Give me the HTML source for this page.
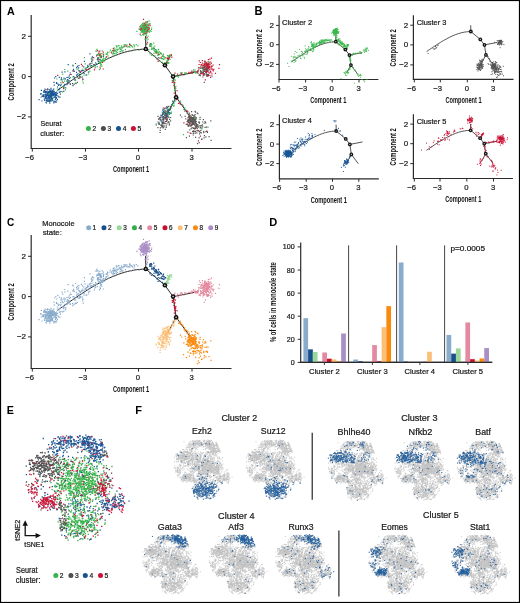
<!DOCTYPE html>
<html><head><meta charset="utf-8"><title>Figure</title>
<style>html,body{margin:0;padding:0;background:#fff;} svg{display:block;will-change:transform;}</style>
</head><body>
<svg width="520" height="603" viewBox="0 0 520 603" font-family='"Liberation Sans", sans-serif'>
<rect x="0" y="0" width="520" height="603" fill="#fff"/>
<line x1="31.20" y1="15.00" x2="31.20" y2="148.50" stroke="#2b2b2b" stroke-width="1.2"/>
<line x1="30.60" y1="148.50" x2="231.50" y2="148.50" stroke="#2b2b2b" stroke-width="1.2"/>
<line x1="28.00" y1="36.30" x2="31.20" y2="36.30" stroke="#2b2b2b" stroke-width="1.0"/>
<text x="21.58" y="38.80" font-size="7.96" fill="#1a1a1a" stroke="#1a1a1a" stroke-width="0.22">2</text>
<line x1="28.00" y1="76.60" x2="31.20" y2="76.60" stroke="#2b2b2b" stroke-width="1.0"/>
<text x="21.48" y="79.10" font-size="7.96" fill="#1a1a1a" stroke="#1a1a1a" stroke-width="0.22">0</text>
<line x1="28.00" y1="116.90" x2="31.20" y2="116.90" stroke="#2b2b2b" stroke-width="1.0"/>
<text x="16.93" y="119.40" font-size="7.96" fill="#1a1a1a" stroke="#1a1a1a" stroke-width="0.22">−2</text>
<line x1="32.30" y1="148.50" x2="32.30" y2="151.60" stroke="#2b2b2b" stroke-width="1.0"/>
<text x="25.16" y="160.00" font-size="7.67" fill="#1a1a1a" stroke="#1a1a1a" stroke-width="0.22">−6</text>
<line x1="85.50" y1="148.50" x2="85.50" y2="151.60" stroke="#2b2b2b" stroke-width="1.0"/>
<text x="78.41" y="160.00" font-size="7.67" fill="#1a1a1a" stroke="#1a1a1a" stroke-width="0.22">−3</text>
<line x1="138.50" y1="148.50" x2="138.50" y2="151.60" stroke="#2b2b2b" stroke-width="1.0"/>
<text x="135.86" y="160.00" font-size="7.67" fill="#1a1a1a" stroke="#1a1a1a" stroke-width="0.22">0</text>
<line x1="192.00" y1="148.50" x2="192.00" y2="151.60" stroke="#2b2b2b" stroke-width="1.0"/>
<text x="189.39" y="160.00" font-size="7.67" fill="#1a1a1a" stroke="#1a1a1a" stroke-width="0.22">3</text>
<text x="112.92" y="172.40" font-size="9.25" fill="#111" font-weight="bold" textLength="36.19" lengthAdjust="spacingAndGlyphs">Component 1</text>
<text x="0" y="0" font-size="9.61" fill="#111" font-weight="bold" textLength="37.17" lengthAdjust="spacingAndGlyphs" transform="translate(13.85 100.48) rotate(-90)">Component 2</text>
<text x="6.88" y="14.80" font-size="11.42" fill="#000" font-weight="bold" textLength="7.76" lengthAdjust="spacingAndGlyphs">A</text>
<path d="M57.50 90.29 L60.54 88.14 L63.59 85.99 L66.63 83.86 L69.68 81.74 L72.72 79.64 L75.77 77.57 L78.81 75.54 L81.86 73.54 L84.90 71.58 L87.95 69.67 L90.99 67.81 L94.04 66.01 L97.08 64.27 L100.13 62.61 L103.17 61.01 L106.22 59.49 L109.26 58.06 L112.31 56.71 L115.35 55.46 L118.40 54.30 L121.44 53.25 L124.49 52.31 L127.53 51.48 L130.58 50.77 L133.62 50.19 L136.67 49.73 L139.71 49.41 L142.76 49.23 L145.80 49.19" fill="none" stroke="#2a2a2a" stroke-width="1.0"/>
<path d="M145.80 49.00 L145.60 36.00" fill="none" stroke="#2a2a2a" stroke-width="1.0"/>
<path d="M145.80 49.00 L164.90 65.30 L173.10 76.60 L176.10 97.20" fill="none" stroke="#2a2a2a" stroke-width="1.0"/>
<path d="M173.10 76.60 L198.50 71.60" fill="none" stroke="#2a2a2a" stroke-width="1.0"/>
<path d="M176.10 97.20 L167.80 113.00" fill="none" stroke="#2a2a2a" stroke-width="1.0"/>
<path d="M176.10 97.20 L190.00 116.50" fill="none" stroke="#2a2a2a" stroke-width="1.0"/>
<path d="M129.7 45.2h1.2M185.5 73.3h1.2M79.9 72.0h1.2M96.0 55.8h1.2M203.7 64.2h1.2M208.2 67.6h1.2M146.9 29.5h1.2M99.4 51.0h1.2M167.9 110.1h1.2M203.7 63.8h1.2M191.7 73.1h1.2M205.6 62.4h1.2M202.7 71.6h1.2M166.5 58.1h1.2M176.1 99.7h1.2M212.5 65.2h1.2M191.5 118.7h1.2M176.9 74.2h1.2M144.4 27.3h1.2M146.6 28.1h1.2M139.3 29.4h1.2M163.3 117.7h1.2M99.5 67.2h1.2M206.9 74.7h1.2M173.7 93.2h1.2M205.0 65.9h1.2M206.1 71.9h1.2M208.0 68.6h1.2M145.6 28.8h1.2M102.7 52.2h1.2M139.3 26.8h1.2M93.8 69.8h1.2M143.7 25.8h1.2M173.4 85.7h1.2M148.4 24.1h1.2M212.7 70.9h1.2M208.7 73.2h1.2M85.5 69.0h1.2M57.1 75.4h1.2M199.7 62.5h1.2M207.7 76.0h1.2M206.2 65.0h1.2M207.7 64.9h1.2M194.0 71.8h1.2M145.2 26.8h1.2M197.0 71.7h1.2M209.3 59.1h1.2M205.5 64.4h1.2M97.5 58.8h1.2M211.4 73.8h1.2M143.9 30.0h1.2M202.4 72.4h1.2M177.9 103.4h1.2M189.6 133.2h1.2M165.1 112.9h1.2M157.5 61.3h1.2M88.4 68.9h1.2M160.8 53.7h1.2M202.9 65.5h1.2M124.4 45.8h1.2M206.1 63.5h1.2M142.8 26.5h1.2M206.0 64.0h1.2M204.2 64.8h1.2M201.8 63.0h1.2M209.4 75.5h1.2M143.3 24.9h1.2M167.2 62.6h1.2M148.4 24.7h1.2M113.5 50.3h1.2M148.3 31.6h1.2M205.1 66.4h1.2M190.7 121.4h1.2M206.8 65.0h1.2M143.3 23.2h1.2M189.7 122.1h1.2M102.7 69.0h1.2M158.7 119.0h1.2M210.6 68.9h1.2M163.8 112.3h1.2M205.5 72.4h1.2M139.9 26.3h1.2M62.5 82.7h1.2M167.6 57.1h1.2M199.9 73.3h1.2M167.2 62.0h1.2M142.2 25.7h1.2M169.0 57.4h1.2M205.9 67.2h1.2M191.1 71.1h1.2M209.4 67.6h1.2M206.2 75.7h1.2M207.9 75.2h1.2" stroke="#cc1538" stroke-width="1.24"/>
<path d="M192.3 118.0h1.2M77.3 69.2h1.2M153.6 56.1h1.2M146.3 27.3h1.2M98.2 53.9h1.2M142.4 31.7h1.2M93.6 64.9h1.2M145.9 28.6h1.2M196.9 70.9h1.2M69.8 77.7h1.2M185.4 73.0h1.2M99.3 56.9h1.2M156.8 58.4h1.2M145.7 35.5h1.2M145.0 27.0h1.2M181.3 73.2h1.2M121.3 46.8h1.2M148.4 27.0h1.2M194.5 122.2h1.2M62.1 74.2h1.2M140.6 28.5h1.2M182.9 134.6h1.2M74.7 83.1h1.2M145.4 27.2h1.2M158.9 54.6h1.2M146.3 30.3h1.2M149.4 52.7h1.2M103.6 61.2h1.2M130.8 45.7h1.2M194.8 73.0h1.2M145.6 34.3h1.2M161.4 56.7h1.2M169.2 56.4h1.2M133.6 48.0h1.2M96.3 51.1h1.2M188.2 115.2h1.2M99.3 54.3h1.2M166.8 60.0h1.2M189.7 115.5h1.2M171.8 104.1h1.2M197.8 127.2h1.2M140.1 25.9h1.2M108.0 58.2h1.2M99.8 68.6h1.2M158.6 51.6h1.2M151.2 55.3h1.2M145.8 29.4h1.2M150.9 29.4h1.2M121.7 51.0h1.2M148.2 27.0h1.2M155.7 125.2h1.2M68.6 80.9h1.2M115.0 50.6h1.2M194.9 71.9h1.2M168.3 57.4h1.2M207.1 63.6h1.2M148.5 30.1h1.2M101.0 56.3h1.2M145.6 31.7h1.2M115.4 49.2h1.2M159.6 53.1h1.2M174.5 90.5h1.2M144.8 30.9h1.2M143.3 34.9h1.2M60.2 82.7h1.2M135.7 44.6h1.2M89.3 71.2h1.2M145.3 26.9h1.2M163.1 59.3h1.2M180.1 73.9h1.2M101.3 53.6h1.2M86.2 74.8h1.2M138.5 50.2h1.2M172.2 81.0h1.2M88.1 74.0h1.2M153.2 49.9h1.2M168.3 63.1h1.2M76.0 69.0h1.2M119.5 49.1h1.2M150.5 31.4h1.2M151.3 47.1h1.2M106.9 54.1h1.2M87.1 67.0h1.2M154.8 51.5h1.2M146.0 26.0h1.2M168.3 56.0h1.2M101.9 60.0h1.2M145.6 35.9h1.2M72.2 65.1h1.2M146.3 21.8h1.2M149.6 23.8h1.2M146.0 30.3h1.2M101.4 61.4h1.2M100.2 65.3h1.2M144.6 31.7h1.2M99.5 56.3h1.2M194.4 70.1h1.2M58.7 88.4h1.2M160.5 53.3h1.2M144.6 28.3h1.2M146.4 32.8h1.2M141.1 31.5h1.2M138.3 29.0h1.2M138.9 29.0h1.2M62.7 87.5h1.2M207.1 64.6h1.2M156.5 51.8h1.2M145.4 22.1h1.2M185.6 73.1h1.2M140.8 29.9h1.2M122.4 50.9h1.2M167.1 118.2h1.2M147.9 27.7h1.2M144.6 27.0h1.2M148.8 32.2h1.2M95.3 51.2h1.2M110.9 51.9h1.2M174.1 87.7h1.2M66.5 81.5h1.2M82.7 83.1h1.2M107.4 55.9h1.2M142.8 26.7h1.2M100.5 57.4h1.2M145.4 31.1h1.2M164.6 118.0h1.2M153.4 53.4h1.2M167.5 62.7h1.2M193.9 72.5h1.2M119.7 51.4h1.2M113.9 53.6h1.2M170.9 112.1h1.2M157.6 50.0h1.2M194.2 118.6h1.2M147.8 28.1h1.2M207.4 127.1h1.2M127.7 46.7h1.2M161.7 112.4h1.2M207.5 61.5h1.2M97.2 57.5h1.2M121.1 50.5h1.2M143.4 31.5h1.2M115.2 50.9h1.2M174.1 86.0h1.2M78.6 70.8h1.2M145.1 32.0h1.2M184.5 73.2h1.2M79.0 78.0h1.2M164.3 58.7h1.2M150.3 46.4h1.2M121.4 51.1h1.2M83.4 75.1h1.2M155.9 51.2h1.2M144.9 29.3h1.2M60.2 80.0h1.2M103.0 54.1h1.2M126.6 47.0h1.2M173.3 105.9h1.2M113.1 52.1h1.2M126.6 45.0h1.2M163.3 56.8h1.2M155.4 52.4h1.2M159.7 61.3h1.2M120.0 49.3h1.2M174.6 87.4h1.2M192.4 118.9h1.2M144.9 25.8h1.2M175.1 88.5h1.2M143.5 25.0h1.2M89.8 63.3h1.2M137.3 45.9h1.2" stroke="#3db84e" stroke-width="1.24"/>
<path d="M204.5 127.4h1.2M187.2 120.3h1.2M168.1 113.5h1.2M189.6 119.2h1.2M161.1 122.0h1.2M209.3 69.9h1.2M165.2 123.6h1.2M164.3 115.9h1.2M190.5 116.2h1.2M199.0 132.0h1.2M189.2 123.0h1.2M204.5 121.6h1.2M190.7 125.6h1.2M203.8 71.4h1.2M193.3 120.2h1.2M183.6 109.6h1.2M205.1 122.9h1.2M196.3 125.4h1.2M159.8 127.8h1.2M192.7 135.0h1.2M199.2 125.9h1.2M188.2 121.5h1.2M194.6 123.9h1.2M192.1 119.1h1.2M192.8 128.3h1.2M206.1 68.5h1.2M189.2 129.9h1.2M200.9 72.8h1.2M198.5 137.8h1.2M192.8 122.7h1.2M194.9 131.4h1.2M176.1 75.7h1.2M202.0 122.0h1.2M187.3 132.1h1.2M189.6 119.4h1.2M200.5 73.3h1.2M164.1 115.5h1.2M188.5 125.9h1.2M75.3 83.4h1.2M189.7 120.6h1.2M194.4 114.7h1.2M186.7 113.6h1.2M190.3 119.2h1.2M193.1 133.0h1.2M197.9 130.6h1.2M187.8 122.2h1.2M187.5 117.5h1.2M165.3 118.3h1.2M206.0 73.8h1.2M167.6 116.0h1.2M191.1 122.9h1.2M199.9 73.2h1.2M192.5 71.4h1.2M196.7 128.6h1.2M193.2 123.9h1.2M206.0 69.4h1.2M168.3 117.3h1.2M206.2 74.6h1.2M205.5 72.1h1.2M170.1 117.5h1.2M166.1 117.4h1.2M162.2 119.4h1.2M203.7 73.7h1.2M211.4 76.1h1.2M164.9 118.1h1.2M179.8 115.2h1.2M158.5 124.3h1.2M195.6 123.4h1.2M166.2 120.1h1.2M168.0 122.1h1.2M160.5 115.1h1.2M165.7 125.9h1.2M203.8 135.7h1.2M188.6 113.0h1.2M206.8 69.7h1.2M194.2 123.0h1.2M192.9 130.9h1.2M191.1 124.7h1.2M203.4 67.1h1.2M202.5 74.9h1.2M192.5 131.7h1.2M205.2 72.5h1.2M163.3 126.9h1.2M199.1 74.8h1.2M202.8 119.7h1.2M193.6 131.3h1.2M185.9 137.7h1.2M165.0 113.4h1.2M188.7 116.2h1.2M194.8 119.4h1.2M204.3 69.5h1.2M206.2 69.5h1.2M179.7 101.0h1.2M163.4 123.3h1.2M195.7 117.9h1.2M160.4 125.1h1.2M203.9 67.4h1.2M197.9 67.9h1.2M165.0 111.2h1.2M204.4 71.2h1.2M161.9 123.2h1.2M190.4 119.2h1.2M204.9 68.0h1.2M192.0 121.5h1.2M191.5 127.7h1.2M161.6 125.4h1.2M199.9 127.5h1.2M206.5 76.4h1.2M193.5 119.0h1.2M158.8 118.0h1.2M201.8 124.8h1.2M198.8 123.1h1.2M201.4 68.4h1.2M201.8 67.5h1.2M194.4 120.3h1.2M162.1 119.5h1.2M194.7 133.2h1.2M204.0 75.0h1.2M196.9 143.7h1.2M195.0 119.7h1.2M199.6 68.4h1.2M188.8 120.0h1.2M162.7 118.3h1.2M203.7 82.4h1.2" stroke="#555555" stroke-width="1.24"/>
<path d="M45.7 96.7h1.2M52.6 92.7h1.2M153.8 48.7h1.2M52.7 95.7h1.2M87.0 65.9h1.2M51.8 91.2h1.2M51.9 100.0h1.2M60.5 84.4h1.2M83.5 73.4h1.2M55.0 92.5h1.2M51.4 94.6h1.2M48.5 92.0h1.2M50.9 94.8h1.2M97.8 57.8h1.2M72.9 69.3h1.2M162.9 111.7h1.2M46.0 94.9h1.2M55.9 83.5h1.2M51.9 93.7h1.2M170.1 113.5h1.2M166.6 114.0h1.2M166.7 109.8h1.2M96.9 59.3h1.2M165.7 115.9h1.2M42.1 96.4h1.2M48.1 91.5h1.2M78.4 65.5h1.2M45.1 95.9h1.2M49.6 90.1h1.2M162.8 111.5h1.2M49.1 95.0h1.2M172.0 101.1h1.2M75.0 80.0h1.2M43.7 90.7h1.2M66.9 83.2h1.2M66.3 77.5h1.2M50.5 99.0h1.2M41.3 101.0h1.2M78.0 67.8h1.2M45.4 100.0h1.2M55.4 102.3h1.2M47.5 97.8h1.2M44.3 89.0h1.2M44.9 97.2h1.2M47.8 92.7h1.2M64.5 87.6h1.2M50.0 100.6h1.2M67.5 80.0h1.2M48.3 95.0h1.2M50.4 96.1h1.2M69.6 84.2h1.2M67.4 82.3h1.2M164.6 117.8h1.2M174.1 100.7h1.2M44.7 94.3h1.2M51.5 99.4h1.2M45.7 92.5h1.2M49.0 95.7h1.2M58.5 84.6h1.2M48.1 101.2h1.2M162.8 109.9h1.2M75.9 72.3h1.2M49.3 97.1h1.2M165.7 112.7h1.2M89.4 53.9h1.2M56.1 92.1h1.2M48.8 97.9h1.2M95.9 64.4h1.2M79.0 76.1h1.2M50.4 94.2h1.2M53.7 96.2h1.2M49.6 96.5h1.2M142.6 27.8h1.2M97.4 60.9h1.2M121.4 47.8h1.2M40.1 94.2h1.2M77.0 66.3h1.2M166.1 117.0h1.2M51.6 93.1h1.2M58.7 92.1h1.2M59.3 97.2h1.2M48.6 100.6h1.2M49.6 91.9h1.2M50.8 90.0h1.2M51.8 98.7h1.2M72.5 65.9h1.2M82.3 79.4h1.2M50.4 94.6h1.2M64.3 71.8h1.2M41.6 95.0h1.2M53.8 94.5h1.2M142.5 30.1h1.2M46.1 98.8h1.2M48.7 91.9h1.2M53.0 94.6h1.2M50.0 96.0h1.2M44.4 91.2h1.2M51.7 100.7h1.2M47.3 99.9h1.2M46.7 94.6h1.2M140.6 28.1h1.2M49.4 94.3h1.2M74.9 63.5h1.2M61.4 80.0h1.2M57.0 93.5h1.2M53.1 89.2h1.2M52.4 92.2h1.2M45.8 103.0h1.2M87.6 66.6h1.2M54.5 96.1h1.2M161.4 115.4h1.2M56.1 100.8h1.2M166.1 113.4h1.2M69.6 74.5h1.2M54.0 78.0h1.2M50.6 99.7h1.2M47.5 96.9h1.2M56.6 93.7h1.2M44.8 92.6h1.2M169.3 112.7h1.2M59.0 88.7h1.2M168.3 113.2h1.2M49.2 91.9h1.2M54.8 99.5h1.2M54.9 95.7h1.2M166.6 112.9h1.2M164.5 114.2h1.2M55.6 98.3h1.2M63.2 91.4h1.2M55.7 95.3h1.2M53.0 93.7h1.2M53.6 85.2h1.2M46.1 100.7h1.2M164.8 115.0h1.2M49.5 91.5h1.2" stroke="#1a5796" stroke-width="1.24"/>
<path d="M143.3 31.0h1.2M141.1 29.2h1.2M167.0 63.7h1.2M61.9 86.5h1.2M146.3 27.6h1.2M168.7 108.4h1.2M169.0 55.4h1.2M132.0 46.8h1.2M144.5 27.2h1.2M96.8 58.8h1.2M170.4 55.0h1.2M146.1 44.0h1.2M116.2 47.2h1.2M168.8 113.6h1.2M145.5 31.2h1.2M204.1 69.2h1.2M90.7 59.2h1.2M173.0 77.9h1.2M121.0 49.0h1.2M196.6 72.6h1.2M169.0 56.4h1.2M100.1 59.8h1.2M116.6 50.2h1.2M147.3 28.5h1.2M76.9 77.7h1.2M144.7 25.8h1.2M157.7 53.8h1.2M155.1 49.7h1.2M166.3 62.1h1.2M75.6 83.6h1.2M148.2 49.7h1.2M100.7 64.4h1.2M144.8 28.9h1.2M145.0 28.9h1.2M116.7 49.4h1.2M101.6 50.9h1.2M144.2 28.8h1.2M119.4 52.0h1.2M112.4 53.3h1.2M141.3 25.2h1.2M163.6 56.8h1.2M200.3 66.0h1.2M193.0 69.8h1.2M98.9 69.7h1.2M147.6 27.8h1.2M147.3 26.4h1.2M142.8 34.9h1.2M144.9 29.6h1.2M144.7 26.8h1.2M174.0 83.3h1.2M165.3 63.2h1.2M122.5 47.5h1.2M180.2 72.9h1.2M82.3 69.0h1.2M118.7 48.1h1.2M150.6 45.2h1.2M167.3 112.0h1.2M189.8 72.4h1.2M145.0 30.5h1.2M189.0 117.8h1.2M159.3 58.5h1.2M114.1 50.1h1.2M107.1 52.3h1.2M160.6 54.0h1.2M166.4 112.6h1.2M68.8 82.6h1.2M168.7 109.6h1.2M141.8 23.9h1.2M130.7 50.8h1.2M148.6 20.9h1.2M206.9 69.5h1.2M96.7 66.7h1.2M146.5 41.0h1.2M131.3 46.2h1.2M145.1 27.8h1.2M91.5 60.4h1.2M145.7 30.4h1.2M173.1 81.2h1.2M145.9 33.5h1.2M142.5 26.8h1.2M174.1 97.8h1.2M146.6 49.4h1.2M155.6 50.7h1.2M151.1 28.0h1.2M105.7 54.2h1.2M95.0 62.7h1.2M142.2 27.8h1.2M201.4 128.9h1.2M115.4 53.0h1.2M136.3 31.4h1.2M174.2 89.2h1.2M174.3 101.2h1.2M98.2 62.1h1.2M155.7 52.2h1.2M145.9 28.4h1.2M99.8 59.3h1.2M124.2 46.3h1.2M155.8 50.6h1.2M145.7 44.3h1.2M159.7 52.6h1.2M180.1 104.3h1.2M72.3 76.9h1.2M143.9 31.7h1.2M77.6 73.6h1.2M125.2 44.6h1.2M118.2 45.8h1.2M119.2 47.9h1.2M141.9 31.9h1.2M112.3 54.8h1.2M144.5 27.3h1.2M194.5 116.3h1.2M116.4 46.2h1.2M162.7 113.4h1.2M142.7 29.7h1.2M149.5 53.8h1.2M169.4 59.4h1.2M162.8 59.4h1.2M115.6 53.8h1.2M210.4 66.9h1.2M67.2 71.1h1.2M98.6 54.4h1.2M142.0 30.9h1.2M102.7 58.3h1.2M143.0 28.6h1.2M169.4 56.6h1.2M144.8 33.6h1.2M129.1 43.8h1.2M113.3 50.7h1.2M145.6 38.7h1.2M115.7 51.7h1.2M99.2 62.1h1.2M102.5 59.7h1.2M117.5 49.4h1.2M144.0 23.8h1.2M57.1 90.5h1.2M203.2 66.3h1.2M102.8 61.0h1.2M162.0 58.7h1.2M91.4 65.6h1.2M112.6 48.5h1.2M171.6 80.4h1.2M140.8 29.7h1.2M105.5 56.9h1.2M100.5 57.6h1.2M172.7 76.9h1.2M100.3 56.4h1.2M120.9 45.8h1.2M167.7 60.2h1.2M109.8 50.2h1.2M175.3 75.9h1.2M164.3 62.7h1.2M205.0 64.6h1.2M141.5 30.6h1.2M166.6 63.5h1.2M155.5 49.9h1.2M146.5 31.3h1.2M164.9 57.5h1.2M142.3 23.3h1.2M148.9 23.8h1.2M147.5 39.4h1.2M146.3 23.5h1.2M166.4 61.2h1.2M143.6 28.2h1.2M62.0 91.8h1.2M143.3 27.7h1.2M100.2 56.4h1.2M101.7 61.3h1.2M56.2 79.0h1.2M98.2 58.9h1.2M157.2 55.4h1.2M111.8 51.0h1.2M144.8 24.7h1.2M123.5 44.7h1.2M164.9 111.2h1.2M156.5 51.9h1.2M169.3 56.8h1.2M156.7 52.9h1.2M205.2 66.1h1.2M164.0 65.4h1.2M143.5 26.0h1.2M165.5 63.0h1.2M147.1 31.3h1.2M100.5 60.9h1.2M161.7 62.4h1.2M206.3 67.9h1.2" stroke="#3db84e" stroke-width="1.24"/>
<path d="M149.7 43.7h1.2M52.1 92.6h1.2M42.2 96.4h1.2M54.2 92.8h1.2M44.4 95.0h1.2M49.8 91.8h1.2M91.1 61.4h1.2M56.8 99.3h1.2M163.1 113.3h1.2M55.0 96.8h1.2M47.6 94.6h1.2M79.9 72.4h1.2M81.9 77.0h1.2M50.0 92.2h1.2M169.6 109.7h1.2M50.9 94.7h1.2M43.5 91.2h1.2M52.9 94.6h1.2M90.7 65.7h1.2M50.1 95.9h1.2M83.2 66.8h1.2M73.1 70.8h1.2M168.3 110.1h1.2M49.2 103.1h1.2M50.1 98.0h1.2M48.9 98.7h1.2M48.9 91.8h1.2M64.3 84.4h1.2M51.8 99.1h1.2M50.3 97.5h1.2M55.7 97.4h1.2M60.9 79.3h1.2M57.2 95.8h1.2M43.0 92.2h1.2M52.4 90.1h1.2M46.4 101.2h1.2M83.8 61.3h1.2M51.9 91.4h1.2M166.2 106.9h1.2M155.6 124.0h1.2M47.9 97.9h1.2M91.8 56.8h1.2M53.6 97.5h1.2M166.7 114.9h1.2M47.1 88.8h1.2M76.2 75.4h1.2M44.5 92.4h1.2M50.6 92.6h1.2M86.7 67.5h1.2M63.0 88.7h1.2M73.1 76.5h1.2M50.9 98.5h1.2M46.4 91.7h1.2M171.3 104.6h1.2M51.4 92.3h1.2M46.3 92.8h1.2M50.5 97.0h1.2M68.1 80.8h1.2M49.5 95.9h1.2M50.1 94.2h1.2M151.2 49.0h1.2M53.8 101.9h1.2M96.6 54.6h1.2M162.0 114.6h1.2M172.4 103.4h1.2M81.9 70.6h1.2M44.0 100.3h1.2M50.8 98.0h1.2M60.4 91.4h1.2M58.1 96.9h1.2M49.7 94.8h1.2M144.7 28.4h1.2M47.8 96.0h1.2M48.8 92.4h1.2M91.3 58.1h1.2M66.4 84.7h1.2M44.4 96.6h1.2M66.9 79.6h1.2M87.8 72.1h1.2M78.8 74.3h1.2M89.3 64.8h1.2M46.4 92.9h1.2M60.0 85.7h1.2M60.8 77.9h1.2M46.9 95.3h1.2M166.3 116.0h1.2M45.4 89.7h1.2M158.2 57.7h1.2M67.6 64.7h1.2M159.6 121.0h1.2M49.4 100.0h1.2M48.6 89.7h1.2M167.6 111.6h1.2M49.4 95.0h1.2M61.5 72.1h1.2M50.4 88.4h1.2M40.7 97.0h1.2M54.4 94.1h1.2M163.7 114.6h1.2M58.7 77.4h1.2M52.0 94.3h1.2M63.4 78.2h1.2M50.3 93.4h1.2M78.4 70.6h1.2M51.0 98.1h1.2M56.9 87.0h1.2M55.3 94.2h1.2M45.8 95.9h1.2M53.4 82.4h1.2M53.2 102.9h1.2M63.3 86.2h1.2M49.8 94.1h1.2M47.8 96.0h1.2M56.0 82.5h1.2M45.0 91.5h1.2M51.6 95.7h1.2M161.3 120.4h1.2" stroke="#1a5796" stroke-width="1.24"/>
<path d="M197.5 70.8h1.2M207.3 64.5h1.2M206.8 65.4h1.2M203.3 74.2h1.2M203.8 61.2h1.2M143.3 33.8h1.2M86.5 69.5h1.2M168.1 59.3h1.2M143.6 29.1h1.2M141.4 29.2h1.2M93.1 57.7h1.2M196.5 72.2h1.2M193.5 121.6h1.2M99.0 55.0h1.2M208.2 72.2h1.2M188.1 122.1h1.2M207.9 67.5h1.2M190.9 72.5h1.2M102.0 62.5h1.2M147.0 21.9h1.2M206.1 64.7h1.2M204.3 61.0h1.2M208.4 62.1h1.2M171.7 82.4h1.2M201.8 60.7h1.2M98.2 53.2h1.2M172.8 78.0h1.2M82.1 79.0h1.2M208.0 63.8h1.2M206.8 71.4h1.2M192.0 123.6h1.2M210.6 63.4h1.2M205.1 68.9h1.2M149.4 46.0h1.2M186.6 124.4h1.2M100.0 54.1h1.2M210.0 77.3h1.2M211.4 68.8h1.2M164.4 108.2h1.2M164.5 116.0h1.2M164.9 121.6h1.2M206.1 64.0h1.2M99.3 55.0h1.2M170.5 106.5h1.2M204.2 69.3h1.2M204.8 62.1h1.2M99.6 55.1h1.2M207.5 65.7h1.2M156.4 58.8h1.2M168.8 57.9h1.2M183.3 75.0h1.2M179.3 103.3h1.2M142.3 27.7h1.2M209.4 64.6h1.2M67.7 83.1h1.2M163.8 64.8h1.2M110.9 52.8h1.2M172.0 77.6h1.2M199.8 136.1h1.2M80.6 71.2h1.2M63.0 88.2h1.2M144.0 27.4h1.2M218.3 68.3h1.2M144.1 25.0h1.2M179.6 103.9h1.2M147.5 25.4h1.2M100.7 57.2h1.2M200.5 65.0h1.2M89.3 63.9h1.2M207.8 66.9h1.2M149.5 25.7h1.2M165.0 116.0h1.2M176.4 90.6h1.2M208.9 64.2h1.2M181.3 73.0h1.2M189.3 124.2h1.2M206.6 65.5h1.2M172.4 75.7h1.2M201.4 73.5h1.2M208.8 66.3h1.2M145.4 25.1h1.2M79.2 71.9h1.2M172.4 80.8h1.2M211.0 66.8h1.2M85.1 69.2h1.2M167.9 58.3h1.2M144.6 33.1h1.2M207.9 67.1h1.2M140.7 28.2h1.2M202.4 64.1h1.2M93.2 64.5h1.2M208.8 66.7h1.2M143.7 29.8h1.2M164.7 108.2h1.2M46.9 89.8h1.2M203.7 66.5h1.2M200.2 67.1h1.2M201.9 65.8h1.2M98.9 54.8h1.2M202.8 73.2h1.2M200.2 73.8h1.2" stroke="#cc1538" stroke-width="1.24"/>
<path d="M200.1 125.9h1.2M163.0 119.9h1.2M185.2 118.8h1.2M164.0 108.9h1.2M174.8 91.1h1.2M160.8 125.4h1.2M201.0 139.3h1.2M191.4 120.7h1.2M196.4 130.6h1.2M157.9 119.1h1.2M198.9 122.1h1.2M164.5 115.1h1.2M194.5 111.4h1.2M194.7 126.8h1.2M194.8 122.3h1.2M203.5 137.8h1.2M190.6 128.7h1.2M189.1 118.2h1.2M162.2 123.7h1.2M192.7 124.1h1.2M196.2 132.8h1.2M191.3 120.9h1.2M201.4 139.2h1.2M78.1 78.3h1.2M168.7 123.8h1.2M202.4 70.1h1.2M206.5 67.1h1.2M205.3 136.9h1.2M195.6 121.6h1.2M182.0 105.0h1.2M194.2 128.4h1.2M189.1 118.7h1.2M189.6 123.6h1.2M192.9 122.6h1.2M205.2 71.5h1.2M188.6 123.9h1.2M187.8 120.5h1.2M185.7 124.3h1.2M162.7 127.4h1.2M192.6 133.5h1.2M190.1 121.1h1.2M167.1 110.4h1.2M192.4 121.0h1.2M202.6 69.5h1.2M189.8 119.9h1.2M196.6 124.7h1.2M159.4 118.0h1.2M195.0 137.3h1.2M188.1 116.3h1.2M194.2 117.1h1.2M206.2 131.3h1.2M190.1 126.1h1.2M166.8 119.9h1.2M197.5 130.8h1.2M197.4 126.8h1.2M189.0 120.1h1.2M200.3 130.4h1.2M169.8 108.8h1.2M200.1 71.7h1.2M191.7 118.2h1.2M202.7 72.7h1.2M192.1 119.2h1.2M76.8 82.3h1.2M169.6 106.3h1.2M191.7 122.9h1.2M198.6 142.7h1.2M165.7 116.7h1.2M188.8 136.2h1.2M162.4 128.0h1.2M157.4 122.0h1.2M205.4 70.9h1.2M167.8 109.5h1.2M69.9 84.2h1.2M159.6 130.4h1.2M160.6 125.1h1.2M199.5 117.4h1.2M193.9 120.0h1.2M168.8 124.8h1.2M184.3 111.2h1.2M170.0 120.9h1.2M200.0 70.7h1.2M177.3 98.6h1.2M163.4 125.7h1.2M187.5 125.8h1.2M201.1 125.7h1.2M193.5 115.6h1.2M199.0 133.8h1.2M162.8 116.6h1.2M198.0 122.2h1.2M206.9 75.3h1.2M191.5 124.6h1.2M166.1 116.4h1.2M202.3 77.0h1.2M204.9 68.7h1.2M167.0 113.9h1.2M208.5 136.7h1.2M163.1 121.9h1.2M196.4 126.8h1.2M206.4 69.2h1.2M201.0 71.9h1.2M165.9 121.5h1.2M202.2 72.5h1.2M195.2 118.2h1.2M163.3 122.5h1.2M188.1 117.3h1.2M207.7 70.8h1.2M192.9 128.1h1.2M184.6 116.4h1.2M181.1 117.0h1.2M162.6 108.2h1.2M192.1 115.3h1.2M206.5 70.3h1.2M157.3 127.6h1.2M166.6 113.7h1.2M199.6 127.8h1.2M163.2 120.1h1.2M203.3 67.8h1.2M167.3 111.0h1.2" stroke="#555555" stroke-width="1.24"/>
<path d="M166.8 58.5h1.2M97.0 50.5h1.2M197.8 140.9h1.2M168.9 55.6h1.2M146.3 44.0h1.2M210.2 72.6h1.2M206.9 66.5h1.2M143.7 26.8h1.2M180.8 74.4h1.2M113.4 51.2h1.2M148.2 29.0h1.2M146.5 37.7h1.2M200.8 64.7h1.2M187.2 111.5h1.2M162.4 56.0h1.2M94.5 68.0h1.2M189.0 116.9h1.2M129.0 44.7h1.2M70.6 74.5h1.2M208.0 63.7h1.2M206.0 65.7h1.2M183.3 122.9h1.2M218.9 64.6h1.2M174.2 82.6h1.2M166.2 62.3h1.2M203.1 67.8h1.2M208.1 66.1h1.2M208.6 69.3h1.2M79.3 77.7h1.2M143.7 33.0h1.2M142.9 19.3h1.2M202.8 75.1h1.2M204.1 66.2h1.2M188.9 119.2h1.2M191.2 125.2h1.2M206.8 66.9h1.2M173.9 87.9h1.2M194.0 129.0h1.2M147.1 27.3h1.2M207.8 59.6h1.2M204.8 66.7h1.2M148.2 29.5h1.2M158.0 54.3h1.2M98.6 59.6h1.2M175.3 95.2h1.2M166.4 118.7h1.2M146.9 42.5h1.2M189.0 114.1h1.2M195.4 126.1h1.2M203.4 65.5h1.2M199.2 131.3h1.2M165.7 62.5h1.2M205.9 64.9h1.2M197.4 73.2h1.2M203.7 71.2h1.2M98.7 55.5h1.2M204.8 79.8h1.2M206.6 63.1h1.2M166.8 112.3h1.2M205.3 63.6h1.2M195.2 128.0h1.2M155.5 53.1h1.2M140.3 29.4h1.2M72.2 70.8h1.2M204.1 64.4h1.2M167.6 58.8h1.2M190.3 133.3h1.2M160.5 57.7h1.2M202.3 67.3h1.2M198.4 67.5h1.2M210.1 62.2h1.2M170.6 55.5h1.2M146.1 32.1h1.2M144.3 23.4h1.2M147.0 30.4h1.2M210.9 58.1h1.2M80.8 64.4h1.2M206.0 71.9h1.2M102.9 54.9h1.2M211.4 66.3h1.2M188.3 72.4h1.2M212.1 69.9h1.2M198.5 64.5h1.2M171.2 57.1h1.2M148.9 28.1h1.2M206.3 131.4h1.2M113.1 48.7h1.2M205.3 68.7h1.2M167.4 59.2h1.2M201.0 65.0h1.2M174.4 73.2h1.2M205.6 72.4h1.2M206.5 68.1h1.2M210.6 66.2h1.2M205.8 70.4h1.2M106.0 56.9h1.2M186.3 110.6h1.2M213.2 69.3h1.2M210.0 71.3h1.2M100.2 55.6h1.2M145.3 27.3h1.2M204.3 64.2h1.2M125.9 46.2h1.2M190.2 72.8h1.2M98.5 51.7h1.2M92.2 59.9h1.2M175.1 95.5h1.2M214.9 73.3h1.2M112.3 50.4h1.2M170.9 54.8h1.2M206.4 65.5h1.2M139.6 34.1h1.2M81.8 65.8h1.2M198.7 60.9h1.2M198.2 69.8h1.2" stroke="#cc1538" stroke-width="1.24"/>
<path d="M68.7 75.9h1.2M162.0 110.0h1.2M51.0 98.6h1.2M163.7 114.4h1.2M55.2 76.6h1.2M50.2 95.7h1.2M50.9 93.7h1.2M81.3 70.4h1.2M55.3 95.0h1.2M76.6 74.4h1.2M57.9 85.3h1.2M162.4 116.5h1.2M160.2 119.8h1.2M47.3 98.0h1.2M51.0 98.5h1.2M49.5 99.3h1.2M48.5 91.8h1.2M55.7 94.0h1.2M53.3 91.2h1.2M163.6 112.4h1.2M47.7 97.0h1.2M38.5 99.6h1.2M47.1 93.4h1.2M54.7 101.4h1.2M165.1 114.1h1.2M68.9 78.4h1.2M159.5 132.5h1.2M64.8 78.8h1.2M67.5 77.4h1.2M46.3 92.0h1.2M43.3 94.5h1.2M40.4 93.5h1.2M51.2 91.7h1.2M42.8 96.7h1.2M45.7 96.1h1.2M46.9 93.7h1.2M49.7 96.5h1.2M59.5 92.1h1.2M52.5 97.8h1.2M45.8 97.9h1.2M50.6 101.0h1.2M73.7 71.3h1.2M76.1 67.4h1.2M43.2 95.7h1.2M53.1 95.5h1.2M95.5 63.9h1.2M83.2 70.6h1.2M166.5 107.3h1.2M44.8 97.3h1.2M102.8 56.7h1.2M159.7 117.3h1.2M48.9 101.7h1.2M73.8 77.9h1.2M47.6 100.1h1.2M55.7 95.5h1.2M49.5 92.1h1.2M162.4 113.4h1.2M97.1 59.2h1.2M49.6 95.5h1.2M58.3 89.6h1.2M53.2 101.1h1.2M168.2 112.6h1.2M51.1 96.1h1.2M45.4 102.4h1.2M49.5 90.9h1.2M91.3 63.1h1.2M55.0 98.1h1.2M48.1 95.7h1.2M43.8 99.2h1.2M42.9 95.8h1.2M168.5 114.5h1.2M47.1 101.4h1.2M44.7 98.3h1.2M72.0 83.6h1.2M57.2 83.9h1.2M167.1 116.5h1.2M55.7 97.6h1.2M167.7 112.5h1.2M47.3 98.7h1.2M51.5 95.2h1.2M48.5 95.9h1.2M44.5 92.2h1.2M53.3 93.5h1.2M46.5 93.0h1.2M51.5 98.7h1.2M53.1 91.7h1.2M40.8 90.4h1.2M167.6 110.3h1.2M51.6 92.8h1.2M66.4 80.8h1.2M53.0 94.2h1.2M98.2 61.3h1.2M47.9 96.5h1.2M55.8 94.6h1.2M163.3 123.7h1.2M93.6 65.0h1.2M50.7 96.5h1.2M85.5 75.1h1.2M69.7 73.0h1.2M53.2 95.0h1.2M49.3 101.2h1.2M53.8 91.8h1.2M45.8 95.1h1.2M50.3 91.1h1.2M167.1 107.6h1.2M47.7 93.1h1.2M49.1 93.1h1.2M50.4 97.3h1.2M50.9 97.8h1.2M169.0 110.1h1.2M54.6 93.8h1.2" stroke="#1a5796" stroke-width="1.24"/>
<path d="M154.1 50.9h1.2M157.5 55.0h1.2M154.2 46.0h1.2M123.1 46.3h1.2M104.9 58.2h1.2M170.5 113.6h1.2M104.3 58.9h1.2M48.8 93.6h1.2M203.1 131.4h1.2M79.7 76.4h1.2M64.8 89.6h1.2M169.3 55.2h1.2M107.2 52.3h1.2M168.0 56.8h1.2M143.7 32.8h1.2M171.0 107.8h1.2M63.4 79.4h1.2M149.8 44.8h1.2M97.1 55.3h1.2M143.5 24.6h1.2M146.0 28.9h1.2M101.2 66.2h1.2M142.2 31.9h1.2M144.5 39.3h1.2M154.1 51.6h1.2M94.9 67.0h1.2M166.9 55.6h1.2M142.0 34.3h1.2M149.7 30.5h1.2M149.2 44.6h1.2M155.0 49.6h1.2M85.1 68.1h1.2M115.6 45.8h1.2M195.7 72.9h1.2M142.8 31.3h1.2M208.4 62.7h1.2M171.7 105.2h1.2M202.6 70.9h1.2M173.4 75.3h1.2M147.6 31.4h1.2M145.0 22.2h1.2M153.1 48.4h1.2M142.8 30.6h1.2M118.1 45.5h1.2M142.2 29.9h1.2M87.4 65.2h1.2M146.1 25.6h1.2M166.0 61.4h1.2M143.6 28.0h1.2M143.2 27.5h1.2M64.0 81.2h1.2M99.9 62.8h1.2M166.1 63.4h1.2M195.8 118.8h1.2M146.8 24.8h1.2M162.1 56.1h1.2M161.0 58.7h1.2M185.3 73.5h1.2M167.4 63.0h1.2M146.1 24.7h1.2M80.7 73.8h1.2M97.3 54.3h1.2M112.7 53.4h1.2M145.5 29.5h1.2M113.5 47.8h1.2M144.7 28.2h1.2M93.4 65.8h1.2M141.5 27.6h1.2M150.5 43.5h1.2M154.4 56.0h1.2M146.7 29.2h1.2M139.9 30.6h1.2M204.0 62.4h1.2M106.4 53.8h1.2M144.7 31.0h1.2M167.5 113.3h1.2M167.3 109.9h1.2M141.1 24.9h1.2M143.3 27.3h1.2M84.6 63.8h1.2M143.7 31.5h1.2M140.7 27.5h1.2M64.1 69.5h1.2M123.8 46.7h1.2M153.1 43.2h1.2M167.3 60.2h1.2M166.1 112.4h1.2M151.1 48.9h1.2M133.3 44.9h1.2M147.0 28.1h1.2M88.4 72.0h1.2M151.2 44.7h1.2M142.9 28.8h1.2M61.8 81.7h1.2M174.8 80.1h1.2M175.3 86.7h1.2M82.0 81.0h1.2M177.9 77.2h1.2M148.9 46.1h1.2M65.3 87.9h1.2M86.1 67.7h1.2M177.1 76.5h1.2M168.5 56.1h1.2M153.4 47.9h1.2M100.0 63.9h1.2M184.2 107.8h1.2M174.7 90.3h1.2M96.3 49.3h1.2M145.2 49.8h1.2M140.6 32.5h1.2M185.3 109.8h1.2M142.3 28.2h1.2M100.9 61.1h1.2M173.1 105.8h1.2M184.0 73.0h1.2M147.1 24.9h1.2M124.8 49.6h1.2M149.7 30.6h1.2M173.5 79.3h1.2M158.0 49.4h1.2M141.5 26.2h1.2M100.2 60.3h1.2M173.8 74.3h1.2M73.9 79.9h1.2M145.0 26.3h1.2M144.3 31.2h1.2M153.1 47.4h1.2M203.2 66.7h1.2M162.5 54.8h1.2M152.3 48.8h1.2M98.5 54.5h1.2M141.2 31.4h1.2M84.2 69.0h1.2M113.6 50.4h1.2M190.4 120.2h1.2M143.6 28.5h1.2M139.8 30.7h1.2M140.4 35.6h1.2M105.7 53.9h1.2M146.7 29.1h1.2M116.9 52.5h1.2M157.6 52.7h1.2M168.6 55.6h1.2M51.4 99.9h1.2M145.6 22.5h1.2M129.2 47.1h1.2M134.0 46.2h1.2M180.0 102.3h1.2M83.8 57.6h1.2M201.2 68.2h1.2M109.2 52.0h1.2M89.4 67.0h1.2M173.4 103.9h1.2M102.2 60.7h1.2M164.3 114.7h1.2M150.8 43.9h1.2M178.7 74.9h1.2M147.5 36.2h1.2M162.9 54.2h1.2M128.4 46.6h1.2M102.9 55.6h1.2M144.1 26.7h1.2M56.7 89.0h1.2M140.1 26.4h1.2M142.5 32.4h1.2M142.2 31.1h1.2M99.1 63.3h1.2M119.6 47.8h1.2M99.7 55.1h1.2M90.2 66.6h1.2M173.8 101.9h1.2" stroke="#3db84e" stroke-width="1.24"/>
<path d="M195.8 124.5h1.2M80.4 77.1h1.2M203.7 70.0h1.2M192.7 118.9h1.2M202.1 126.8h1.2M188.7 122.4h1.2M192.7 124.1h1.2M166.2 114.6h1.2M191.2 121.7h1.2M191.2 120.3h1.2M190.7 118.2h1.2M206.9 132.3h1.2M190.3 119.5h1.2M162.4 113.6h1.2M161.6 117.1h1.2M163.1 119.4h1.2M196.6 113.0h1.2M161.3 125.1h1.2M164.8 119.0h1.2M166.4 111.3h1.2M186.7 124.1h1.2M163.9 117.5h1.2M193.0 117.1h1.2M199.7 75.7h1.2M189.7 125.3h1.2M202.9 68.2h1.2M191.5 114.5h1.2M203.0 131.8h1.2M72.3 85.7h1.2M203.2 132.6h1.2M193.3 117.1h1.2M191.8 122.1h1.2M191.9 123.1h1.2M161.4 117.7h1.2M162.9 118.7h1.2M210.2 120.8h1.2M157.9 123.2h1.2M194.1 125.1h1.2M59.8 94.2h1.2M190.7 117.1h1.2M191.0 111.7h1.2M158.8 124.1h1.2M194.9 112.1h1.2M190.0 118.4h1.2M161.6 121.8h1.2M168.4 122.2h1.2M191.1 121.2h1.2M187.5 119.0h1.2M192.8 121.2h1.2M167.7 106.3h1.2M192.7 123.2h1.2M165.8 115.2h1.2M192.3 121.5h1.2M165.4 117.2h1.2M161.0 126.8h1.2M164.1 110.8h1.2M206.2 68.8h1.2M195.5 126.2h1.2M195.1 121.2h1.2M195.6 127.3h1.2M166.5 124.0h1.2M187.9 126.1h1.2M204.4 74.2h1.2M157.4 116.4h1.2M195.6 125.5h1.2M193.9 120.1h1.2M192.1 131.4h1.2M200.9 128.0h1.2M167.3 122.1h1.2M160.4 116.0h1.2M195.6 125.7h1.2M191.6 118.7h1.2M165.8 119.6h1.2M189.5 120.3h1.2M192.2 119.6h1.2M194.9 128.7h1.2M194.8 121.3h1.2M164.7 129.3h1.2M186.5 121.5h1.2M163.4 117.6h1.2M197.0 126.1h1.2M189.7 120.8h1.2M74.5 80.0h1.2M158.5 122.8h1.2M200.2 132.5h1.2M187.8 125.0h1.2M193.6 124.0h1.2M169.0 119.4h1.2M73.5 84.4h1.2M199.4 119.3h1.2M191.9 118.0h1.2M203.4 70.2h1.2M207.1 68.5h1.2M162.1 122.2h1.2M205.9 127.2h1.2M187.7 120.3h1.2M191.6 117.5h1.2M205.4 131.6h1.2M207.9 74.7h1.2M190.3 117.5h1.2M161.6 123.4h1.2M197.5 125.0h1.2M193.1 121.5h1.2M188.0 119.5h1.2M166.2 108.4h1.2M203.6 123.2h1.2M202.0 68.1h1.2M193.2 117.6h1.2M189.9 117.7h1.2M210.5 140.3h1.2M162.6 123.5h1.2M200.7 132.9h1.2M162.6 123.1h1.2M165.6 127.3h1.2M161.9 126.7h1.2M159.5 119.0h1.2M189.8 118.5h1.2M187.1 121.8h1.2M159.8 119.5h1.2M182.7 106.0h1.2M197.2 113.6h1.2M190.6 121.4h1.2M165.8 121.4h1.2M198.5 75.2h1.2" stroke="#555555" stroke-width="1.24"/>
<circle cx="145.80" cy="49.00" r="2.3" fill="#111"/><circle cx="145.80" cy="49.00" r="0.8" fill="#ddd"/>
<circle cx="164.90" cy="65.30" r="2.3" fill="#111"/><circle cx="164.90" cy="65.30" r="0.8" fill="#ddd"/>
<circle cx="173.10" cy="76.60" r="2.3" fill="#111"/><circle cx="173.10" cy="76.60" r="0.8" fill="#ddd"/>
<circle cx="176.10" cy="97.20" r="2.3" fill="#111"/><circle cx="176.10" cy="97.20" r="0.8" fill="#ddd"/>
<text x="40.53" y="126.40" font-size="7.96" fill="#1a1a1a" stroke="#1a1a1a" stroke-width="0.22" textLength="20.98" lengthAdjust="spacingAndGlyphs">Seurat</text>
<text x="40.23" y="135.60" font-size="8.07" fill="#1a1a1a" stroke="#1a1a1a" stroke-width="0.22" textLength="24.20" lengthAdjust="spacingAndGlyphs">cluster:</text>
<circle cx="88.45" cy="128.6" r="2.5" fill="#36b34a"/>
<text x="92.42" y="130.90" font-size="6.52" fill="#1a1a1a" stroke="#1a1a1a" stroke-width="0.22">2</text>
<circle cx="103.4" cy="128.6" r="2.5" fill="#4d4d4d"/>
<text x="107.46" y="130.90" font-size="6.52" fill="#1a1a1a" stroke="#1a1a1a" stroke-width="0.22">3</text>
<circle cx="118.5" cy="128.6" r="2.5" fill="#16508f"/>
<text x="122.65" y="130.90" font-size="6.62" fill="#1a1a1a" stroke="#1a1a1a" stroke-width="0.22">4</text>
<circle cx="133.4" cy="128.6" r="2.5" fill="#cc0f35"/>
<text x="137.44" y="130.90" font-size="6.62" fill="#1a1a1a" stroke="#1a1a1a" stroke-width="0.22">5</text>
<line x1="31.20" y1="235.00" x2="31.20" y2="368.50" stroke="#2b2b2b" stroke-width="1.2"/>
<line x1="30.60" y1="368.50" x2="231.50" y2="368.50" stroke="#2b2b2b" stroke-width="1.2"/>
<line x1="28.00" y1="256.30" x2="31.20" y2="256.30" stroke="#2b2b2b" stroke-width="1.0"/>
<text x="21.58" y="258.80" font-size="7.96" fill="#1a1a1a" stroke="#1a1a1a" stroke-width="0.22">2</text>
<line x1="28.00" y1="296.60" x2="31.20" y2="296.60" stroke="#2b2b2b" stroke-width="1.0"/>
<text x="21.48" y="299.10" font-size="7.96" fill="#1a1a1a" stroke="#1a1a1a" stroke-width="0.22">0</text>
<line x1="28.00" y1="336.90" x2="31.20" y2="336.90" stroke="#2b2b2b" stroke-width="1.0"/>
<text x="16.93" y="339.40" font-size="7.96" fill="#1a1a1a" stroke="#1a1a1a" stroke-width="0.22">−2</text>
<line x1="32.30" y1="368.50" x2="32.30" y2="371.60" stroke="#2b2b2b" stroke-width="1.0"/>
<text x="25.16" y="380.00" font-size="7.67" fill="#1a1a1a" stroke="#1a1a1a" stroke-width="0.22">−6</text>
<line x1="85.50" y1="368.50" x2="85.50" y2="371.60" stroke="#2b2b2b" stroke-width="1.0"/>
<text x="78.41" y="380.00" font-size="7.67" fill="#1a1a1a" stroke="#1a1a1a" stroke-width="0.22">−3</text>
<line x1="138.50" y1="368.50" x2="138.50" y2="371.60" stroke="#2b2b2b" stroke-width="1.0"/>
<text x="135.86" y="380.00" font-size="7.67" fill="#1a1a1a" stroke="#1a1a1a" stroke-width="0.22">0</text>
<line x1="192.00" y1="368.50" x2="192.00" y2="371.60" stroke="#2b2b2b" stroke-width="1.0"/>
<text x="189.39" y="380.00" font-size="7.67" fill="#1a1a1a" stroke="#1a1a1a" stroke-width="0.22">3</text>
<text x="112.92" y="392.40" font-size="9.25" fill="#111" font-weight="bold" textLength="36.19" lengthAdjust="spacingAndGlyphs">Component 1</text>
<text x="0" y="0" font-size="9.61" fill="#111" font-weight="bold" textLength="37.17" lengthAdjust="spacingAndGlyphs" transform="translate(13.85 320.48) rotate(-90)">Component 2</text>
<text x="6.95" y="225.60" font-size="11.40" fill="#000" font-weight="bold" textLength="7.28" lengthAdjust="spacingAndGlyphs">C</text>
<path d="M57.50 310.29 L60.54 308.14 L63.59 305.99 L66.63 303.86 L69.68 301.74 L72.72 299.64 L75.77 297.57 L78.81 295.54 L81.86 293.54 L84.90 291.58 L87.95 289.67 L90.99 287.81 L94.04 286.01 L97.08 284.27 L100.13 282.61 L103.17 281.01 L106.22 279.49 L109.26 278.06 L112.31 276.71 L115.35 275.46 L118.40 274.30 L121.44 273.25 L124.49 272.31 L127.53 271.48 L130.58 270.77 L133.62 270.19 L136.67 269.73 L139.71 269.41 L142.76 269.23 L145.80 269.19" fill="none" stroke="#2a2a2a" stroke-width="1.0"/>
<path d="M145.80 269.00 L145.60 256.00" fill="none" stroke="#2a2a2a" stroke-width="1.0"/>
<path d="M145.80 269.00 L164.90 285.30 L173.10 296.60 L176.10 317.20" fill="none" stroke="#2a2a2a" stroke-width="1.0"/>
<path d="M173.10 296.60 L198.50 291.60" fill="none" stroke="#2a2a2a" stroke-width="1.0"/>
<path d="M176.10 317.20 L167.80 333.00" fill="none" stroke="#2a2a2a" stroke-width="1.0"/>
<path d="M176.10 317.20 L190.00 336.50" fill="none" stroke="#2a2a2a" stroke-width="1.0"/>
<path d="M129.7 265.2h1.2M79.9 292.0h1.2M96.0 275.8h1.2M77.3 289.2h1.2M45.7 316.7h1.2M52.6 312.7h1.2M98.2 273.9h1.2M52.7 315.7h1.2M93.6 284.9h1.2M87.0 285.9h1.2M51.8 311.2h1.2M51.9 320.0h1.2M60.5 304.4h1.2M69.8 297.7h1.2M83.5 293.4h1.2M99.3 276.9h1.2M99.4 271.0h1.2M55.0 312.5h1.2M51.4 314.6h1.2M48.5 312.0h1.2M50.9 314.8h1.2M97.8 277.8h1.2M72.9 289.3h1.2M46.0 314.9h1.2M121.3 266.8h1.2M55.9 303.5h1.2M62.1 294.2h1.2M51.9 313.7h1.2M74.7 303.1h1.2M103.6 281.2h1.2M130.8 265.7h1.2M96.9 279.3h1.2M133.6 268.0h1.2M96.3 271.1h1.2M42.1 316.4h1.2M48.1 311.5h1.2M99.3 274.3h1.2M78.4 285.5h1.2M45.1 315.9h1.2M49.6 310.1h1.2M49.1 315.0h1.2M99.5 287.2h1.2M108.0 278.2h1.2M75.0 300.0h1.2M43.7 310.7h1.2M66.9 303.2h1.2M66.3 297.5h1.2M50.5 319.0h1.2M99.8 288.6h1.2M41.3 321.0h1.2M78.0 287.8h1.2M45.4 320.0h1.2M75.3 303.4h1.2M121.7 271.0h1.2M55.4 322.3h1.2M47.5 317.8h1.2M44.3 309.0h1.2M68.6 300.9h1.2M115.0 270.6h1.2M101.0 276.3h1.2M115.4 269.2h1.2M44.9 317.2h1.2M47.8 312.7h1.2M64.5 307.6h1.2M50.0 320.6h1.2M67.5 300.0h1.2M60.2 302.7h1.2M135.7 264.6h1.2M48.3 315.0h1.2M89.3 291.2h1.2M102.7 272.2h1.2M93.8 289.8h1.2M50.4 316.1h1.2M69.6 304.2h1.2M67.4 302.3h1.2M101.3 273.6h1.2M85.5 289.0h1.2M86.2 294.8h1.2M138.5 270.2h1.2M57.1 295.4h1.2M88.1 294.0h1.2M44.7 314.3h1.2M76.0 289.0h1.2M51.5 319.4h1.2M119.5 269.1h1.2M106.9 274.1h1.2M87.1 287.0h1.2M45.7 312.5h1.2M49.0 315.7h1.2M101.9 280.0h1.2M58.5 304.6h1.2M72.2 285.1h1.2M48.1 321.2h1.2M75.9 292.3h1.2M49.3 317.1h1.2M89.4 273.9h1.2M56.1 312.1h1.2M101.4 281.4h1.2M100.2 285.3h1.2M99.5 276.3h1.2M58.7 308.4h1.2M97.5 278.8h1.2M48.8 317.9h1.2M95.9 284.4h1.2M79.0 296.1h1.2M50.4 314.2h1.2M53.7 316.2h1.2M62.7 307.5h1.2M49.6 316.5h1.2M97.4 280.9h1.2M122.4 270.9h1.2M121.4 267.8h1.2M40.1 314.2h1.2M77.0 286.3h1.2M51.6 313.1h1.2M58.7 312.1h1.2M59.3 317.2h1.2M48.6 320.6h1.2M49.6 311.9h1.2M95.3 271.2h1.2M50.8 310.0h1.2M110.9 271.9h1.2M66.5 301.5h1.2M51.8 318.7h1.2M72.5 285.9h1.2M82.7 303.1h1.2M88.4 288.9h1.2M82.3 299.4h1.2M107.4 275.9h1.2M100.5 277.4h1.2M50.4 314.6h1.2M124.4 265.8h1.2M64.3 291.8h1.2M41.6 315.0h1.2M53.8 314.5h1.2M46.1 318.8h1.2M48.7 311.9h1.2M119.7 271.4h1.2M113.9 273.6h1.2M53.0 314.6h1.2M50.0 316.0h1.2M44.4 311.2h1.2M51.7 320.7h1.2M127.7 266.7h1.2M47.3 319.9h1.2M46.7 314.6h1.2M49.4 314.3h1.2M97.2 277.5h1.2M74.9 283.5h1.2M121.1 270.5h1.2M113.5 270.3h1.2M61.4 300.0h1.2M115.2 270.9h1.2M57.0 313.5h1.2M78.6 290.8h1.2M53.1 309.2h1.2M52.4 312.2h1.2M45.8 323.0h1.2M87.6 286.6h1.2M54.5 316.1h1.2M56.1 320.8h1.2M69.6 294.5h1.2M54.0 298.0h1.2M50.6 319.7h1.2M47.5 316.9h1.2M102.7 289.0h1.2M79.0 298.0h1.2M56.6 313.7h1.2M44.8 312.6h1.2M121.4 271.1h1.2M83.4 295.1h1.2M59.0 308.7h1.2M49.2 311.9h1.2M54.8 319.5h1.2M60.2 300.0h1.2M54.9 315.7h1.2M103.0 274.1h1.2M126.6 267.0h1.2M62.5 302.7h1.2M55.6 318.3h1.2M113.1 272.1h1.2M126.6 265.0h1.2M63.2 311.4h1.2M55.7 315.3h1.2M120.0 269.3h1.2M53.0 313.7h1.2M53.6 305.2h1.2M46.1 320.7h1.2M49.5 311.5h1.2M89.8 283.3h1.2M137.3 265.9h1.2" stroke="#8aaccc" stroke-width="1.24"/>
<path d="M185.5 293.3h1.2M203.7 284.2h1.2M208.2 287.6h1.2M196.9 290.9h1.2M185.4 293.0h1.2M209.3 289.9h1.2M203.7 283.8h1.2M191.7 293.1h1.2M181.3 293.2h1.2M205.6 282.4h1.2M202.7 291.6h1.2M203.8 291.4h1.2M212.5 285.2h1.2M176.9 294.2h1.2M194.8 293.0h1.2M206.1 288.5h1.2M200.9 292.8h1.2M176.1 295.7h1.2M206.9 294.7h1.2M200.5 293.3h1.2M205.0 285.9h1.2M194.9 291.9h1.2M206.1 291.9h1.2M207.1 283.6h1.2M208.0 288.6h1.2M206.0 293.8h1.2M212.7 290.9h1.2M208.7 293.2h1.2M180.1 293.9h1.2M199.9 293.2h1.2M192.5 291.4h1.2M199.7 282.5h1.2M207.7 296.0h1.2M206.0 289.4h1.2M206.2 294.6h1.2M205.5 292.1h1.2M206.2 285.0h1.2M207.7 284.9h1.2M203.7 293.7h1.2M211.4 296.1h1.2M194.0 291.8h1.2M197.0 291.7h1.2M206.8 289.7h1.2M194.4 290.1h1.2M209.3 279.1h1.2M205.5 284.4h1.2M203.4 287.1h1.2M202.5 294.9h1.2M211.4 293.8h1.2M207.1 284.6h1.2M205.2 292.5h1.2M185.6 293.1h1.2M202.4 292.4h1.2M199.1 294.8h1.2M202.9 285.5h1.2M206.1 283.5h1.2M204.3 289.5h1.2M206.2 289.5h1.2M206.0 284.0h1.2M204.2 284.8h1.2M201.8 283.0h1.2M209.4 295.5h1.2M193.9 292.5h1.2M203.9 287.4h1.2M197.9 287.9h1.2M204.4 291.2h1.2M204.9 288.0h1.2M207.5 281.5h1.2M205.1 286.4h1.2M206.8 285.0h1.2M206.5 296.4h1.2M201.4 288.4h1.2M201.8 287.5h1.2M184.5 293.2h1.2M210.6 288.9h1.2M205.5 292.4h1.2M199.9 293.3h1.2M204.0 295.0h1.2M199.6 288.4h1.2M205.9 287.2h1.2M191.1 291.1h1.2M209.4 287.6h1.2M203.7 302.4h1.2M206.2 295.7h1.2M207.9 295.2h1.2" stroke="#e48aa0" stroke-width="1.24"/>
<path d="M192.3 338.0h1.2M204.5 347.4h1.2M187.2 340.3h1.2M189.6 339.2h1.2M190.5 336.2h1.2M199.0 352.0h1.2M189.2 343.0h1.2M194.5 342.2h1.2M182.9 354.6h1.2M204.5 341.6h1.2M190.7 345.6h1.2M193.3 340.2h1.2M183.6 329.6h1.2M205.1 342.9h1.2M191.5 338.7h1.2M196.3 345.4h1.2M192.7 355.0h1.2M199.2 345.9h1.2M188.2 341.5h1.2M188.2 335.2h1.2M194.6 343.9h1.2M192.1 339.1h1.2M192.8 348.3h1.2M189.2 349.9h1.2M198.5 357.8h1.2M192.8 342.7h1.2M189.7 335.5h1.2M194.9 351.4h1.2M202.0 342.0h1.2M197.8 347.2h1.2M187.3 352.1h1.2M189.6 339.4h1.2M188.5 345.9h1.2M189.7 340.6h1.2M194.4 334.7h1.2M186.7 333.6h1.2M190.3 339.2h1.2M193.1 353.0h1.2M197.9 350.6h1.2M187.8 342.2h1.2M187.5 337.5h1.2M191.1 342.9h1.2M196.7 348.6h1.2M193.2 343.9h1.2M179.8 335.2h1.2M195.6 343.4h1.2M203.8 355.7h1.2M188.6 333.0h1.2M194.2 343.0h1.2M192.9 350.9h1.2M191.1 344.7h1.2M192.5 351.7h1.2M177.9 323.4h1.2M202.8 339.7h1.2M193.6 351.3h1.2M189.6 353.2h1.2M185.9 357.7h1.2M188.7 336.2h1.2M194.8 339.4h1.2M179.7 321.0h1.2M195.7 337.9h1.2M194.2 338.6h1.2M207.4 347.1h1.2M190.4 339.2h1.2M192.0 341.5h1.2M191.5 347.7h1.2M199.9 347.5h1.2M190.7 341.4h1.2M193.5 339.0h1.2M201.8 344.8h1.2M198.8 343.1h1.2M189.7 342.1h1.2M194.4 340.3h1.2M194.7 353.2h1.2M196.9 363.7h1.2M195.0 339.7h1.2M188.8 340.0h1.2M192.4 338.9h1.2" stroke="#f98a0e" stroke-width="1.24"/>
<path d="M153.6 276.1h1.2M153.8 268.7h1.2M156.8 278.4h1.2M158.9 274.6h1.2M149.4 272.7h1.2M161.4 276.7h1.2M158.6 271.6h1.2M151.2 275.3h1.2M159.6 273.1h1.2M163.1 279.3h1.2M153.2 269.9h1.2M151.3 267.1h1.2M154.8 271.5h1.2M160.5 273.3h1.2M156.5 271.8h1.2M157.5 281.3h1.2M160.8 273.7h1.2M153.4 273.4h1.2M157.6 270.0h1.2M164.3 278.7h1.2M150.3 266.4h1.2M155.9 271.2h1.2M163.3 276.8h1.2M155.4 272.4h1.2M159.7 281.3h1.2" stroke="#1b4f8a" stroke-width="1.24"/>
<path d="M168.1 333.5h1.2M161.1 342.0h1.2M165.2 343.6h1.2M167.9 330.1h1.2M164.3 335.9h1.2M162.9 331.7h1.2M176.1 319.7h1.2M170.1 333.5h1.2M166.6 334.0h1.2M166.7 329.8h1.2M159.8 347.8h1.2M165.7 335.9h1.2M162.8 331.5h1.2M171.8 324.1h1.2M163.3 337.7h1.2M172.0 321.1h1.2M164.1 335.5h1.2M155.7 345.2h1.2M165.3 338.3h1.2M167.6 336.0h1.2M164.6 337.8h1.2M174.1 320.7h1.2M168.3 337.3h1.2M170.1 337.5h1.2M166.1 337.4h1.2M162.2 339.4h1.2M164.9 338.1h1.2M158.5 344.3h1.2M166.2 340.1h1.2M168.0 342.1h1.2M160.5 335.1h1.2M162.8 329.9h1.2M165.7 345.9h1.2M165.7 332.7h1.2M163.3 346.9h1.2M167.1 338.2h1.2M166.1 337.0h1.2M165.1 332.9h1.2M165.0 333.4h1.2M164.6 338.0h1.2M163.4 343.3h1.2M160.4 345.1h1.2M165.0 331.2h1.2M170.9 332.1h1.2M161.9 343.2h1.2M161.6 345.4h1.2M161.7 332.4h1.2M158.8 338.0h1.2M161.4 335.4h1.2M166.1 333.4h1.2M158.7 339.0h1.2M163.8 332.3h1.2M162.1 339.5h1.2M169.3 332.7h1.2M168.3 333.2h1.2M166.6 332.9h1.2M164.5 334.2h1.2M173.3 325.9h1.2M164.8 335.0h1.2M162.7 338.3h1.2" stroke="#fbbf77" stroke-width="1.24"/>
<path d="M146.3 247.3h1.2M142.4 251.7h1.2M146.9 249.5h1.2M145.9 248.6h1.2M145.7 255.5h1.2M145.0 247.0h1.2M148.4 247.0h1.2M140.6 248.5h1.2M145.4 247.2h1.2M146.3 250.3h1.2M145.6 254.3h1.2M144.4 247.3h1.2M146.6 248.1h1.2M139.3 249.4h1.2M140.1 245.9h1.2M145.8 249.4h1.2M150.9 249.4h1.2M148.2 247.0h1.2M148.5 250.1h1.2M145.6 251.7h1.2M144.8 250.9h1.2M143.3 254.9h1.2M145.6 248.8h1.2M139.3 246.8h1.2M145.3 246.9h1.2M143.7 245.8h1.2M148.4 244.1h1.2M150.5 251.4h1.2M145.2 246.8h1.2M146.0 246.0h1.2M145.6 255.9h1.2M146.3 241.8h1.2M149.6 243.8h1.2M146.0 250.3h1.2M144.6 251.7h1.2M144.6 248.3h1.2M146.4 252.8h1.2M141.1 251.5h1.2M138.3 249.0h1.2M138.9 249.0h1.2M142.6 247.8h1.2M143.9 250.0h1.2M145.4 242.1h1.2M140.8 249.9h1.2M147.9 247.7h1.2M144.6 247.0h1.2M148.8 252.2h1.2M142.8 246.7h1.2M145.4 251.1h1.2M142.5 250.1h1.2M142.8 246.5h1.2M143.3 244.9h1.2M147.8 248.1h1.2M148.4 244.7h1.2M140.6 248.1h1.2M143.4 251.5h1.2M148.3 251.6h1.2M143.3 243.2h1.2M145.1 252.0h1.2M139.9 246.3h1.2M144.9 249.3h1.2M142.2 245.7h1.2M144.9 245.8h1.2M143.5 245.0h1.2" stroke="#a98fc4" stroke-width="1.24"/>
<path d="M166.5 278.1h1.2M169.2 276.4h1.2M166.8 280.0h1.2M168.3 277.4h1.2M168.3 283.1h1.2M168.3 276.0h1.2M167.5 282.7h1.2M167.2 282.6h1.2M167.6 277.1h1.2M167.2 282.0h1.2M169.0 277.4h1.2" stroke="#9ad89a" stroke-width="1.24"/>
<path d="M173.7 313.2h1.2M174.5 310.5h1.2M173.4 305.7h1.2M172.2 301.0h1.2M174.1 307.7h1.2M174.1 306.0h1.2M174.6 307.4h1.2M175.1 308.5h1.2" stroke="#c8102e" stroke-width="1.24"/>
<path d="M143.3 251.0h1.2M141.1 249.2h1.2M146.3 247.6h1.2M143.3 253.8h1.2M144.5 247.2h1.2M146.1 264.0h1.2M143.6 249.1h1.2M141.4 249.2h1.2M145.5 251.2h1.2M147.3 248.5h1.2M144.7 245.8h1.2M147.0 241.9h1.2M144.8 248.9h1.2M145.0 248.9h1.2M144.2 248.8h1.2M141.3 245.2h1.2M147.6 247.8h1.2M147.3 246.4h1.2M142.8 254.9h1.2M144.9 249.6h1.2M144.7 246.8h1.2M145.0 250.5h1.2M141.8 243.9h1.2M148.6 240.9h1.2M146.5 261.0h1.2M145.1 247.8h1.2M145.7 250.4h1.2M145.9 253.5h1.2M142.5 246.8h1.2M142.3 247.7h1.2M151.1 248.0h1.2M142.2 247.8h1.2M136.3 251.4h1.2M145.9 248.4h1.2M145.7 264.3h1.2M143.9 251.7h1.2M144.0 247.4h1.2M141.9 251.9h1.2M144.1 245.0h1.2M147.5 245.4h1.2M144.5 247.3h1.2M142.7 249.7h1.2M149.5 245.7h1.2M142.0 250.9h1.2M143.0 248.6h1.2M144.8 253.6h1.2M145.6 258.7h1.2M144.7 248.4h1.2M144.0 243.8h1.2M145.4 245.1h1.2M140.8 249.7h1.2M144.6 253.1h1.2M140.7 248.2h1.2M141.5 250.6h1.2M146.5 251.3h1.2M142.3 243.3h1.2M143.7 249.8h1.2M148.9 243.8h1.2M147.5 259.4h1.2M146.3 243.5h1.2M143.6 248.2h1.2M143.3 247.7h1.2M144.8 244.7h1.2M143.5 246.0h1.2M147.1 251.3h1.2" stroke="#a98fc4" stroke-width="1.24"/>
<path d="M149.7 263.7h1.2M157.7 273.8h1.2M155.1 269.7h1.2M148.2 269.7h1.2M163.6 276.8h1.2M149.4 266.0h1.2M165.3 283.2h1.2M150.6 265.2h1.2M159.3 278.5h1.2M160.6 274.0h1.2M156.4 278.8h1.2M146.6 269.4h1.2M155.6 270.7h1.2M163.8 284.8h1.2M155.7 272.2h1.2M155.8 270.6h1.2M159.7 272.6h1.2M151.2 269.0h1.2M149.5 273.8h1.2M162.8 279.4h1.2M162.0 278.7h1.2M158.2 277.7h1.2M155.5 269.9h1.2M164.9 277.5h1.2M157.2 275.4h1.2M156.5 271.9h1.2M156.7 272.9h1.2M164.0 285.4h1.2M161.7 282.4h1.2" stroke="#1b4f8a" stroke-width="1.24"/>
<path d="M167.0 283.7h1.2M169.0 275.4h1.2M170.4 275.0h1.2M168.1 279.3h1.2M169.0 276.4h1.2M166.3 282.1h1.2M168.8 277.9h1.2M169.4 279.4h1.2M169.4 276.6h1.2M167.9 278.3h1.2M167.7 280.2h1.2M164.3 282.7h1.2M166.6 283.5h1.2M166.4 281.2h1.2M169.3 276.8h1.2M165.5 283.0h1.2" stroke="#9ad89a" stroke-width="1.24"/>
<path d="M61.9 306.5h1.2M52.1 312.6h1.2M132.0 266.8h1.2M86.5 289.5h1.2M96.8 278.8h1.2M116.2 267.2h1.2M42.2 316.4h1.2M93.1 277.7h1.2M54.2 312.8h1.2M44.4 315.0h1.2M49.8 311.8h1.2M91.1 281.4h1.2M90.7 279.2h1.2M56.8 319.3h1.2M121.0 269.0h1.2M99.0 275.0h1.2M55.0 316.8h1.2M47.6 314.6h1.2M79.9 292.4h1.2M100.1 279.8h1.2M116.6 270.2h1.2M81.9 297.0h1.2M50.0 312.2h1.2M50.9 314.7h1.2M76.9 297.7h1.2M102.0 282.5h1.2M75.6 303.6h1.2M100.7 284.4h1.2M43.5 311.2h1.2M52.9 314.6h1.2M90.7 285.7h1.2M50.1 315.9h1.2M83.2 286.8h1.2M116.7 269.4h1.2M101.6 270.9h1.2M73.1 290.8h1.2M49.2 323.1h1.2M50.1 318.0h1.2M48.9 318.7h1.2M78.1 298.3h1.2M98.2 273.2h1.2M48.9 311.8h1.2M119.4 272.0h1.2M112.4 273.3h1.2M82.1 299.0h1.2M64.3 304.4h1.2M51.8 319.1h1.2M50.3 317.5h1.2M55.7 317.4h1.2M60.9 299.3h1.2M98.9 289.7h1.2M57.2 315.8h1.2M43.0 312.2h1.2M52.4 310.1h1.2M122.5 267.5h1.2M46.4 321.2h1.2M82.3 289.0h1.2M100.0 274.1h1.2M83.8 281.3h1.2M118.7 268.1h1.2M51.9 311.4h1.2M99.3 275.0h1.2M47.9 317.9h1.2M114.1 270.1h1.2M91.8 276.8h1.2M107.1 272.3h1.2M68.8 302.6h1.2M53.6 317.5h1.2M130.7 270.8h1.2M47.1 308.8h1.2M96.7 286.7h1.2M76.2 295.4h1.2M131.3 266.2h1.2M91.5 280.4h1.2M44.5 312.4h1.2M50.6 312.6h1.2M99.6 275.1h1.2M86.7 287.5h1.2M63.0 308.7h1.2M73.1 296.5h1.2M50.9 318.5h1.2M105.7 274.2h1.2M95.0 282.7h1.2M67.7 303.1h1.2M115.4 273.0h1.2M46.4 311.7h1.2M51.4 312.3h1.2M46.3 312.8h1.2M98.2 282.1h1.2M99.8 279.3h1.2M124.2 266.3h1.2M50.5 317.0h1.2M110.9 272.8h1.2M72.3 296.9h1.2M80.6 291.2h1.2M77.6 293.6h1.2M63.0 308.2h1.2M125.2 264.6h1.2M118.2 265.8h1.2M119.2 267.9h1.2M112.3 274.8h1.2M68.1 300.8h1.2M49.5 315.9h1.2M50.1 314.2h1.2M100.7 277.2h1.2M116.4 266.2h1.2M53.8 321.9h1.2M89.3 283.9h1.2M96.6 274.6h1.2M81.9 290.6h1.2M115.6 273.8h1.2M44.0 320.3h1.2M50.8 318.0h1.2M67.2 291.1h1.2M98.6 274.4h1.2M60.4 311.4h1.2M76.8 302.3h1.2M102.7 278.3h1.2M58.1 316.9h1.2M129.1 263.8h1.2M113.3 270.7h1.2M49.7 314.8h1.2M115.7 271.7h1.2M99.2 282.1h1.2M69.9 304.2h1.2M102.5 279.7h1.2M47.8 316.0h1.2M117.5 269.4h1.2M57.1 310.5h1.2M48.8 312.4h1.2M91.3 278.1h1.2M102.8 281.0h1.2M66.4 304.7h1.2M44.4 316.6h1.2M66.9 299.6h1.2M91.4 285.6h1.2M87.8 292.1h1.2M112.6 268.5h1.2M78.8 294.3h1.2M89.3 284.8h1.2M46.4 312.9h1.2M79.2 291.9h1.2M105.5 276.9h1.2M100.5 277.6h1.2M60.0 305.7h1.2M100.3 276.4h1.2M85.1 289.2h1.2M120.9 265.8h1.2M60.8 297.9h1.2M46.9 315.3h1.2M109.8 270.2h1.2M45.4 309.7h1.2M67.6 284.7h1.2M93.2 284.5h1.2M49.4 320.0h1.2M48.6 309.7h1.2M49.4 315.0h1.2M61.5 292.1h1.2M50.4 308.4h1.2M40.7 317.0h1.2M62.0 311.8h1.2M100.2 276.4h1.2M54.4 314.1h1.2M46.9 309.8h1.2M101.7 281.3h1.2M56.2 299.0h1.2M98.2 278.9h1.2M111.8 271.0h1.2M58.7 297.4h1.2M52.0 314.3h1.2M123.5 264.7h1.2M63.4 298.2h1.2M50.3 313.4h1.2M78.4 290.6h1.2M51.0 318.1h1.2M56.9 307.0h1.2M55.3 314.2h1.2M45.8 315.9h1.2M53.4 302.4h1.2M53.2 322.9h1.2M63.3 306.2h1.2M49.8 314.1h1.2M98.9 274.8h1.2M47.8 316.0h1.2M56.0 302.5h1.2M45.0 311.5h1.2M100.5 280.9h1.2M51.6 315.7h1.2" stroke="#8aaccc" stroke-width="1.24"/>
<path d="M197.5 290.8h1.2M207.3 284.5h1.2M206.8 285.4h1.2M203.3 294.2h1.2M203.8 281.2h1.2M204.1 289.2h1.2M196.5 292.2h1.2M196.6 292.6h1.2M208.2 292.2h1.2M207.9 287.5h1.2M190.9 292.5h1.2M206.1 284.7h1.2M204.3 281.0h1.2M208.4 282.1h1.2M202.4 290.1h1.2M201.8 280.7h1.2M206.5 287.1h1.2M208.0 283.8h1.2M206.8 291.4h1.2M200.3 286.0h1.2M193.0 289.8h1.2M210.6 283.4h1.2M205.2 291.5h1.2M205.1 288.9h1.2M180.2 292.9h1.2M210.0 297.3h1.2M189.8 292.4h1.2M211.4 288.8h1.2M206.1 284.0h1.2M204.2 289.3h1.2M206.9 289.5h1.2M202.6 289.5h1.2M204.8 282.1h1.2M207.5 285.7h1.2M183.3 295.0h1.2M209.4 284.6h1.2M218.3 288.3h1.2M200.5 285.0h1.2M207.8 286.9h1.2M210.4 286.9h1.2M200.1 291.7h1.2M202.7 292.7h1.2M208.9 284.2h1.2M181.3 293.0h1.2M205.4 290.9h1.2M203.2 286.3h1.2M206.6 285.5h1.2M172.4 295.7h1.2M201.4 293.5h1.2M208.8 286.3h1.2M200.0 290.7h1.2M211.0 286.8h1.2M206.9 295.3h1.2M207.9 287.1h1.2M175.3 295.9h1.2M202.4 284.1h1.2M205.0 284.6h1.2M202.3 297.0h1.2M208.8 286.7h1.2M204.9 288.7h1.2M206.4 289.2h1.2M201.0 291.9h1.2M202.2 292.5h1.2M207.7 290.8h1.2M203.7 286.5h1.2M205.2 286.1h1.2M200.2 287.1h1.2M201.9 285.8h1.2M206.5 290.3h1.2M202.8 293.2h1.2M200.2 293.8h1.2M203.3 287.8h1.2M206.3 287.9h1.2" stroke="#e48aa0" stroke-width="1.24"/>
<path d="M200.1 345.9h1.2M185.2 338.8h1.2M201.0 359.3h1.2M191.4 340.7h1.2M196.4 350.6h1.2M198.9 342.1h1.2M193.5 341.6h1.2M194.5 331.4h1.2M194.7 346.8h1.2M188.1 342.1h1.2M194.8 342.3h1.2M203.5 357.8h1.2M190.6 348.7h1.2M189.1 338.2h1.2M192.7 344.1h1.2M196.2 352.8h1.2M191.3 340.9h1.2M201.4 359.2h1.2M205.3 356.9h1.2M195.6 341.6h1.2M182.0 325.0h1.2M194.2 348.4h1.2M192.0 343.6h1.2M189.1 338.7h1.2M189.6 343.6h1.2M192.9 342.6h1.2M188.6 343.9h1.2M187.8 340.5h1.2M186.6 344.4h1.2M185.7 344.3h1.2M192.6 353.5h1.2M189.0 337.8h1.2M190.1 341.1h1.2M192.4 341.0h1.2M189.8 339.9h1.2M196.6 344.7h1.2M179.3 323.3h1.2M195.0 357.3h1.2M188.1 336.3h1.2M201.4 348.9h1.2M194.2 337.1h1.2M206.2 351.3h1.2M180.1 324.3h1.2M199.8 356.1h1.2M190.1 346.1h1.2M179.6 323.9h1.2M194.5 336.3h1.2M197.5 350.8h1.2M197.4 346.8h1.2M189.0 340.1h1.2M200.3 350.4h1.2M191.7 338.2h1.2M192.1 339.2h1.2M191.7 342.9h1.2M198.6 362.7h1.2M188.8 356.2h1.2M199.5 337.4h1.2M193.9 340.0h1.2M189.3 344.2h1.2M184.3 331.2h1.2M177.3 318.6h1.2M187.5 345.8h1.2M201.1 345.7h1.2M193.5 335.6h1.2M199.0 353.8h1.2M198.0 342.2h1.2M191.5 344.6h1.2M208.5 356.7h1.2M196.4 346.8h1.2M195.2 338.2h1.2M188.1 337.3h1.2M192.9 348.1h1.2M184.6 336.4h1.2M181.1 337.0h1.2M192.1 335.3h1.2M199.6 347.8h1.2" stroke="#f98a0e" stroke-width="1.24"/>
<path d="M168.7 328.4h1.2M163.0 339.9h1.2M164.0 328.9h1.2M168.8 333.6h1.2M160.8 345.4h1.2M157.9 339.1h1.2M163.1 333.3h1.2M164.5 335.1h1.2M169.6 329.7h1.2M162.2 343.7h1.2M168.3 330.1h1.2M168.7 343.8h1.2M162.7 347.4h1.2M167.3 332.0h1.2M164.4 328.2h1.2M166.2 326.9h1.2M164.5 336.0h1.2M155.6 344.0h1.2M164.9 341.6h1.2M170.5 326.5h1.2M167.1 330.4h1.2M166.4 332.6h1.2M168.7 329.6h1.2M166.7 334.9h1.2M159.4 338.0h1.2M174.1 317.8h1.2M171.3 324.6h1.2M174.3 321.2h1.2M166.8 339.9h1.2M162.7 333.4h1.2M162.0 334.6h1.2M172.4 323.4h1.2M169.8 328.8h1.2M169.6 326.3h1.2M165.7 336.7h1.2M165.0 336.0h1.2M162.4 348.0h1.2M157.4 342.0h1.2M167.8 329.5h1.2M159.6 350.4h1.2M160.6 345.1h1.2M168.8 344.8h1.2M170.0 340.9h1.2M163.4 345.7h1.2M162.8 336.6h1.2M166.3 336.0h1.2M159.6 341.0h1.2M166.1 336.4h1.2M167.0 333.9h1.2M163.1 341.9h1.2M167.6 331.6h1.2M164.7 328.2h1.2M165.9 341.5h1.2M163.7 334.6h1.2M163.3 342.5h1.2M164.9 331.2h1.2M162.6 328.2h1.2M157.3 347.6h1.2M166.6 333.7h1.2M163.2 340.1h1.2M161.3 340.4h1.2M167.3 331.0h1.2" stroke="#fbbf77" stroke-width="1.24"/>
<path d="M174.8 311.1h1.2M173.0 297.9h1.2M171.7 302.4h1.2M172.8 298.0h1.2M174.0 303.3h1.2M173.1 301.2h1.2M174.2 309.2h1.2M172.0 297.6h1.2M176.4 310.6h1.2M171.6 300.4h1.2M172.4 300.8h1.2M172.7 296.9h1.2" stroke="#c8102e" stroke-width="1.24"/>
<path d="M166.8 278.5h1.2M168.9 275.6h1.2M169.3 275.2h1.2M168.0 276.8h1.2M166.2 282.3h1.2M166.9 275.6h1.2M166.0 281.4h1.2M166.1 283.4h1.2M167.4 283.0h1.2M165.7 282.5h1.2M167.6 278.8h1.2M170.6 275.5h1.2M167.3 280.2h1.2M168.5 276.1h1.2M171.2 277.1h1.2M167.4 279.2h1.2M168.6 275.6h1.2M170.9 274.8h1.2" stroke="#9ad89a" stroke-width="1.24"/>
<path d="M68.7 295.9h1.2M51.0 318.6h1.2M97.0 270.5h1.2M123.1 266.3h1.2M104.9 278.2h1.2M55.2 296.6h1.2M50.2 315.7h1.2M104.3 278.9h1.2M48.8 313.6h1.2M50.9 313.7h1.2M81.3 290.4h1.2M55.3 315.0h1.2M80.4 297.1h1.2M76.6 294.4h1.2M57.9 305.3h1.2M47.3 318.0h1.2M79.7 296.4h1.2M51.0 318.5h1.2M49.5 319.3h1.2M113.4 271.2h1.2M48.5 311.8h1.2M64.8 309.6h1.2M55.7 314.0h1.2M53.3 311.2h1.2M107.2 272.3h1.2M94.5 288.0h1.2M63.4 299.4h1.2M129.0 264.7h1.2M47.7 317.0h1.2M70.6 294.5h1.2M97.1 275.3h1.2M38.5 319.6h1.2M101.2 286.2h1.2M47.1 313.4h1.2M54.7 321.4h1.2M68.9 298.4h1.2M94.9 287.0h1.2M64.8 298.8h1.2M67.5 297.4h1.2M85.1 288.1h1.2M46.3 312.0h1.2M43.3 314.5h1.2M79.3 297.7h1.2M115.6 265.8h1.2M40.4 313.5h1.2M51.2 311.7h1.2M42.8 316.7h1.2M45.7 316.1h1.2M118.1 265.5h1.2M87.4 285.2h1.2M64.0 301.2h1.2M99.9 282.8h1.2M98.6 279.6h1.2M72.3 305.7h1.2M46.9 313.7h1.2M49.7 316.5h1.2M59.5 312.1h1.2M80.7 293.8h1.2M97.3 274.3h1.2M52.5 317.8h1.2M45.8 317.9h1.2M112.7 273.4h1.2M113.5 267.8h1.2M50.6 321.0h1.2M93.4 285.8h1.2M73.7 291.3h1.2M76.1 287.4h1.2M98.7 275.5h1.2M59.8 314.2h1.2M106.4 273.8h1.2M43.2 315.7h1.2M72.2 290.8h1.2M53.1 315.5h1.2M95.5 283.9h1.2M83.2 290.6h1.2M84.6 283.8h1.2M64.1 289.5h1.2M123.8 266.7h1.2M44.8 317.3h1.2M133.3 264.9h1.2M102.8 276.7h1.2M88.4 292.0h1.2M48.9 321.7h1.2M73.8 297.9h1.2M80.8 284.4h1.2M47.6 320.1h1.2M55.7 315.5h1.2M61.8 301.7h1.2M49.5 312.1h1.2M102.9 274.9h1.2M97.1 279.2h1.2M82.0 301.0h1.2M49.6 315.5h1.2M58.3 309.6h1.2M65.3 307.9h1.2M86.1 287.7h1.2M53.2 321.1h1.2M51.1 316.1h1.2M100.0 283.9h1.2M96.3 269.3h1.2M113.1 268.7h1.2M45.4 322.4h1.2M49.5 310.9h1.2M91.3 283.1h1.2M74.5 300.0h1.2M100.9 281.1h1.2M55.0 318.1h1.2M48.1 315.7h1.2M124.8 269.6h1.2M43.8 319.2h1.2M42.9 315.8h1.2M106.0 276.9h1.2M100.2 280.3h1.2M73.9 299.9h1.2M73.5 304.4h1.2M47.1 321.4h1.2M44.7 318.3h1.2M72.0 303.6h1.2M98.5 274.5h1.2M84.2 289.0h1.2M113.6 270.4h1.2M57.2 303.9h1.2M100.2 275.6h1.2M55.7 317.6h1.2M105.7 273.9h1.2M125.9 266.2h1.2M116.9 272.5h1.2M47.3 318.7h1.2M98.5 271.7h1.2M51.5 315.2h1.2M48.5 315.9h1.2M44.5 312.2h1.2M53.3 313.5h1.2M51.4 319.9h1.2M92.2 279.9h1.2M46.5 313.0h1.2M51.5 318.7h1.2M53.1 311.7h1.2M40.8 310.4h1.2M51.6 312.8h1.2M129.2 267.1h1.2M134.0 266.2h1.2M66.4 300.8h1.2M53.0 314.2h1.2M83.8 277.6h1.2M109.2 272.0h1.2M112.3 270.4h1.2M89.4 287.0h1.2M102.2 280.7h1.2M98.2 281.3h1.2M47.9 316.5h1.2M55.8 314.6h1.2M93.6 285.0h1.2M50.7 316.5h1.2M85.5 295.1h1.2M128.4 266.6h1.2M69.7 293.0h1.2M53.2 315.0h1.2M102.9 275.6h1.2M81.8 285.8h1.2M49.3 321.2h1.2M53.8 311.8h1.2M45.8 315.1h1.2M50.3 311.1h1.2M56.7 309.0h1.2M47.7 313.1h1.2M49.1 313.1h1.2M99.1 283.3h1.2M119.6 267.8h1.2M50.4 317.3h1.2M50.9 317.8h1.2M99.7 275.1h1.2M54.6 313.8h1.2M90.2 286.6h1.2" stroke="#8aaccc" stroke-width="1.24"/>
<path d="M162.0 330.0h1.2M163.7 334.4h1.2M170.5 333.6h1.2M162.4 336.5h1.2M160.2 339.8h1.2M166.2 334.6h1.2M163.6 332.4h1.2M171.0 327.8h1.2M162.4 333.6h1.2M161.6 337.1h1.2M163.1 339.4h1.2M165.1 334.1h1.2M159.5 352.5h1.2M161.3 345.1h1.2M164.8 339.0h1.2M166.4 331.3h1.2M163.9 337.5h1.2M171.7 325.2h1.2M166.4 338.7h1.2M161.4 337.7h1.2M162.9 338.7h1.2M157.9 343.2h1.2M166.8 332.3h1.2M167.5 333.3h1.2M158.8 344.1h1.2M161.6 341.8h1.2M168.4 342.2h1.2M167.3 329.9h1.2M167.7 326.3h1.2M165.8 335.2h1.2M165.4 337.2h1.2M161.0 346.8h1.2M166.5 327.3h1.2M164.1 330.8h1.2M166.1 332.4h1.2M159.7 337.3h1.2M166.5 344.0h1.2M157.4 336.4h1.2M162.4 333.4h1.2M167.3 342.1h1.2M160.4 336.0h1.2M168.2 332.6h1.2M165.8 339.6h1.2M164.7 349.3h1.2M163.4 337.6h1.2M173.1 325.8h1.2M158.5 342.8h1.2M169.0 339.4h1.2M168.5 334.5h1.2M162.1 342.2h1.2M167.1 336.5h1.2M167.7 332.5h1.2M161.6 343.4h1.2M166.2 328.4h1.2M167.6 330.3h1.2M173.4 323.9h1.2M162.6 343.5h1.2M162.6 343.1h1.2M164.3 334.7h1.2M165.6 347.3h1.2M161.9 346.7h1.2M163.3 343.7h1.2M159.5 339.0h1.2M167.1 327.6h1.2M159.8 339.5h1.2M169.0 330.1h1.2M165.8 341.4h1.2M173.8 321.9h1.2" stroke="#fbbf77" stroke-width="1.24"/>
<path d="M154.1 270.9h1.2M157.5 275.0h1.2M154.2 266.0h1.2M162.4 276.0h1.2M149.8 264.8h1.2M154.1 271.6h1.2M149.2 264.6h1.2M155.0 269.6h1.2M153.1 268.4h1.2M158.0 274.3h1.2M162.1 276.1h1.2M161.0 278.7h1.2M150.5 263.5h1.2M154.4 276.0h1.2M155.5 273.1h1.2M160.5 277.7h1.2M153.1 263.2h1.2M151.1 268.9h1.2M151.2 264.7h1.2M148.9 266.1h1.2M153.4 267.9h1.2M145.2 269.8h1.2M158.0 269.4h1.2M153.1 267.4h1.2M162.5 274.8h1.2M152.3 268.8h1.2M157.6 272.7h1.2M150.8 263.9h1.2M162.9 274.2h1.2" stroke="#1b4f8a" stroke-width="1.24"/>
<path d="M197.8 360.9h1.2M195.8 344.5h1.2M192.7 338.9h1.2M202.1 346.8h1.2M203.1 351.4h1.2M188.7 342.4h1.2M192.7 344.1h1.2M191.2 341.7h1.2M191.2 340.3h1.2M190.7 338.2h1.2M187.2 331.5h1.2M206.9 352.3h1.2M189.0 336.9h1.2M190.3 339.5h1.2M183.3 342.9h1.2M196.6 333.0h1.2M186.7 344.1h1.2M193.0 337.1h1.2M188.9 339.2h1.2M189.7 345.3h1.2M191.2 345.2h1.2M194.0 349.0h1.2M191.5 334.5h1.2M203.0 351.8h1.2M195.8 338.8h1.2M203.2 352.6h1.2M189.0 334.1h1.2M193.3 337.1h1.2M191.8 342.1h1.2M191.9 343.1h1.2M195.4 346.1h1.2M210.2 340.8h1.2M199.2 351.3h1.2M194.1 345.1h1.2M190.7 337.1h1.2M191.0 331.7h1.2M195.2 348.0h1.2M194.9 332.1h1.2M190.0 338.4h1.2M191.1 341.2h1.2M187.5 339.0h1.2M190.3 353.3h1.2M192.8 341.2h1.2M192.7 343.2h1.2M192.3 341.5h1.2M195.5 346.2h1.2M195.1 341.2h1.2M195.6 347.3h1.2M187.9 346.1h1.2M195.6 345.5h1.2M193.9 340.1h1.2M192.1 351.4h1.2M200.9 348.0h1.2M195.6 345.7h1.2M191.6 338.7h1.2M189.5 340.3h1.2M206.3 351.4h1.2M184.2 327.8h1.2M192.2 339.6h1.2M194.9 348.7h1.2M194.8 341.3h1.2M186.5 341.5h1.2M197.0 346.1h1.2M185.3 329.8h1.2M189.7 340.8h1.2M200.2 352.5h1.2M187.8 345.0h1.2M193.6 344.0h1.2M186.3 330.6h1.2M199.4 339.3h1.2M191.9 338.0h1.2M190.4 340.2h1.2M205.9 347.2h1.2M187.7 340.3h1.2M191.6 337.5h1.2M205.4 351.6h1.2M190.3 337.5h1.2M197.5 345.0h1.2M193.1 341.5h1.2M188.0 339.5h1.2M203.6 343.2h1.2M193.2 337.6h1.2M180.0 322.3h1.2M189.9 337.7h1.2M210.5 360.3h1.2M200.7 352.9h1.2M189.8 338.5h1.2M187.1 341.8h1.2M182.7 326.0h1.2M197.2 333.6h1.2M190.6 341.4h1.2" stroke="#f98a0e" stroke-width="1.24"/>
<path d="M146.3 264.0h1.2M143.7 246.8h1.2M148.2 249.0h1.2M146.5 257.7h1.2M143.7 252.8h1.2M143.5 244.6h1.2M146.0 248.9h1.2M142.2 251.9h1.2M144.5 259.3h1.2M142.0 254.3h1.2M149.7 250.5h1.2M143.7 253.0h1.2M142.9 239.3h1.2M142.8 251.3h1.2M147.6 251.4h1.2M145.0 242.2h1.2M142.8 250.6h1.2M147.1 247.3h1.2M142.2 249.9h1.2M146.1 245.6h1.2M148.2 249.5h1.2M143.6 248.0h1.2M143.2 247.5h1.2M146.8 244.8h1.2M146.1 244.7h1.2M146.9 262.5h1.2M145.5 249.5h1.2M144.7 248.2h1.2M141.5 247.6h1.2M146.7 249.2h1.2M139.9 250.6h1.2M144.7 251.0h1.2M140.3 249.4h1.2M141.1 244.9h1.2M143.3 247.3h1.2M143.7 251.5h1.2M140.7 247.5h1.2M146.1 252.1h1.2M144.3 243.4h1.2M147.0 248.1h1.2M147.0 250.4h1.2M142.9 248.8h1.2M148.9 248.1h1.2M140.6 252.5h1.2M142.3 248.2h1.2M147.1 244.9h1.2M149.7 250.6h1.2M141.5 246.2h1.2M145.0 246.3h1.2M144.3 251.2h1.2M141.2 251.4h1.2M143.6 248.5h1.2M145.3 247.3h1.2M139.8 250.7h1.2M140.4 255.6h1.2M146.7 249.1h1.2M145.6 242.5h1.2M147.5 256.2h1.2M139.6 254.1h1.2M144.1 246.7h1.2M140.1 246.4h1.2M142.5 252.4h1.2M142.2 251.1h1.2" stroke="#a98fc4" stroke-width="1.24"/>
<path d="M210.2 292.6h1.2M206.9 286.5h1.2M203.7 290.0h1.2M180.8 294.4h1.2M200.8 284.7h1.2M208.0 283.7h1.2M206.0 285.7h1.2M218.9 284.6h1.2M203.1 287.8h1.2M208.1 286.1h1.2M208.6 289.3h1.2M195.7 292.9h1.2M202.8 295.1h1.2M204.1 286.2h1.2M208.4 282.7h1.2M199.7 295.7h1.2M202.6 290.9h1.2M206.8 286.9h1.2M173.4 295.3h1.2M207.8 279.6h1.2M204.8 286.7h1.2M202.9 288.2h1.2M185.3 293.5h1.2M203.4 285.5h1.2M205.9 284.9h1.2M197.4 293.2h1.2M203.7 291.2h1.2M204.8 299.8h1.2M206.6 283.1h1.2M204.0 282.4h1.2M205.3 283.6h1.2M204.1 284.4h1.2M202.3 287.3h1.2M198.4 287.5h1.2M210.1 282.2h1.2M206.2 288.8h1.2M210.9 278.1h1.2M204.4 294.2h1.2M206.0 291.9h1.2M211.4 286.3h1.2M188.3 292.4h1.2M212.1 289.9h1.2M177.9 297.2h1.2M177.1 296.5h1.2M198.5 284.5h1.2M205.3 288.7h1.2M184.0 293.0h1.2M201.0 285.0h1.2M174.4 293.2h1.2M205.6 292.4h1.2M206.5 288.1h1.2M210.6 286.2h1.2M205.8 290.4h1.2M173.8 294.3h1.2M213.2 289.3h1.2M203.2 286.7h1.2M203.4 290.2h1.2M207.1 288.5h1.2M210.0 291.3h1.2M204.3 284.2h1.2M190.2 292.8h1.2M207.9 294.7h1.2M202.0 288.1h1.2M214.9 293.3h1.2M201.2 288.2h1.2M206.4 285.5h1.2M178.7 294.9h1.2M198.7 280.9h1.2M198.2 289.8h1.2M198.5 295.2h1.2" stroke="#e48aa0" stroke-width="1.24"/>
<path d="M174.2 302.6h1.2M173.9 307.9h1.2M175.3 315.2h1.2M174.8 300.1h1.2M175.3 306.7h1.2M174.7 310.3h1.2M173.5 299.3h1.2M175.1 315.5h1.2" stroke="#c8102e" stroke-width="1.24"/>
<circle cx="145.80" cy="269.00" r="2.3" fill="#111"/><circle cx="145.80" cy="269.00" r="0.8" fill="#ddd"/>
<circle cx="164.90" cy="285.30" r="2.3" fill="#111"/><circle cx="164.90" cy="285.30" r="0.8" fill="#ddd"/>
<circle cx="173.10" cy="296.60" r="2.3" fill="#111"/><circle cx="173.10" cy="296.60" r="0.8" fill="#ddd"/>
<circle cx="176.10" cy="317.20" r="2.3" fill="#111"/><circle cx="176.10" cy="317.20" r="0.8" fill="#ddd"/>
<text x="42.23" y="225.60" font-size="7.52" fill="#1a1a1a" stroke="#1a1a1a" stroke-width="0.22" textLength="32.34" lengthAdjust="spacingAndGlyphs">Monocole</text>
<text x="42.63" y="235.00" font-size="7.98" fill="#1a1a1a" stroke="#1a1a1a" stroke-width="0.22" textLength="19.34" lengthAdjust="spacingAndGlyphs">state:</text>
<circle cx="88.70" cy="227.7" r="2.5" fill="#8aaccc"/>
<text x="92.51" y="229.90" font-size="6.47" fill="#1a1a1a" stroke="#1a1a1a" stroke-width="0.22">1</text>
<circle cx="103.95" cy="227.7" r="2.5" fill="#1b4f8a"/>
<text x="107.93" y="229.90" font-size="6.38" fill="#1a1a1a" stroke="#1a1a1a" stroke-width="0.22">2</text>
<circle cx="119.20" cy="227.7" r="2.5" fill="#9ad89a"/>
<text x="123.26" y="229.90" font-size="6.38" fill="#1a1a1a" stroke="#1a1a1a" stroke-width="0.22">3</text>
<circle cx="134.45" cy="227.7" r="2.5" fill="#2fae47"/>
<text x="138.60" y="229.90" font-size="6.47" fill="#1a1a1a" stroke="#1a1a1a" stroke-width="0.22">4</text>
<circle cx="149.70" cy="227.7" r="2.5" fill="#e48aa0"/>
<text x="153.74" y="229.90" font-size="6.47" fill="#1a1a1a" stroke="#1a1a1a" stroke-width="0.22">5</text>
<circle cx="164.95" cy="227.7" r="2.5" fill="#c8102e"/>
<text x="168.93" y="229.90" font-size="6.38" fill="#1a1a1a" stroke="#1a1a1a" stroke-width="0.22">6</text>
<circle cx="180.20" cy="227.7" r="2.5" fill="#fbbf77"/>
<text x="184.16" y="229.90" font-size="6.47" fill="#1a1a1a" stroke="#1a1a1a" stroke-width="0.22">7</text>
<circle cx="195.45" cy="227.7" r="2.5" fill="#f98a0e"/>
<text x="199.48" y="229.90" font-size="6.38" fill="#1a1a1a" stroke="#1a1a1a" stroke-width="0.22">8</text>
<circle cx="210.70" cy="227.7" r="2.5" fill="#a98fc4"/>
<text x="214.70" y="229.90" font-size="6.38" fill="#1a1a1a" stroke="#1a1a1a" stroke-width="0.22">9</text>
<text x="254.50" y="14.80" font-size="11.93" fill="#000" font-weight="bold" textLength="8.05" lengthAdjust="spacingAndGlyphs">B</text>
<line x1="279.10" y1="15.20" x2="279.10" y2="79.50" stroke="#2b2b2b" stroke-width="1.2"/>
<line x1="278.50" y1="79.50" x2="378.40" y2="79.50" stroke="#2b2b2b" stroke-width="1.2"/>
<line x1="276.00" y1="25.40" x2="279.10" y2="25.40" stroke="#2b2b2b" stroke-width="1.0"/>
<text x="269.48" y="27.90" font-size="7.96" fill="#1a1a1a" stroke="#1a1a1a" stroke-width="0.22">2</text>
<line x1="276.00" y1="44.70" x2="279.10" y2="44.70" stroke="#2b2b2b" stroke-width="1.0"/>
<text x="269.38" y="47.20" font-size="7.96" fill="#1a1a1a" stroke="#1a1a1a" stroke-width="0.22">0</text>
<line x1="276.00" y1="64.40" x2="279.10" y2="64.40" stroke="#2b2b2b" stroke-width="1.0"/>
<text x="264.83" y="66.90" font-size="7.96" fill="#1a1a1a" stroke="#1a1a1a" stroke-width="0.22">−2</text>
<line x1="279.00" y1="79.50" x2="279.00" y2="82.50" stroke="#2b2b2b" stroke-width="1.0"/>
<text x="271.86" y="91.00" font-size="7.67" fill="#1a1a1a" stroke="#1a1a1a" stroke-width="0.22">−6</text>
<line x1="305.60" y1="79.50" x2="305.60" y2="82.50" stroke="#2b2b2b" stroke-width="1.0"/>
<text x="298.51" y="91.00" font-size="7.67" fill="#1a1a1a" stroke="#1a1a1a" stroke-width="0.22">−3</text>
<line x1="332.20" y1="79.50" x2="332.20" y2="82.50" stroke="#2b2b2b" stroke-width="1.0"/>
<text x="329.56" y="91.00" font-size="7.67" fill="#1a1a1a" stroke="#1a1a1a" stroke-width="0.22">0</text>
<line x1="359.00" y1="79.50" x2="359.00" y2="82.50" stroke="#2b2b2b" stroke-width="1.0"/>
<text x="356.39" y="91.00" font-size="7.67" fill="#1a1a1a" stroke="#1a1a1a" stroke-width="0.22">3</text>
<text x="310.27" y="103.40" font-size="9.25" fill="#111" font-weight="bold" textLength="36.19" lengthAdjust="spacingAndGlyphs">Component 1</text>
<text x="0" y="0" font-size="9.61" fill="#111" font-weight="bold" textLength="37.17" lengthAdjust="spacingAndGlyphs" transform="translate(261.85 66.43) rotate(-90)">Component 2</text>
<text x="282.07" y="24.70" font-size="7.38" fill="#1a1a1a" stroke="#1a1a1a" stroke-width="0.22" textLength="30.06" lengthAdjust="spacingAndGlyphs">Cluster 2</text>
<path d="M291.65 61.73 L293.17 60.68 L294.69 59.64 L296.22 58.61 L297.74 57.58 L299.26 56.56 L300.78 55.56 L302.31 54.57 L303.83 53.60 L305.35 52.65 L306.87 51.72 L308.40 50.82 L309.92 49.95 L311.44 49.11 L312.96 48.30 L314.49 47.52 L316.01 46.79 L317.53 46.09 L319.05 45.44 L320.58 44.83 L322.10 44.27 L323.62 43.76 L325.14 43.31 L326.67 42.90 L328.19 42.56 L329.71 42.28 L331.23 42.06 L332.76 41.90 L334.28 41.81 L335.80 41.79" fill="none" stroke="#2a2a2a" stroke-width="0.8"/>
<path d="M335.80 41.70 L335.70 35.40" fill="none" stroke="#2a2a2a" stroke-width="0.8"/>
<path d="M335.80 41.70 L345.35 49.61 L349.45 55.09 L350.95 65.08" fill="none" stroke="#2a2a2a" stroke-width="0.8"/>
<path d="M349.45 55.09 L362.15 52.66" fill="none" stroke="#2a2a2a" stroke-width="0.8"/>
<path d="M350.95 65.08 L346.80 72.74" fill="none" stroke="#2a2a2a" stroke-width="0.8"/>
<path d="M350.95 65.08 L357.90 74.44" fill="none" stroke="#2a2a2a" stroke-width="0.8"/>
<path d="M358.8 75.2h1.0M301.3 51.5h1.0M339.5 45.1h1.0M335.9 31.2h1.0M311.8 44.1h1.0M333.9 33.3h1.0M309.5 49.4h1.0M335.7 31.8h1.0M361.2 52.3h1.0M297.6 55.6h1.0M355.4 53.4h1.0M312.4 45.5h1.0M341.1 46.2h1.0M335.5 35.1h1.0M335.2 31.1h1.0M353.4 53.5h1.0M323.3 40.6h1.0M336.9 31.0h1.0M359.9 77.2h1.0M293.8 53.9h1.0M333.0 31.8h1.0M354.1 83.2h1.0M300.0 58.2h1.0M335.4 31.1h1.0M342.2 44.4h1.0M335.9 32.6h1.0M337.4 43.5h1.0M314.5 47.6h1.0M328.1 40.1h1.0M360.1 53.4h1.0M335.5 34.6h1.0M343.4 45.5h1.0M347.3 45.3h1.0M329.5 41.2h1.0M310.9 42.7h1.0M356.8 73.8h1.0M312.3 44.3h1.0M346.1 47.0h1.0M357.5 74.0h1.0M348.6 68.4h1.0M361.6 79.6h1.0M332.8 30.5h1.0M316.7 46.2h1.0M312.6 51.2h1.0M342.0 43.0h1.0M338.3 44.8h1.0M335.6 32.2h1.0M338.2 32.2h1.0M323.6 42.7h1.0M336.8 31.0h1.0M340.5 78.7h1.0M297.0 57.2h1.0M320.2 42.5h1.0M360.1 52.8h1.0M346.8 45.8h1.0M366.3 48.8h1.0M336.9 32.5h1.0M313.2 45.2h1.0M335.5 33.3h1.0M320.4 41.8h1.0M342.5 43.7h1.0M350.0 61.8h1.0M335.1 32.9h1.0M334.4 34.9h1.0M292.8 58.0h1.0M330.5 39.6h1.0M307.3 52.5h1.0M335.3 31.0h1.0M344.3 46.7h1.0M352.8 53.8h1.0M313.3 43.9h1.0M305.8 54.2h1.0M332.0 42.3h1.0M348.8 57.2h1.0M306.8 53.8h1.0M339.3 42.1h1.0M346.9 48.6h1.0M300.7 51.4h1.0M322.4 41.7h1.0M338.0 33.1h1.0M338.3 40.8h1.0M316.2 44.2h1.0M306.3 50.4h1.0M340.1 42.9h1.0M335.7 30.5h1.0M346.9 45.1h1.0M313.7 47.0h1.0M335.5 35.3h1.0M298.8 49.5h1.0M335.9 28.5h1.0M337.5 29.5h1.0M335.7 32.6h1.0M313.4 47.7h1.0M312.8 49.6h1.0M335.0 33.3h1.0M312.5 45.2h1.0M359.9 51.9h1.0M292.0 60.8h1.0M343.0 43.8h1.0M335.0 31.7h1.0M335.9 33.9h1.0M333.3 33.2h1.0M331.9 32.0h1.0M332.2 32.0h1.0M294.0 60.4h1.0M366.2 49.3h1.0M340.9 43.0h1.0M335.4 28.7h1.0M355.5 53.4h1.0M333.1 32.4h1.0M323.9 42.6h1.0M346.3 75.3h1.0M336.7 31.4h1.0M335.0 31.0h1.0M337.1 33.5h1.0M310.4 42.8h1.0M318.2 43.1h1.0M349.8 60.5h1.0M295.9 57.4h1.0M304.1 58.2h1.0M316.4 45.1h1.0M334.1 30.9h1.0M313.0 45.8h1.0M335.4 33.0h1.0M345.0 75.2h1.0M339.4 43.8h1.0M346.5 48.3h1.0M359.7 53.1h1.0M322.6 42.9h1.0M319.7 43.9h1.0M348.2 72.3h1.0M341.5 42.2h1.0M359.8 75.4h1.0M336.6 31.6h1.0M366.4 79.6h1.0M326.6 40.6h1.0M343.6 72.5h1.0M366.5 47.8h1.0M311.3 45.8h1.0M323.2 42.4h1.0M334.4 33.2h1.0M320.3 42.6h1.0M349.8 59.6h1.0M302.0 52.3h1.0M335.3 33.4h1.0M355.0 53.4h1.0M302.2 55.8h1.0M344.8 46.4h1.0M337.9 40.4h1.0M323.4 42.7h1.0M304.4 54.4h1.0M340.7 42.8h1.0M335.2 32.1h1.0M292.8 56.7h1.0M314.2 44.2h1.0M326.0 40.7h1.0M349.4 69.3h1.0M319.3 43.2h1.0M326.0 39.8h1.0M344.4 45.5h1.0M340.4 43.4h1.0M342.5 47.7h1.0M322.7 41.9h1.0M350.0 60.3h1.0M358.9 75.6h1.0M335.1 30.4h1.0M350.3 60.9h1.0M334.5 30.1h1.0M307.6 48.6h1.0M331.4 40.2h1.0" stroke="#3db84e" stroke-width="1.00"/>
<path d="M334.4 33.0h1.0M333.3 32.1h1.0M346.2 48.8h1.0M293.7 59.9h1.0M335.9 31.3h1.0M347.0 70.5h1.0M347.2 44.8h1.0M328.7 40.6h1.0M335.0 31.1h1.0M311.1 46.4h1.0M347.9 44.6h1.0M335.8 39.3h1.0M320.8 40.8h1.0M347.1 73.0h1.0M335.5 33.1h1.0M364.7 51.5h1.0M308.0 46.7h1.0M349.2 55.7h1.0M323.2 41.7h1.0M361.0 53.2h1.0M347.2 45.3h1.0M312.8 46.9h1.0M321.0 42.3h1.0M336.4 31.8h1.0M301.2 55.6h1.0M335.0 30.4h1.0M341.6 44.0h1.0M340.3 42.1h1.0M345.9 48.1h1.0M300.5 58.5h1.0M336.8 42.0h1.0M313.0 49.2h1.0M335.1 32.0h1.0M335.2 31.9h1.0M321.1 41.9h1.0M313.5 42.6h1.0M334.8 31.9h1.0M322.4 43.1h1.0M318.9 43.8h1.0M333.4 30.2h1.0M344.5 45.5h1.0M362.9 49.9h1.0M359.2 51.8h1.0M312.1 51.7h1.0M336.5 31.4h1.0M336.3 30.8h1.0M334.1 34.9h1.0M335.1 32.3h1.0M335.1 30.9h1.0M349.7 58.3h1.0M345.4 48.6h1.0M323.9 41.0h1.0M352.8 53.3h1.0M303.9 51.4h1.0M322.1 41.2h1.0M338.0 39.9h1.0M346.3 72.3h1.0M357.6 53.0h1.0M335.2 32.7h1.0M357.2 75.1h1.0M342.3 46.3h1.0M319.7 42.2h1.0M316.2 43.3h1.0M343.0 44.1h1.0M345.9 72.5h1.0M297.1 58.0h1.0M347.1 71.1h1.0M333.6 29.5h1.0M328.1 42.6h1.0M337.0 28.1h1.0M366.1 51.6h1.0M311.1 50.3h1.0M336.0 37.8h1.0M328.3 40.4h1.0M335.3 31.4h1.0M308.5 47.2h1.0M335.6 32.7h1.0M349.3 57.3h1.0M335.7 34.2h1.0M333.9 30.9h1.0M349.8 65.4h1.0M336.0 41.9h1.0M340.5 42.5h1.0M338.3 31.5h1.0M315.6 44.2h1.0M310.2 48.4h1.0M333.8 31.4h1.0M363.4 80.4h1.0M320.4 43.6h1.0M330.9 33.2h1.0M349.8 61.2h1.0M349.8 67.0h1.0M311.8 48.1h1.0M340.5 43.3h1.0M335.6 31.7h1.0M312.6 46.7h1.0M324.8 40.4h1.0M340.6 42.5h1.0M335.6 39.4h1.0M342.5 43.4h1.0M352.8 68.5h1.0M298.9 55.2h1.0M334.6 33.3h1.0M301.5 53.6h1.0M325.3 39.6h1.0M321.8 40.2h1.0M322.3 41.2h1.0M333.7 33.4h1.0M318.9 44.5h1.0M334.9 31.2h1.0M360.0 74.3h1.0M320.9 40.3h1.0M344.0 72.9h1.0M334.1 32.3h1.0M337.4 44.0h1.0M347.4 46.7h1.0M344.1 46.7h1.0M320.5 44.0h1.0M367.9 50.4h1.0M296.3 52.4h1.0M312.0 44.3h1.0M333.7 32.9h1.0M314.1 46.2h1.0M334.2 31.8h1.0M347.4 45.4h1.0M335.1 34.3h1.0M327.3 39.2h1.0M319.4 42.5h1.0M335.5 36.7h1.0M320.6 43.0h1.0M312.3 48.1h1.0M314.0 46.9h1.0M321.5 41.9h1.0M334.7 29.5h1.0M291.3 61.8h1.0M364.3 50.1h1.0M314.1 47.5h1.0M343.7 46.4h1.0M308.4 49.7h1.0M319.0 41.4h1.0M348.5 56.9h1.0M333.1 32.4h1.0M315.5 45.5h1.0M313.0 45.9h1.0M349.1 55.2h1.0M312.8 45.3h1.0M323.2 40.1h1.0M346.6 47.1h1.0M317.6 42.3h1.0M350.4 54.8h1.0M344.9 48.4h1.0M365.2 49.3h1.0M333.5 32.8h1.0M346.0 48.7h1.0M340.5 42.2h1.0M336.0 33.1h1.0M345.1 45.8h1.0M333.8 29.3h1.0M337.2 29.5h1.0M336.5 37.0h1.0M335.8 29.3h1.0M345.9 47.6h1.0M334.5 31.6h1.0M293.7 62.4h1.0M334.4 31.4h1.0M312.8 45.3h1.0M313.6 47.6h1.0M290.8 56.3h1.0M311.8 46.5h1.0M341.3 44.8h1.0M318.6 42.7h1.0M335.1 29.9h1.0M324.4 39.6h1.0M345.2 71.8h1.0M341.0 43.1h1.0M347.4 45.5h1.0M341.1 43.6h1.0M365.3 50.0h1.0M344.7 49.6h1.0M334.5 30.6h1.0M345.5 48.5h1.0M336.3 33.1h1.0M313.0 47.5h1.0M343.5 48.2h1.0M365.9 50.8h1.0" stroke="#3db84e" stroke-width="1.00"/>
<path d="M339.7 42.6h1.0M341.5 44.6h1.0M339.8 40.3h1.0M324.3 40.4h1.0M315.2 46.2h1.0M348.0 73.0h1.0M314.8 46.5h1.0M287.1 63.3h1.0M364.2 81.7h1.0M302.6 55.0h1.0M295.1 61.4h1.0M347.3 44.7h1.0M316.3 43.3h1.0M346.7 45.5h1.0M334.6 33.8h1.0M348.2 70.2h1.0M294.4 56.4h1.0M337.6 39.7h1.0M311.2 44.8h1.0M334.5 29.9h1.0M335.7 32.0h1.0M313.3 50.1h1.0M333.8 33.4h1.0M335.0 37.0h1.0M339.8 43.0h1.0M310.1 50.4h1.0M346.2 44.9h1.0M333.7 34.6h1.0M337.5 32.7h1.0M337.3 39.6h1.0M340.2 42.0h1.0M305.3 51.0h1.0M320.5 40.1h1.0M360.6 53.3h1.0M334.1 33.1h1.0M366.9 48.3h1.0M348.6 68.9h1.0M364.0 52.3h1.0M349.4 54.5h1.0M336.5 33.2h1.0M335.2 28.7h1.0M339.2 41.4h1.0M334.1 32.8h1.0M321.8 40.0h1.0M333.8 32.5h1.0M306.4 49.6h1.0M335.8 30.4h1.0M345.7 47.7h1.0M334.5 31.5h1.0M334.3 31.3h1.0M294.7 57.3h1.0M312.6 48.4h1.0M345.8 48.7h1.0M360.6 75.5h1.0M336.1 30.0h1.0M343.8 45.1h1.0M343.2 46.4h1.0M355.4 53.6h1.0M346.4 48.5h1.0M335.8 29.9h1.0M303.1 53.7h1.0M311.3 44.2h1.0M319.1 43.8h1.0M335.5 32.3h1.0M319.5 41.1h1.0M335.0 31.6h1.0M309.4 49.9h1.0M333.5 31.3h1.0M337.9 39.0h1.0M339.9 45.1h1.0M336.1 32.1h1.0M332.6 32.8h1.0M364.7 48.2h1.0M315.9 44.0h1.0M335.0 33.0h1.0M346.4 72.9h1.0M346.3 71.2h1.0M333.3 30.0h1.0M334.4 31.2h1.0M305.0 48.9h1.0M334.5 33.2h1.0M333.1 31.3h1.0M294.8 51.6h1.0M324.6 40.6h1.0M339.3 38.9h1.0M346.3 47.2h1.0M345.8 72.4h1.0M338.2 41.7h1.0M329.4 39.7h1.0M336.2 31.6h1.0M306.9 52.8h1.0M338.3 39.6h1.0M334.2 31.9h1.0M293.6 57.5h1.0M350.1 56.8h1.0M350.3 60.0h1.0M303.7 57.2h1.0M351.7 55.4h1.0M337.2 40.3h1.0M295.4 60.6h1.0M305.8 50.8h1.0M351.2 55.0h1.0M347.0 45.1h1.0M339.4 41.2h1.0M312.7 48.9h1.0M354.8 70.2h1.0M350.0 61.7h1.0M310.9 41.8h1.0M335.3 42.1h1.0M333.0 33.7h1.0M355.3 71.2h1.0M333.9 31.6h1.0M313.2 47.6h1.0M349.2 69.2h1.0M354.7 53.3h1.0M336.3 30.0h1.0M325.1 42.0h1.0M337.6 32.8h1.0M349.5 56.4h1.0M341.7 41.9h1.0M333.4 30.7h1.0M312.8 47.2h1.0M349.6 54.0h1.0M299.7 56.7h1.0M335.2 30.7h1.0M334.8 33.1h1.0M339.3 40.9h1.0M364.3 50.3h1.0M344.0 44.5h1.0M338.8 41.6h1.0M311.9 44.4h1.0M333.3 33.2h1.0M304.8 51.4h1.0M319.5 42.4h1.0M357.9 76.2h1.0M334.5 31.8h1.0M332.6 32.8h1.0M332.9 35.2h1.0M315.5 44.1h1.0M336.1 32.1h1.0M321.2 43.4h1.0M341.5 43.5h1.0M347.0 44.9h1.0M288.4 66.4h1.0M335.5 28.8h1.0M327.3 40.8h1.0M329.7 40.3h1.0M352.7 67.5h1.0M304.6 45.9h1.0M363.3 51.0h1.0M317.3 43.2h1.0M307.4 50.4h1.0M349.4 68.3h1.0M313.8 47.4h1.0M344.9 73.6h1.0M338.1 39.2h1.0M352.1 54.2h1.0M336.5 35.5h1.0M344.1 44.2h1.0M326.9 40.5h1.0M314.1 44.9h1.0M334.7 30.9h1.0M291.0 61.1h1.0M332.7 30.7h1.0M333.9 33.6h1.0M333.8 33.0h1.0M312.3 48.7h1.0M322.5 41.1h1.0M312.5 44.6h1.0M307.8 50.2h1.0M349.6 67.4h1.0" stroke="#3db84e" stroke-width="1.00"/>
<circle cx="335.80" cy="41.70" r="1.9" fill="#111"/><circle cx="335.80" cy="41.70" r="0.6" fill="#ccc"/>
<circle cx="345.35" cy="49.61" r="1.9" fill="#111"/><circle cx="345.35" cy="49.61" r="0.6" fill="#ccc"/>
<circle cx="349.45" cy="55.09" r="1.9" fill="#111"/><circle cx="349.45" cy="55.09" r="0.6" fill="#ccc"/>
<circle cx="350.95" cy="65.08" r="1.9" fill="#111"/><circle cx="350.95" cy="65.08" r="0.6" fill="#ccc"/>
<line x1="413.40" y1="15.20" x2="413.40" y2="79.40" stroke="#2b2b2b" stroke-width="1.2"/>
<line x1="412.80" y1="79.40" x2="513.50" y2="79.40" stroke="#2b2b2b" stroke-width="1.2"/>
<line x1="410.30" y1="25.20" x2="413.40" y2="25.20" stroke="#2b2b2b" stroke-width="1.0"/>
<text x="403.78" y="27.70" font-size="7.96" fill="#1a1a1a" stroke="#1a1a1a" stroke-width="0.22">2</text>
<line x1="410.30" y1="44.90" x2="413.40" y2="44.90" stroke="#2b2b2b" stroke-width="1.0"/>
<text x="403.68" y="47.40" font-size="7.96" fill="#1a1a1a" stroke="#1a1a1a" stroke-width="0.22">0</text>
<line x1="410.30" y1="64.90" x2="413.40" y2="64.90" stroke="#2b2b2b" stroke-width="1.0"/>
<text x="399.13" y="67.40" font-size="7.96" fill="#1a1a1a" stroke="#1a1a1a" stroke-width="0.22">−2</text>
<line x1="414.30" y1="79.40" x2="414.30" y2="82.40" stroke="#2b2b2b" stroke-width="1.0"/>
<text x="407.16" y="90.90" font-size="7.67" fill="#1a1a1a" stroke="#1a1a1a" stroke-width="0.22">−6</text>
<line x1="440.30" y1="79.40" x2="440.30" y2="82.40" stroke="#2b2b2b" stroke-width="1.0"/>
<text x="433.21" y="90.90" font-size="7.67" fill="#1a1a1a" stroke="#1a1a1a" stroke-width="0.22">−3</text>
<line x1="467.30" y1="79.40" x2="467.30" y2="82.40" stroke="#2b2b2b" stroke-width="1.0"/>
<text x="464.66" y="90.90" font-size="7.67" fill="#1a1a1a" stroke="#1a1a1a" stroke-width="0.22">0</text>
<line x1="493.50" y1="79.40" x2="493.50" y2="82.40" stroke="#2b2b2b" stroke-width="1.0"/>
<text x="490.89" y="90.90" font-size="7.67" fill="#1a1a1a" stroke="#1a1a1a" stroke-width="0.22">3</text>
<text x="445.47" y="103.30" font-size="9.25" fill="#111" font-weight="bold" textLength="36.19" lengthAdjust="spacingAndGlyphs">Component 1</text>
<text x="0" y="0" font-size="9.61" fill="#111" font-weight="bold" textLength="37.17" lengthAdjust="spacingAndGlyphs" transform="translate(396.15 66.38) rotate(-90)">Component 2</text>
<text x="416.68" y="24.70" font-size="7.38" fill="#1a1a1a" stroke="#1a1a1a" stroke-width="0.22" textLength="29.60" lengthAdjust="spacingAndGlyphs">Cluster 3</text>
<path d="M426.65 51.53 L428.17 50.48 L429.69 49.44 L431.22 48.41 L432.74 47.38 L434.26 46.36 L435.78 45.36 L437.31 44.37 L438.83 43.40 L440.35 42.45 L441.87 41.52 L443.40 40.62 L444.92 39.75 L446.44 38.91 L447.96 38.10 L449.49 37.32 L451.01 36.59 L452.53 35.89 L454.05 35.24 L455.58 34.63 L457.10 34.07 L458.62 33.56 L460.14 33.11 L461.67 32.70 L463.19 32.36 L464.71 32.08 L466.23 31.86 L467.76 31.70 L469.28 31.61 L470.80 31.59" fill="none" stroke="#2a2a2a" stroke-width="0.8"/>
<path d="M470.80 31.50 L470.70 25.20" fill="none" stroke="#2a2a2a" stroke-width="0.8"/>
<path d="M470.80 31.50 L480.35 39.41 L484.45 44.89 L485.95 54.88" fill="none" stroke="#2a2a2a" stroke-width="0.8"/>
<path d="M484.45 44.89 L497.15 42.46" fill="none" stroke="#2a2a2a" stroke-width="0.8"/>
<path d="M485.95 54.88 L481.80 62.54" fill="none" stroke="#2a2a2a" stroke-width="0.8"/>
<path d="M485.95 54.88 L492.90 64.24" fill="none" stroke="#2a2a2a" stroke-width="0.8"/>
<path d="M499.9 69.5h1.0M491.3 66.1h1.0M481.8 62.8h1.0M492.5 65.5h1.0M478.2 66.9h1.0M502.4 41.7h1.0M480.3 67.7h1.0M479.9 64.0h1.0M492.9 64.1h1.0M497.2 71.7h1.0M492.3 67.4h1.0M499.9 66.7h1.0M493.1 68.6h1.0M499.6 42.4h1.0M494.3 66.0h1.0M489.5 60.9h1.0M500.3 67.4h1.0M495.9 68.6h1.0M477.6 69.7h1.0M494.0 73.2h1.0M497.3 68.8h1.0M491.8 66.7h1.0M495.0 67.8h1.0M493.7 65.5h1.0M494.1 70.0h1.0M500.7 41.0h1.0M492.3 70.8h1.0M498.1 43.1h1.0M497.0 74.6h1.0M494.1 67.3h1.0M495.1 71.5h1.0M485.8 44.4h1.0M498.7 66.9h1.0M491.4 71.8h1.0M492.5 65.6h1.0M498.0 43.3h1.0M479.8 63.7h1.0M491.9 68.8h1.0M435.4 48.2h1.0M492.6 66.2h1.0M494.9 63.4h1.0M491.1 62.8h1.0M492.9 65.6h1.0M494.3 72.2h1.0M496.7 71.1h1.0M491.6 67.0h1.0M491.5 64.7h1.0M480.3 65.1h1.0M500.7 43.5h1.0M481.5 64.0h1.0M493.3 67.3h1.0M497.6 43.2h1.0M494.0 42.3h1.0M496.0 70.1h1.0M494.3 67.8h1.0M500.7 41.4h1.0M481.8 64.6h1.0M500.8 43.9h1.0M500.5 42.7h1.0M482.8 64.7h1.0M480.8 64.7h1.0M478.8 65.6h1.0M499.6 43.5h1.0M503.4 44.6h1.0M480.2 65.0h1.0M487.6 63.6h1.0M477.0 68.0h1.0M495.5 67.6h1.0M480.8 66.0h1.0M481.7 67.0h1.0M477.9 63.6h1.0M480.5 68.8h1.0M499.6 73.5h1.0M492.0 62.5h1.0M501.1 41.6h1.0M494.8 67.4h1.0M494.2 71.2h1.0M493.3 68.2h1.0M499.4 40.3h1.0M499.0 44.1h1.0M494.0 71.6h1.0M500.3 42.9h1.0M479.3 69.3h1.0M497.3 44.0h1.0M499.1 65.8h1.0M494.5 71.4h1.0M490.6 74.5h1.0M480.2 62.7h1.0M492.1 64.1h1.0M495.1 65.7h1.0M499.8 41.4h1.0M500.8 41.4h1.0M487.6 56.7h1.0M479.4 67.5h1.0M495.5 64.9h1.0M477.9 68.4h1.0M499.7 40.4h1.0M496.7 40.7h1.0M480.2 61.7h1.0M499.9 42.3h1.0M478.7 67.5h1.0M492.9 65.5h1.0M500.2 40.7h1.0M493.7 66.6h1.0M493.5 69.7h1.0M478.5 68.5h1.0M497.7 69.6h1.0M500.9 44.8h1.0M494.5 65.5h1.0M477.1 65.0h1.0M498.6 68.3h1.0M497.1 67.5h1.0M498.4 40.9h1.0M498.6 40.5h1.0M494.9 66.1h1.0M478.8 65.7h1.0M495.1 72.3h1.0M499.7 44.1h1.0M496.1 77.4h1.0M495.2 65.8h1.0M497.5 40.9h1.0M492.1 66.0h1.0M479.1 65.1h1.0M499.6 47.7h1.0" stroke="#555555" stroke-width="1.00"/>
<path d="M497.8 68.8h1.0M479.2 65.9h1.0M490.3 65.3h1.0M479.7 60.5h1.0M485.1 51.9h1.0M478.1 68.5h1.0M498.2 75.3h1.0M493.4 66.3h1.0M495.9 71.1h1.0M476.7 65.5h1.0M497.2 66.9h1.0M479.9 63.6h1.0M495.0 61.7h1.0M495.1 69.2h1.0M495.1 67.0h1.0M499.5 74.6h1.0M493.0 70.2h1.0M492.3 65.1h1.0M478.8 67.7h1.0M494.1 67.9h1.0M495.8 72.1h1.0M493.4 66.4h1.0M498.4 75.2h1.0M436.8 45.7h1.0M482.1 67.8h1.0M498.9 41.8h1.0M501.0 40.3h1.0M500.4 74.2h1.0M495.5 66.7h1.0M488.7 58.7h1.0M494.8 70.0h1.0M492.2 65.3h1.0M492.5 67.7h1.0M494.2 67.2h1.0M500.3 42.4h1.0M492.0 67.8h1.0M491.6 66.2h1.0M490.6 68.0h1.0M479.0 69.5h1.0M494.0 72.5h1.0M492.8 66.5h1.0M481.3 61.3h1.0M493.9 66.4h1.0M499.0 41.5h1.0M492.6 65.9h1.0M496.0 68.2h1.0M477.4 64.9h1.0M495.2 74.3h1.0M491.8 64.1h1.0M494.8 64.6h1.0M500.8 71.4h1.0M492.8 68.9h1.0M481.1 65.9h1.0M496.4 71.1h1.0M496.4 69.2h1.0M492.2 66.0h1.0M497.9 71.0h1.0M482.6 60.5h1.0M497.7 42.5h1.0M493.5 65.1h1.0M499.1 43.0h1.0M493.8 65.6h1.0M436.1 47.6h1.0M482.5 59.3h1.0M493.5 67.3h1.0M497.0 76.9h1.0M480.6 64.4h1.0M492.1 73.8h1.0M478.9 69.8h1.0M476.4 66.9h1.0M500.4 42.1h1.0M481.6 60.9h1.0M432.6 48.6h1.0M477.5 71.0h1.0M478.0 68.4h1.0M497.5 64.7h1.0M494.6 65.9h1.0M482.1 68.3h1.0M489.8 61.7h1.0M482.7 66.4h1.0M497.7 42.0h1.0M486.4 55.5h1.0M479.4 68.7h1.0M491.5 68.7h1.0M498.2 68.7h1.0M494.4 63.8h1.0M497.2 72.6h1.0M479.1 64.3h1.0M496.7 67.0h1.0M501.1 44.2h1.0M493.4 68.1h1.0M480.7 64.2h1.0M498.8 45.1h1.0M500.2 41.1h1.0M481.2 63.0h1.0M501.9 74.0h1.0M479.2 66.8h1.0M495.9 69.3h1.0M500.9 41.3h1.0M498.2 42.6h1.0M480.7 66.7h1.0M498.8 42.9h1.0M495.3 65.1h1.0M479.4 67.1h1.0M491.8 64.6h1.0M501.6 42.1h1.0M494.1 69.8h1.0M490.0 64.2h1.0M488.3 64.5h1.0M479.0 60.2h1.0M493.8 63.7h1.0M501.0 41.8h1.0M476.3 69.6h1.0M481.0 62.9h1.0M497.5 69.7h1.0M479.3 66.0h1.0M499.4 40.6h1.0M481.3 61.6h1.0" stroke="#555555" stroke-width="1.00"/>
<path d="M495.6 68.1h1.0M437.9 45.1h1.0M499.6 41.7h1.0M494.0 65.4h1.0M498.8 69.2h1.0M492.1 67.1h1.0M494.1 67.9h1.0M480.8 63.3h1.0M493.3 66.8h1.0M493.3 66.1h1.0M493.1 65.0h1.0M501.2 71.9h1.0M492.9 65.7h1.0M478.9 62.8h1.0M478.5 64.5h1.0M479.3 65.6h1.0M496.0 62.6h1.0M478.3 68.4h1.0M480.1 65.5h1.0M480.9 61.7h1.0M491.0 67.9h1.0M479.7 64.7h1.0M494.2 64.5h1.0M497.6 44.5h1.0M492.5 68.5h1.0M499.2 40.8h1.0M493.4 63.3h1.0M499.2 71.7h1.0M433.8 49.3h1.0M499.3 72.0h1.0M494.4 64.5h1.0M493.6 67.0h1.0M493.7 67.5h1.0M478.4 64.8h1.0M479.1 65.3h1.0M502.8 66.3h1.0M476.7 67.5h1.0M494.8 68.4h1.0M427.6 53.4h1.0M493.1 64.5h1.0M493.2 61.9h1.0M477.1 67.9h1.0M495.2 62.1h1.0M492.7 65.1h1.0M478.5 66.8h1.0M481.9 67.0h1.0M493.3 66.5h1.0M491.5 65.4h1.0M494.1 66.5h1.0M481.6 59.3h1.0M494.1 67.5h1.0M480.6 63.6h1.0M493.8 66.6h1.0M480.4 64.6h1.0M478.2 69.2h1.0M479.7 61.5h1.0M500.8 41.1h1.0M495.5 68.9h1.0M495.2 66.5h1.0M495.5 69.5h1.0M480.9 67.9h1.0M491.7 68.9h1.0M499.9 43.7h1.0M476.4 64.2h1.0M495.5 68.6h1.0M494.7 66.0h1.0M493.8 71.5h1.0M498.1 69.8h1.0M481.4 67.0h1.0M477.9 64.0h1.0M495.5 68.7h1.0M493.5 65.3h1.0M480.6 65.7h1.0M492.4 66.1h1.0M493.8 65.7h1.0M495.2 70.1h1.0M495.1 66.6h1.0M480.0 70.4h1.0M491.0 66.6h1.0M479.4 64.8h1.0M496.2 68.9h1.0M492.5 66.3h1.0M435.0 46.5h1.0M476.9 67.3h1.0M497.8 72.0h1.0M491.6 68.4h1.0M494.5 67.9h1.0M482.2 65.6h1.0M434.5 48.7h1.0M497.4 65.6h1.0M493.7 64.9h1.0M499.4 41.8h1.0M501.2 40.9h1.0M478.8 67.0h1.0M500.6 69.4h1.0M491.6 66.1h1.0M493.5 64.7h1.0M500.4 71.5h1.0M501.7 44.0h1.0M492.9 64.7h1.0M478.5 67.6h1.0M496.4 68.4h1.0M494.2 66.7h1.0M491.7 65.7h1.0M480.8 60.3h1.0M499.5 67.5h1.0M498.7 40.7h1.0M494.3 64.8h1.0M492.7 64.8h1.0M503.0 75.8h1.0M479.0 67.6h1.0M498.1 72.2h1.0M479.0 67.4h1.0M480.5 69.5h1.0M478.7 69.2h1.0M477.5 65.5h1.0M492.6 65.2h1.0M491.3 66.8h1.0M477.6 65.7h1.0M489.1 59.2h1.0M496.3 62.8h1.0M493.0 66.6h1.0M480.6 66.6h1.0M497.0 44.2h1.0" stroke="#555555" stroke-width="1.00"/>
<circle cx="470.80" cy="31.50" r="1.9" fill="#111"/><circle cx="470.80" cy="31.50" r="0.6" fill="#ccc"/>
<circle cx="480.35" cy="39.41" r="1.9" fill="#111"/><circle cx="480.35" cy="39.41" r="0.6" fill="#ccc"/>
<circle cx="484.45" cy="44.89" r="1.9" fill="#111"/><circle cx="484.45" cy="44.89" r="0.6" fill="#ccc"/>
<circle cx="485.95" cy="54.88" r="1.9" fill="#111"/><circle cx="485.95" cy="54.88" r="0.6" fill="#ccc"/>
<line x1="279.40" y1="114.40" x2="279.40" y2="178.80" stroke="#2b2b2b" stroke-width="1.2"/>
<line x1="278.80" y1="178.80" x2="378.80" y2="178.80" stroke="#2b2b2b" stroke-width="1.2"/>
<line x1="276.30" y1="124.70" x2="279.40" y2="124.70" stroke="#2b2b2b" stroke-width="1.0"/>
<text x="269.78" y="127.20" font-size="7.96" fill="#1a1a1a" stroke="#1a1a1a" stroke-width="0.22">2</text>
<line x1="276.30" y1="144.10" x2="279.40" y2="144.10" stroke="#2b2b2b" stroke-width="1.0"/>
<text x="269.68" y="146.60" font-size="7.96" fill="#1a1a1a" stroke="#1a1a1a" stroke-width="0.22">0</text>
<line x1="276.30" y1="163.60" x2="279.40" y2="163.60" stroke="#2b2b2b" stroke-width="1.0"/>
<text x="265.13" y="166.10" font-size="7.96" fill="#1a1a1a" stroke="#1a1a1a" stroke-width="0.22">−2</text>
<line x1="279.60" y1="178.80" x2="279.60" y2="181.80" stroke="#2b2b2b" stroke-width="1.0"/>
<text x="272.46" y="190.30" font-size="7.67" fill="#1a1a1a" stroke="#1a1a1a" stroke-width="0.22">−6</text>
<line x1="306.20" y1="178.80" x2="306.20" y2="181.80" stroke="#2b2b2b" stroke-width="1.0"/>
<text x="299.11" y="190.30" font-size="7.67" fill="#1a1a1a" stroke="#1a1a1a" stroke-width="0.22">−3</text>
<line x1="332.50" y1="178.80" x2="332.50" y2="181.80" stroke="#2b2b2b" stroke-width="1.0"/>
<text x="329.86" y="190.30" font-size="7.67" fill="#1a1a1a" stroke="#1a1a1a" stroke-width="0.22">0</text>
<line x1="358.80" y1="178.80" x2="358.80" y2="181.80" stroke="#2b2b2b" stroke-width="1.0"/>
<text x="356.19" y="190.30" font-size="7.67" fill="#1a1a1a" stroke="#1a1a1a" stroke-width="0.22">3</text>
<text x="310.77" y="202.70" font-size="9.25" fill="#111" font-weight="bold" textLength="36.19" lengthAdjust="spacingAndGlyphs">Component 1</text>
<text x="0" y="0" font-size="9.61" fill="#111" font-weight="bold" textLength="37.17" lengthAdjust="spacingAndGlyphs" transform="translate(262.15 165.68) rotate(-90)">Component 2</text>
<text x="282.08" y="122.60" font-size="7.38" fill="#1a1a1a" stroke="#1a1a1a" stroke-width="0.22" textLength="29.69" lengthAdjust="spacingAndGlyphs">Cluster 4</text>
<path d="M292.05 151.03 L293.57 149.98 L295.09 148.94 L296.62 147.91 L298.14 146.88 L299.66 145.86 L301.18 144.86 L302.71 143.87 L304.23 142.90 L305.75 141.95 L307.27 141.02 L308.80 140.12 L310.32 139.25 L311.84 138.41 L313.36 137.60 L314.89 136.82 L316.41 136.09 L317.93 135.39 L319.45 134.74 L320.98 134.13 L322.50 133.57 L324.02 133.06 L325.54 132.61 L327.07 132.20 L328.59 131.86 L330.11 131.58 L331.63 131.36 L333.16 131.20 L334.68 131.11 L336.20 131.09" fill="none" stroke="#2a2a2a" stroke-width="0.8"/>
<path d="M336.20 131.00 L336.10 124.69" fill="none" stroke="#2a2a2a" stroke-width="0.8"/>
<path d="M336.20 131.00 L345.75 138.91 L349.85 144.39 L351.35 154.38" fill="none" stroke="#2a2a2a" stroke-width="0.8"/>
<path d="M349.85 144.39 L362.55 141.96" fill="none" stroke="#2a2a2a" stroke-width="0.8"/>
<path d="M351.35 154.38 L347.20 162.04" fill="none" stroke="#2a2a2a" stroke-width="0.8"/>
<path d="M351.35 154.38 L358.30 163.74" fill="none" stroke="#2a2a2a" stroke-width="0.8"/>
<path d="M285.9 154.1h1.0M289.4 152.2h1.0M340.0 130.9h1.0M289.5 153.7h1.0M306.6 139.2h1.0M289.0 151.5h1.0M289.0 155.7h1.0M293.4 148.2h1.0M304.8 142.8h1.0M290.6 152.1h1.0M288.8 153.1h1.0M287.3 151.8h1.0M288.6 153.2h1.0M312.0 135.3h1.0M299.6 140.8h1.0M344.5 161.4h1.0M286.1 153.2h1.0M291.0 147.7h1.0M289.0 152.7h1.0M348.2 162.3h1.0M346.4 162.5h1.0M346.4 160.5h1.0M311.6 136.0h1.0M346.0 163.5h1.0M284.2 154.0h1.0M287.2 151.6h1.0M302.3 139.0h1.0M285.7 153.7h1.0M287.9 151.0h1.0M344.5 161.3h1.0M287.7 153.3h1.0M349.1 156.3h1.0M300.6 146.0h1.0M285.0 151.2h1.0M296.6 147.6h1.0M296.3 144.8h1.0M288.4 155.2h1.0M283.7 156.2h1.0M302.1 140.1h1.0M285.8 155.7h1.0M290.8 156.9h1.0M286.9 154.7h1.0M285.3 150.4h1.0M285.6 154.4h1.0M287.0 152.2h1.0M295.4 149.7h1.0M288.1 156.0h1.0M296.8 146.0h1.0M287.3 153.3h1.0M288.3 153.8h1.0M297.9 148.1h1.0M296.8 147.1h1.0M345.4 164.4h1.0M350.2 156.1h1.0M285.4 153.0h1.0M288.9 155.5h1.0M286.0 152.1h1.0M287.6 153.7h1.0M292.3 148.3h1.0M287.2 156.3h1.0M344.5 160.5h1.0M301.1 142.3h1.0M287.8 154.3h1.0M345.9 161.9h1.0M307.8 133.4h1.0M291.2 151.9h1.0M287.5 154.7h1.0M311.0 138.5h1.0M302.6 144.2h1.0M288.3 152.9h1.0M290.0 153.9h1.0M287.9 154.0h1.0M334.4 120.7h1.0M311.8 136.8h1.0M323.8 130.4h1.0M283.2 152.9h1.0M301.6 139.4h1.0M346.1 164.0h1.0M288.9 152.4h1.0M292.5 151.9h1.0M292.8 154.4h1.0M287.4 156.0h1.0M287.9 151.8h1.0M288.5 150.9h1.0M289.0 155.1h1.0M299.4 139.2h1.0M304.3 145.8h1.0M288.3 153.1h1.0M295.3 142.0h1.0M283.9 153.3h1.0M290.0 153.1h1.0M334.4 121.8h1.0M286.2 155.2h1.0M287.5 151.8h1.0M289.6 153.1h1.0M288.1 153.8h1.0M285.3 151.4h1.0M289.0 156.1h1.0M286.8 155.7h1.0M286.5 153.1h1.0M333.4 120.9h1.0M287.8 153.0h1.0M300.6 138.0h1.0M293.8 146.0h1.0M291.6 152.6h1.0M289.7 150.5h1.0M289.3 152.0h1.0M286.0 157.2h1.0M306.9 139.5h1.0M290.4 153.8h1.0M343.8 163.2h1.0M291.2 156.1h1.0M346.2 162.2h1.0M297.9 143.4h1.0M290.1 145.0h1.0M288.4 155.6h1.0M286.9 154.2h1.0M291.4 152.7h1.0M285.5 152.2h1.0M347.8 161.9h1.0M292.6 150.3h1.0M347.3 162.1h1.0M287.7 151.8h1.0M290.5 155.5h1.0M290.6 153.6h1.0M346.4 162.0h1.0M345.4 162.6h1.0M290.9 154.9h1.0M294.7 151.6h1.0M290.9 153.5h1.0M289.6 152.7h1.0M289.9 148.6h1.0M286.1 156.1h1.0M345.5 163.0h1.0M287.9 151.6h1.0" stroke="#1a5796" stroke-width="1.00"/>
<path d="M338.0 128.4h1.0M289.2 152.1h1.0M284.2 154.0h1.0M290.2 152.3h1.0M285.3 153.3h1.0M288.0 151.7h1.0M308.6 137.0h1.0M291.5 155.4h1.0M344.7 162.2h1.0M290.6 154.2h1.0M286.9 153.1h1.0M303.1 142.4h1.0M304.1 144.6h1.0M288.1 152.0h1.0M347.9 160.4h1.0M288.6 153.2h1.0M284.9 151.5h1.0M289.6 153.1h1.0M308.4 139.1h1.0M288.1 153.7h1.0M304.7 139.6h1.0M299.7 141.6h1.0M347.2 160.6h1.0M287.7 157.2h1.0M288.2 154.8h1.0M287.6 155.1h1.0M287.6 151.8h1.0M295.2 148.2h1.0M289.0 155.3h1.0M288.3 154.5h1.0M291.0 154.5h1.0M293.6 145.7h1.0M291.7 153.7h1.0M284.6 152.0h1.0M289.3 150.9h1.0M286.3 156.3h1.0M305.0 137.0h1.0M289.0 151.5h1.0M346.2 159.1h1.0M340.9 167.4h1.0M287.1 154.7h1.0M309.0 134.8h1.0M289.9 154.5h1.0M346.5 162.9h1.0M286.7 150.3h1.0M301.2 143.8h1.0M285.3 152.1h1.0M288.4 152.2h1.0M306.4 140.0h1.0M294.6 150.2h1.0M299.7 144.4h1.0M288.5 155.0h1.0M286.3 151.7h1.0M348.8 158.0h1.0M288.8 152.0h1.0M286.3 152.2h1.0M288.3 154.3h1.0M297.2 146.4h1.0M287.9 153.8h1.0M288.1 152.9h1.0M338.7 131.0h1.0M290.0 156.7h1.0M311.4 133.7h1.0M344.1 162.8h1.0M349.3 157.4h1.0M304.1 141.5h1.0M285.1 155.9h1.0M288.5 154.8h1.0M293.3 151.6h1.0M292.2 154.2h1.0M288.0 153.2h1.0M335.5 121.0h1.0M287.0 153.8h1.0M287.5 152.0h1.0M308.7 135.4h1.0M296.3 148.3h1.0M285.3 154.1h1.0M296.6 145.8h1.0M307.0 142.2h1.0M302.5 143.3h1.0M307.8 138.6h1.0M286.3 152.3h1.0M293.1 148.8h1.0M293.5 145.0h1.0M286.5 153.4h1.0M346.3 163.5h1.0M285.8 150.7h1.0M342.2 135.2h1.0M296.9 138.6h1.0M342.9 165.9h1.0M287.8 155.7h1.0M287.4 150.8h1.0M346.9 161.4h1.0M287.8 153.3h1.0M293.9 142.2h1.0M288.3 150.1h1.0M283.4 154.3h1.0M290.3 152.9h1.0M345.0 162.8h1.0M292.5 144.8h1.0M289.1 152.9h1.0M294.8 145.2h1.0M288.2 152.5h1.0M302.3 141.5h1.0M288.6 154.8h1.0M291.5 149.4h1.0M290.7 152.9h1.0M286.0 153.7h1.0M289.8 147.2h1.0M289.7 157.1h1.0M294.8 149.1h1.0M288.0 152.8h1.0M287.0 153.8h1.0M291.1 147.3h1.0M285.6 151.6h1.0M288.9 153.6h1.0M343.8 165.6h1.0" stroke="#1a5796" stroke-width="1.00"/>
<path d="M297.4 144.1h1.0M344.1 160.6h1.0M288.6 155.1h1.0M345.0 162.7h1.0M290.7 144.4h1.0M288.2 153.6h1.0M288.6 152.7h1.0M303.7 141.4h1.0M290.7 153.3h1.0M301.4 143.3h1.0M292.0 148.6h1.0M344.3 163.7h1.0M343.2 165.3h1.0M286.8 154.8h1.0M288.6 155.0h1.0M287.9 155.4h1.0M287.4 151.8h1.0M291.0 152.8h1.0M289.8 151.5h1.0M344.9 161.7h1.0M286.9 154.3h1.0M282.4 155.5h1.0M286.7 152.5h1.0M290.5 156.4h1.0M345.7 162.6h1.0M297.5 145.3h1.0M342.9 171.5h1.0M295.5 145.4h1.0M296.9 144.8h1.0M286.3 151.8h1.0M284.7 153.1h1.0M283.3 152.6h1.0M288.7 151.7h1.0M284.5 154.1h1.0M286.0 153.8h1.0M286.6 152.7h1.0M288.0 154.0h1.0M292.9 151.9h1.0M289.4 154.7h1.0M286.0 154.7h1.0M288.4 156.2h1.0M300.0 141.8h1.0M301.2 139.9h1.0M284.7 153.7h1.0M289.7 153.6h1.0M310.8 138.2h1.0M304.7 141.5h1.0M346.3 159.3h1.0M285.5 154.4h1.0M314.5 134.7h1.0M343.0 164.1h1.0M287.6 156.6h1.0M300.0 145.0h1.0M286.9 155.8h1.0M291.0 153.6h1.0M287.8 151.9h1.0M344.3 162.2h1.0M311.6 135.9h1.0M287.9 153.6h1.0M292.3 150.7h1.0M289.7 156.3h1.0M347.2 161.8h1.0M288.7 153.8h1.0M285.8 156.9h1.0M287.8 151.3h1.0M308.8 137.9h1.0M290.6 154.8h1.0M287.2 153.7h1.0M285.0 155.3h1.0M284.5 153.7h1.0M347.4 162.8h1.0M286.7 156.4h1.0M285.5 154.9h1.0M299.1 147.8h1.0M291.7 147.9h1.0M346.7 163.8h1.0M290.9 154.6h1.0M347.0 161.8h1.0M286.8 155.1h1.0M288.8 153.4h1.0M287.4 153.7h1.0M285.3 152.0h1.0M289.7 152.6h1.0M286.4 152.3h1.0M288.9 155.1h1.0M289.7 151.7h1.0M283.5 151.1h1.0M346.9 160.7h1.0M288.9 152.2h1.0M296.3 146.4h1.0M289.6 152.9h1.0M312.2 137.0h1.0M287.1 154.0h1.0M291.0 153.1h1.0M344.8 167.2h1.0M309.9 138.8h1.0M288.4 154.0h1.0M305.9 143.6h1.0M298.0 142.7h1.0M289.7 153.3h1.0M287.8 156.3h1.0M290.0 151.8h1.0M286.0 153.3h1.0M288.2 151.4h1.0M346.7 159.4h1.0M287.0 152.4h1.0M287.6 152.4h1.0M288.3 154.4h1.0M288.5 154.7h1.0M347.6 160.6h1.0M290.4 152.7h1.0" stroke="#1a5796" stroke-width="1.00"/>
<circle cx="336.20" cy="131.00" r="1.9" fill="#111"/><circle cx="336.20" cy="131.00" r="0.6" fill="#ccc"/>
<circle cx="345.75" cy="138.91" r="1.9" fill="#111"/><circle cx="345.75" cy="138.91" r="0.6" fill="#ccc"/>
<circle cx="349.85" cy="144.39" r="1.9" fill="#111"/><circle cx="349.85" cy="144.39" r="0.6" fill="#ccc"/>
<circle cx="351.35" cy="154.38" r="1.9" fill="#111"/><circle cx="351.35" cy="154.38" r="0.6" fill="#ccc"/>
<line x1="413.40" y1="114.20" x2="413.40" y2="178.50" stroke="#2b2b2b" stroke-width="1.2"/>
<line x1="412.80" y1="178.50" x2="513.00" y2="178.50" stroke="#2b2b2b" stroke-width="1.2"/>
<line x1="410.30" y1="124.10" x2="413.40" y2="124.10" stroke="#2b2b2b" stroke-width="1.0"/>
<text x="403.78" y="126.60" font-size="7.96" fill="#1a1a1a" stroke="#1a1a1a" stroke-width="0.22">2</text>
<line x1="410.30" y1="143.70" x2="413.40" y2="143.70" stroke="#2b2b2b" stroke-width="1.0"/>
<text x="403.68" y="146.20" font-size="7.96" fill="#1a1a1a" stroke="#1a1a1a" stroke-width="0.22">0</text>
<line x1="410.30" y1="163.60" x2="413.40" y2="163.60" stroke="#2b2b2b" stroke-width="1.0"/>
<text x="399.13" y="166.10" font-size="7.96" fill="#1a1a1a" stroke="#1a1a1a" stroke-width="0.22">−2</text>
<line x1="414.30" y1="178.50" x2="414.30" y2="181.50" stroke="#2b2b2b" stroke-width="1.0"/>
<text x="407.16" y="190.00" font-size="7.67" fill="#1a1a1a" stroke="#1a1a1a" stroke-width="0.22">−6</text>
<line x1="440.00" y1="178.50" x2="440.00" y2="181.50" stroke="#2b2b2b" stroke-width="1.0"/>
<text x="432.91" y="190.00" font-size="7.67" fill="#1a1a1a" stroke="#1a1a1a" stroke-width="0.22">−3</text>
<line x1="466.80" y1="178.50" x2="466.80" y2="181.50" stroke="#2b2b2b" stroke-width="1.0"/>
<text x="464.16" y="190.00" font-size="7.67" fill="#1a1a1a" stroke="#1a1a1a" stroke-width="0.22">0</text>
<line x1="493.50" y1="178.50" x2="493.50" y2="181.50" stroke="#2b2b2b" stroke-width="1.0"/>
<text x="490.89" y="190.00" font-size="7.67" fill="#1a1a1a" stroke="#1a1a1a" stroke-width="0.22">3</text>
<text x="445.22" y="202.40" font-size="9.25" fill="#111" font-weight="bold" textLength="36.19" lengthAdjust="spacingAndGlyphs">Component 1</text>
<text x="0" y="0" font-size="9.61" fill="#111" font-weight="bold" textLength="37.17" lengthAdjust="spacingAndGlyphs" transform="translate(396.15 165.43) rotate(-90)">Component 2</text>
<text x="416.78" y="124.30" font-size="7.24" fill="#1a1a1a" stroke="#1a1a1a" stroke-width="0.22" textLength="29.47" lengthAdjust="spacingAndGlyphs">Cluster 5</text>
<path d="M426.45 150.33 L427.97 149.28 L429.49 148.24 L431.02 147.21 L432.54 146.18 L434.06 145.16 L435.58 144.16 L437.11 143.17 L438.63 142.20 L440.15 141.25 L441.67 140.32 L443.20 139.42 L444.72 138.55 L446.24 137.71 L447.76 136.90 L449.29 136.12 L450.81 135.39 L452.33 134.69 L453.85 134.04 L455.38 133.43 L456.90 132.87 L458.42 132.36 L459.94 131.91 L461.47 131.50 L462.99 131.16 L464.51 130.88 L466.03 130.66 L467.56 130.50 L469.08 130.41 L470.60 130.39" fill="none" stroke="#2a2a2a" stroke-width="0.8"/>
<path d="M470.60 130.30 L470.50 124.00" fill="none" stroke="#2a2a2a" stroke-width="0.8"/>
<path d="M470.60 130.30 L480.15 138.21 L484.25 143.69 L485.75 153.68" fill="none" stroke="#2a2a2a" stroke-width="0.8"/>
<path d="M484.25 143.69 L496.95 141.26" fill="none" stroke="#2a2a2a" stroke-width="0.8"/>
<path d="M485.75 153.68 L481.60 161.34" fill="none" stroke="#2a2a2a" stroke-width="0.8"/>
<path d="M485.75 153.68 L492.70 163.04" fill="none" stroke="#2a2a2a" stroke-width="0.8"/>
<path d="M462.3 128.5h1.0M490.2 142.1h1.0M437.5 141.5h1.0M445.5 133.6h1.0M499.4 137.7h1.0M501.6 139.3h1.0M471.0 120.8h1.0M447.2 131.3h1.0M481.4 159.9h1.0M499.4 137.5h1.0M493.4 142.0h1.0M500.3 136.8h1.0M498.9 141.3h1.0M480.8 134.7h1.0M485.5 154.9h1.0M503.8 138.2h1.0M493.3 164.1h1.0M486.0 142.5h1.0M469.7 119.8h1.0M470.8 120.2h1.0M467.1 120.8h1.0M479.2 163.6h1.0M447.2 139.1h1.0M501.0 142.8h1.0M484.4 151.8h1.0M500.0 138.5h1.0M500.6 141.4h1.0M501.5 139.8h1.0M470.3 120.5h1.0M448.9 131.8h1.0M467.1 119.5h1.0M444.4 140.4h1.0M469.4 119.0h1.0M484.2 148.1h1.0M471.7 118.2h1.0M503.9 140.9h1.0M501.9 142.0h1.0M440.3 140.0h1.0M426.0 143.1h1.0M497.4 136.8h1.0M501.3 143.4h1.0M500.6 138.0h1.0M501.4 138.0h1.0M494.5 141.3h1.0M470.1 119.6h1.0M496.0 141.3h1.0M502.2 135.2h1.0M500.3 137.8h1.0M446.3 135.0h1.0M503.2 142.3h1.0M469.5 121.1h1.0M498.7 141.7h1.0M486.5 156.7h1.0M492.3 171.1h1.0M480.1 161.3h1.0M476.2 136.3h1.0M441.7 140.0h1.0M477.9 132.6h1.0M499.0 138.3h1.0M459.7 128.8h1.0M500.6 137.3h1.0M468.9 119.4h1.0M500.5 137.6h1.0M499.6 138.0h1.0M498.4 137.1h1.0M502.2 143.2h1.0M469.2 118.6h1.0M481.1 136.9h1.0M471.7 118.5h1.0M454.3 130.9h1.0M471.7 121.9h1.0M500.1 138.7h1.0M492.9 165.4h1.0M500.9 138.1h1.0M469.1 117.8h1.0M492.4 165.8h1.0M448.9 140.0h1.0M476.9 164.3h1.0M502.8 139.9h1.0M479.4 161.0h1.0M500.3 141.6h1.0M467.5 119.3h1.0M428.8 146.7h1.0M481.3 134.3h1.0M497.5 142.1h1.0M481.1 136.6h1.0M468.6 119.0h1.0M482.0 134.4h1.0M500.4 139.1h1.0M493.1 141.0h1.0M502.2 139.3h1.0M500.6 143.2h1.0M501.5 143.0h1.0" stroke="#cc1538" stroke-width="1.00"/>
<path d="M496.2 140.9h1.0M501.2 137.8h1.0M500.9 138.3h1.0M499.2 142.5h1.0M499.4 136.2h1.0M469.2 122.9h1.0M440.7 140.2h1.0M481.6 135.3h1.0M469.3 120.7h1.0M468.2 120.7h1.0M444.1 134.5h1.0M495.8 141.5h1.0M494.3 165.5h1.0M447.0 133.2h1.0M501.6 141.6h1.0M491.5 165.8h1.0M501.5 139.3h1.0M493.0 141.7h1.0M448.5 136.8h1.0M471.0 117.2h1.0M500.5 137.9h1.0M499.6 136.1h1.0M501.7 136.7h1.0M483.4 146.5h1.0M498.4 136.0h1.0M446.6 132.4h1.0M483.9 144.4h1.0M438.6 144.8h1.0M501.5 137.5h1.0M500.9 141.2h1.0M493.5 166.5h1.0M502.8 137.3h1.0M500.1 140.0h1.0M472.2 128.8h1.0M490.8 166.9h1.0M447.5 132.8h1.0M502.5 144.0h1.0M503.2 139.9h1.0M479.7 159.0h1.0M479.7 162.8h1.0M480.0 165.5h1.0M500.6 137.6h1.0M447.2 133.2h1.0M482.8 158.2h1.0M499.6 140.2h1.0M499.9 136.7h1.0M447.3 133.2h1.0M501.3 138.4h1.0M475.7 135.0h1.0M481.9 134.6h1.0M489.1 142.9h1.0M487.2 156.6h1.0M468.7 119.9h1.0M502.2 137.9h1.0M431.4 146.8h1.0M479.4 137.9h1.0M452.9 132.1h1.0M483.5 144.2h1.0M497.4 172.5h1.0M437.8 141.0h1.0M429.0 149.3h1.0M469.5 119.8h1.0M506.7 139.7h1.0M469.6 118.7h1.0M487.3 156.9h1.0M471.2 118.9h1.0M447.8 134.3h1.0M497.7 138.1h1.0M442.1 137.5h1.0M501.4 139.0h1.0M472.2 119.0h1.0M480.0 162.8h1.0M485.7 150.5h1.0M501.9 137.7h1.0M488.2 141.9h1.0M492.2 166.8h1.0M500.8 138.3h1.0M483.7 143.2h1.0M498.2 142.2h1.0M501.9 138.7h1.0M470.2 118.7h1.0M437.1 141.4h1.0M483.7 145.7h1.0M503.0 138.9h1.0M440.1 140.1h1.0M481.5 134.8h1.0M469.8 122.6h1.0M501.5 139.1h1.0M467.9 120.2h1.0M498.7 137.6h1.0M444.1 137.8h1.0M501.9 138.9h1.0M469.4 121.0h1.0M479.9 159.0h1.0M421.0 150.1h1.0M499.4 138.8h1.0M497.6 139.1h1.0M498.4 138.4h1.0M447.0 133.1h1.0M498.9 142.0h1.0M497.6 142.3h1.0" stroke="#cc1538" stroke-width="1.00"/>
<path d="M480.9 134.9h1.0M446.0 131.0h1.0M496.4 174.9h1.0M482.0 133.5h1.0M470.7 127.9h1.0M502.6 141.7h1.0M501.0 138.8h1.0M469.4 119.5h1.0M487.9 142.6h1.0M454.2 131.4h1.0M471.6 120.6h1.0M470.7 124.8h1.0M497.9 137.9h1.0M491.1 160.6h1.0M478.7 133.7h1.0M444.8 139.5h1.0M492.0 163.2h1.0M462.0 128.2h1.0M432.8 142.7h1.0M501.5 137.4h1.0M500.5 138.4h1.0M489.2 166.1h1.0M507.0 137.8h1.0M484.6 146.6h1.0M480.6 136.7h1.0M499.1 139.4h1.0M501.6 138.6h1.0M501.8 140.2h1.0M437.1 144.2h1.0M469.4 122.5h1.0M468.9 115.9h1.0M498.9 142.9h1.0M499.6 138.6h1.0M491.9 164.3h1.0M493.1 167.2h1.0M500.9 139.0h1.0M484.4 149.2h1.0M494.5 169.1h1.0M471.0 119.8h1.0M501.4 135.4h1.0M499.9 138.9h1.0M471.6 120.8h1.0M476.5 132.9h1.0M446.8 135.4h1.0M485.2 152.7h1.0M480.7 164.1h1.0M471.0 127.2h1.0M492.0 161.9h1.0M495.2 167.7h1.0M499.2 138.3h1.0M497.1 170.2h1.0M480.4 136.8h1.0M500.5 138.0h1.0M496.2 142.0h1.0M499.3 141.1h1.0M446.9 133.5h1.0M499.9 145.2h1.0M500.8 137.1h1.0M480.9 161.0h1.0M500.1 137.4h1.0M495.1 168.6h1.0M475.3 132.3h1.0M467.7 120.8h1.0M433.6 140.9h1.0M499.5 137.7h1.0M481.3 135.1h1.0M492.6 171.2h1.0M477.8 134.5h1.0M498.7 139.2h1.0M496.7 139.3h1.0M502.6 136.7h1.0M482.8 133.4h1.0M470.6 122.1h1.0M469.7 117.9h1.0M471.0 121.3h1.0M503.0 134.7h1.0M437.9 137.8h1.0M500.5 141.4h1.0M449.0 133.2h1.0M503.2 138.7h1.0M491.6 141.7h1.0M503.5 140.4h1.0M496.7 137.8h1.0M483.1 134.2h1.0M471.9 120.1h1.0M500.7 170.3h1.0M454.0 130.1h1.0M500.2 139.9h1.0M481.2 135.2h1.0M498.0 138.1h1.0M484.7 142.0h1.0M500.3 141.6h1.0M500.8 139.6h1.0M502.8 138.6h1.0M500.4 140.7h1.0M450.5 134.2h1.0M490.7 160.2h1.0M504.1 140.1h1.0M502.5 141.1h1.0M447.6 133.5h1.0M470.1 119.8h1.0M499.6 137.7h1.0M460.5 128.9h1.0M492.6 141.8h1.0M446.8 131.6h1.0M443.6 135.6h1.0M485.1 152.9h1.0M505.0 142.1h1.0M453.6 131.0h1.0M483.0 133.1h1.0M500.7 138.3h1.0M467.3 123.1h1.0M438.4 138.4h1.0M496.9 136.1h1.0M496.6 140.4h1.0" stroke="#cc1538" stroke-width="1.00"/>
<circle cx="470.60" cy="130.30" r="1.9" fill="#111"/><circle cx="470.60" cy="130.30" r="0.6" fill="#ccc"/>
<circle cx="480.15" cy="138.21" r="1.9" fill="#111"/><circle cx="480.15" cy="138.21" r="0.6" fill="#ccc"/>
<circle cx="484.25" cy="143.69" r="1.9" fill="#111"/><circle cx="484.25" cy="143.69" r="0.6" fill="#ccc"/>
<circle cx="485.75" cy="153.68" r="1.9" fill="#111"/><circle cx="485.75" cy="153.68" r="0.6" fill="#ccc"/>
<text x="269.30" y="225.70" font-size="11.13" fill="#000" font-weight="bold" textLength="8.02" lengthAdjust="spacingAndGlyphs">D</text>
<line x1="300.70" y1="242.40" x2="300.70" y2="362.40" stroke="#2b2b2b" stroke-width="1.2"/>
<line x1="300.10" y1="362.40" x2="492.20" y2="362.40" stroke="#2b2b2b" stroke-width="1.2"/>
<line x1="297.70" y1="362.40" x2="300.70" y2="362.40" stroke="#2b2b2b" stroke-width="1.0"/>
<text x="290.73" y="364.90" font-size="7.10" fill="#1a1a1a" stroke="#1a1a1a" stroke-width="0.22">0</text>
<line x1="297.70" y1="339.30" x2="300.70" y2="339.30" stroke="#2b2b2b" stroke-width="1.0"/>
<text x="286.79" y="341.80" font-size="7.10" fill="#1a1a1a" stroke="#1a1a1a" stroke-width="0.22">20</text>
<line x1="297.70" y1="316.20" x2="300.70" y2="316.20" stroke="#2b2b2b" stroke-width="1.0"/>
<text x="286.79" y="318.70" font-size="7.10" fill="#1a1a1a" stroke="#1a1a1a" stroke-width="0.22">40</text>
<line x1="297.70" y1="293.10" x2="300.70" y2="293.10" stroke="#2b2b2b" stroke-width="1.0"/>
<text x="286.79" y="295.60" font-size="7.10" fill="#1a1a1a" stroke="#1a1a1a" stroke-width="0.22">60</text>
<line x1="297.70" y1="270.00" x2="300.70" y2="270.00" stroke="#2b2b2b" stroke-width="1.0"/>
<text x="286.79" y="272.50" font-size="7.10" fill="#1a1a1a" stroke="#1a1a1a" stroke-width="0.22">80</text>
<line x1="297.70" y1="246.90" x2="300.70" y2="246.90" stroke="#2b2b2b" stroke-width="1.0"/>
<text x="282.83" y="249.40" font-size="7.10" fill="#1a1a1a" stroke="#1a1a1a" stroke-width="0.22">100</text>
<line x1="348.60" y1="245.30" x2="348.60" y2="362.40" stroke="#333" stroke-width="0.9"/>
<line x1="396.60" y1="245.30" x2="396.60" y2="362.40" stroke="#333" stroke-width="0.9"/>
<line x1="444.60" y1="245.30" x2="444.60" y2="362.40" stroke="#333" stroke-width="0.9"/>
<text x="0" y="0" font-size="8.76" fill="#111" font-weight="bold" textLength="79.94" lengthAdjust="spacingAndGlyphs" transform="translate(276.00 342.10) rotate(-90)">% of cells in monocole state</text>
<rect x="303.40" y="318.16" width="4.72" height="44.24" fill="#8aaccc"/>
<rect x="308.12" y="349.35" width="4.72" height="13.05" fill="#1b4f8a"/>
<rect x="312.84" y="352.00" width="4.72" height="10.39" fill="#9ad89a"/>
<rect x="322.28" y="352.47" width="4.72" height="9.93" fill="#e48aa0"/>
<rect x="327.00" y="358.70" width="4.72" height="3.70" fill="#c8102e"/>
<rect x="331.72" y="359.40" width="4.72" height="3.00" fill="#fbbf77"/>
<rect x="336.44" y="361.25" width="4.72" height="1.16" fill="#f98a0e"/>
<rect x="341.16" y="333.52" width="4.72" height="28.88" fill="#a98fc4"/>
<line x1="324.40" y1="362.40" x2="324.40" y2="365.00" stroke="#2b2b2b" stroke-width="0.9"/>
<text x="309.12" y="373.80" font-size="7.38" fill="#1a1a1a" stroke="#1a1a1a" stroke-width="0.22" textLength="30.58" lengthAdjust="spacingAndGlyphs">Cluster 2</text>
<rect x="353.30" y="359.51" width="4.72" height="2.89" fill="#8aaccc"/>
<rect x="358.02" y="361.25" width="4.72" height="1.16" fill="#1b4f8a"/>
<rect x="372.18" y="345.07" width="4.72" height="17.32" fill="#e48aa0"/>
<rect x="376.90" y="361.25" width="4.72" height="1.16" fill="#c8102e"/>
<rect x="381.62" y="327.17" width="4.72" height="35.23" fill="#fbbf77"/>
<rect x="386.34" y="306.15" width="4.72" height="56.25" fill="#f98a0e"/>
<line x1="372.40" y1="362.40" x2="372.40" y2="365.00" stroke="#2b2b2b" stroke-width="0.9"/>
<text x="357.12" y="373.80" font-size="7.38" fill="#1a1a1a" stroke="#1a1a1a" stroke-width="0.22" textLength="30.52" lengthAdjust="spacingAndGlyphs">Cluster 3</text>
<rect x="398.80" y="262.49" width="4.72" height="99.91" fill="#8aaccc"/>
<rect x="403.52" y="361.59" width="4.72" height="0.81" fill="#1b4f8a"/>
<rect x="417.68" y="362.05" width="4.72" height="0.35" fill="#e48aa0"/>
<rect x="422.40" y="361.82" width="4.72" height="0.58" fill="#c8102e"/>
<rect x="427.12" y="351.77" width="4.72" height="10.63" fill="#fbbf77"/>
<line x1="419.90" y1="362.40" x2="419.90" y2="365.00" stroke="#2b2b2b" stroke-width="0.9"/>
<text x="404.62" y="373.80" font-size="7.38" fill="#1a1a1a" stroke="#1a1a1a" stroke-width="0.22" textLength="30.40" lengthAdjust="spacingAndGlyphs">Cluster 4</text>
<rect x="446.50" y="334.91" width="4.72" height="27.49" fill="#8aaccc"/>
<rect x="451.22" y="353.62" width="4.72" height="8.78" fill="#1b4f8a"/>
<rect x="455.94" y="348.42" width="4.72" height="13.98" fill="#9ad89a"/>
<rect x="465.38" y="322.44" width="4.72" height="39.96" fill="#e48aa0"/>
<rect x="470.10" y="359.17" width="4.72" height="3.23" fill="#c8102e"/>
<rect x="474.82" y="360.55" width="4.72" height="1.85" fill="#fbbf77"/>
<rect x="479.54" y="358.47" width="4.72" height="3.93" fill="#f98a0e"/>
<rect x="484.26" y="348.08" width="4.72" height="14.32" fill="#a98fc4"/>
<line x1="467.90" y1="362.40" x2="467.90" y2="365.00" stroke="#2b2b2b" stroke-width="0.9"/>
<text x="452.62" y="373.80" font-size="7.38" fill="#1a1a1a" stroke="#1a1a1a" stroke-width="0.22" textLength="30.50" lengthAdjust="spacingAndGlyphs">Cluster 5</text>
<line x1="300.00" y1="362.40" x2="492.20" y2="362.40" stroke="#2b2b2b" stroke-width="1.2"/>
<text x="450.41" y="251.30" font-size="7.53" fill="#1a1a1a" stroke="#1a1a1a" stroke-width="0.22" textLength="34.58" lengthAdjust="spacingAndGlyphs">p=0.0005</text>
<text x="6.83" y="413.70" font-size="11.42" fill="#000" font-weight="bold" textLength="7.15" lengthAdjust="spacingAndGlyphs">E</text>
<path d="M36.8 471.2h1.3M58.5 467.3h1.3M100.2 513.8h1.3M46.5 468.9h1.3M64.2 522.4h1.3M63.9 527.5h1.3M56.2 502.1h1.3M60.2 509.7h1.3M43.1 465.3h1.3M62.6 464.3h1.3M41.0 467.2h1.3M58.8 447.4h1.3M40.3 464.7h1.3M39.3 474.5h1.3M63.3 507.7h1.3M50.5 461.5h1.3M64.0 522.4h1.3M63.2 519.8h1.3M33.6 468.8h1.3M30.3 468.9h1.3M25.8 482.0h1.3M33.6 464.9h1.3M64.0 516.0h1.3M108.7 469.6h1.3M53.6 467.6h1.3M42.3 465.7h1.3M33.2 465.2h1.3M48.8 455.4h1.3M45.2 477.1h1.3M29.0 463.0h1.3M49.4 503.2h1.3M40.2 458.9h1.3M48.6 464.9h1.3M42.6 456.1h1.3M64.6 509.9h1.3M51.0 473.7h1.3M55.3 471.2h1.3M57.4 473.7h1.3M52.0 472.1h1.3M57.1 474.3h1.3M49.1 467.1h1.3M106.9 476.6h1.3M51.5 475.1h1.3M38.5 458.0h1.3M90.1 519.2h1.3M82.3 521.5h1.3M85.5 467.4h1.3M95.2 506.2h1.3M106.6 475.3h1.3M39.2 465.7h1.3M51.5 457.5h1.3M32.3 469.0h1.3M58.2 459.5h1.3M102.2 510.4h1.3M71.8 531.0h1.3M92.7 456.0h1.3M46.3 464.7h1.3M63.0 523.5h1.3M36.0 456.0h1.3M105.9 453.1h1.3M55.7 463.1h1.3M61.8 515.4h1.3M85.4 500.8h1.3M57.6 504.2h1.3M75.6 536.0h1.3M63.2 507.6h1.3M47.9 463.4h1.3M107.1 457.0h1.3M102.2 452.2h1.3M47.9 461.9h1.3M46.9 461.1h1.3M52.9 471.2h1.3M40.6 458.9h1.3M52.1 468.3h1.3M61.4 506.4h1.3M59.9 463.7h1.3M44.7 470.6h1.3M65.3 519.0h1.3M43.4 462.2h1.3" stroke="#505050" stroke-width="1.3"/>
<path d="M58.8 486.5h1.3M65.1 465.6h1.3M77.7 496.4h1.3M79.9 533.7h1.3M90.4 512.4h1.3M60.9 512.0h1.3M83.9 488.9h1.3M84.4 498.3h1.3M94.7 518.2h1.3M80.1 520.4h1.3M63.0 488.1h1.3M63.1 470.7h1.3M89.0 485.3h1.3M73.7 519.5h1.3M85.8 525.0h1.3M83.0 522.3h1.3M91.7 465.3h1.3M72.7 496.9h1.3M74.6 475.7h1.3M65.6 489.4h1.3M76.6 522.1h1.3M87.5 481.9h1.3M95.1 520.6h1.3M90.2 487.8h1.3M82.3 479.8h1.3M64.4 521.6h1.3M75.6 508.5h1.3M64.0 459.3h1.3M66.8 506.2h1.3M79.7 477.1h1.3M90.1 469.4h1.3M76.7 486.9h1.3M89.7 477.2h1.3M75.4 509.2h1.3M80.4 480.4h1.3M87.3 457.8h1.3M92.6 469.9h1.3M75.5 488.8h1.3M111.3 484.8h1.3M63.9 480.2h1.3M90.2 466.9h1.3M87.3 510.7h1.3M69.0 529.9h1.3M65.6 460.7h1.3M58.8 485.3h1.3M92.2 472.8h1.3M103.2 465.6h1.3M78.5 463.5h1.3M83.2 531.6h1.3M61.8 487.8h1.3M79.1 526.2h1.3M70.9 474.5h1.3M80.2 463.5h1.3M54.9 470.9h1.3M95.6 532.8h1.3M66.2 463.8h1.3M85.7 477.7h1.3M80.0 521.1h1.3M86.4 451.2h1.3M71.5 483.9h1.3M76.7 479.7h1.3M77.9 490.4h1.3M89.9 489.7h1.3M91.7 482.6h1.3M86.8 523.3h1.3M83.7 472.8h1.3M94.5 506.7h1.3M75.8 484.4h1.3M59.2 457.5h1.3M89.1 519.7h1.3M56.2 497.8h1.3M95.1 475.5h1.3M94.8 537.0h1.3M79.6 503.0h1.3M96.7 492.8h1.3M83.5 521.9h1.3M66.9 499.1h1.3M78.4 489.8h1.3M87.9 465.1h1.3M82.1 521.0h1.3M81.2 516.1h1.3M83.2 510.4h1.3M102.1 484.4h1.3M54.1 478.2h1.3M91.8 491.1h1.3M75.4 532.1h1.3M94.5 458.6h1.3M79.8 500.0h1.3M73.2 507.4h1.3M85.9 474.3h1.3M77.0 533.1h1.3M65.0 486.2h1.3M73.4 489.2h1.3M87.5 479.4h1.3M74.5 536.0h1.3M93.6 491.9h1.3M80.2 487.0h1.3M85.1 489.8h1.3M89.7 501.2h1.3M95.1 492.8h1.3M76.5 525.5h1.3M60.5 521.9h1.3M67.4 484.5h1.3M71.3 475.1h1.3M99.5 462.6h1.3M88.2 490.7h1.3M77.5 521.9h1.3M76.2 490.2h1.3M85.6 467.4h1.3M92.1 511.9h1.3M80.7 491.3h1.3M104.0 486.0h1.3M76.3 493.5h1.3M84.1 495.6h1.3M85.3 490.1h1.3M68.5 484.9h1.3M93.0 468.9h1.3M78.6 513.9h1.3M74.7 497.3h1.3M56.4 456.1h1.3M83.5 528.5h1.3M101.4 481.1h1.3M67.0 463.7h1.3M76.5 491.7h1.3M98.1 514.6h1.3M92.0 489.9h1.3M81.7 486.7h1.3M87.2 520.3h1.3M82.3 518.5h1.3M94.2 477.3h1.3M88.8 498.3h1.3M84.8 469.2h1.3M76.2 468.4h1.3M97.9 456.6h1.3M65.8 468.6h1.3M85.9 482.7h1.3M72.9 467.0h1.3M91.7 512.4h1.3M80.0 527.6h1.3M66.3 478.3h1.3M92.2 475.6h1.3M59.3 466.4h1.3M65.3 489.8h1.3M93.3 524.6h1.3M81.2 532.2h1.3M74.0 526.2h1.3M90.0 527.3h1.3M75.7 488.6h1.3M67.2 479.3h1.3M96.5 488.5h1.3M92.3 517.5h1.3M79.2 485.9h1.3M63.9 466.3h1.3M68.4 473.1h1.3M72.1 467.6h1.3M89.5 481.8h1.3M76.3 470.8h1.3M94.2 529.1h1.3M88.8 529.4h1.3M100.9 463.9h1.3M84.3 521.7h1.3M91.6 484.5h1.3M85.9 475.3h1.3M74.7 477.4h1.3M69.3 488.2h1.3M83.8 460.2h1.3M74.1 475.8h1.3M95.3 468.7h1.3M77.8 487.1h1.3M66.8 472.8h1.3M93.1 527.8h1.3M69.8 529.2h1.3M94.4 481.3h1.3M68.0 483.4h1.3M96.5 466.0h1.3M73.1 487.6h1.3M62.6 527.5h1.3M92.2 479.0h1.3M83.8 477.1h1.3" stroke="#38b44c" stroke-width="1.3"/>
<path d="M98.5 453.4h1.3M91.2 436.8h1.3M73.8 443.5h1.3M65.7 443.2h1.3M93.3 460.8h1.3M101.4 496.7h1.3M100.5 500.8h1.3M98.2 444.9h1.3M93.7 525.9h1.3M61.4 438.7h1.3M79.4 435.9h1.3M75.7 440.8h1.3M106.3 503.1h1.3M88.4 436.9h1.3M102.1 444.7h1.3M83.7 441.5h1.3M45.0 468.4h1.3M67.6 440.4h1.3M83.0 484.0h1.3M86.9 442.1h1.3M93.9 456.9h1.3M87.5 511.2h1.3M120.2 494.7h1.3M80.3 503.9h1.3M108.6 514.4h1.3M91.8 456.1h1.3M83.7 441.0h1.3M119.6 496.4h1.3M53.7 452.5h1.3M58.8 449.6h1.3M114.4 496.5h1.3M90.7 443.6h1.3M81.8 444.9h1.3M70.8 443.3h1.3M74.6 513.0h1.3M90.3 538.9h1.3M95.0 441.6h1.3M93.4 439.0h1.3M113.5 505.6h1.3M74.6 533.7h1.3M89.0 510.7h1.3M62.4 440.7h1.3M88.2 444.4h1.3M97.6 451.1h1.3M86.5 436.6h1.3M94.3 449.5h1.3M87.5 445.1h1.3M88.6 445.6h1.3M103.6 447.9h1.3M57.6 443.9h1.3M93.0 443.9h1.3M88.5 445.8h1.3M65.5 440.9h1.3M96.5 448.3h1.3M55.9 447.2h1.3M44.2 492.6h1.3M102.3 513.3h1.3M93.2 460.5h1.3M96.4 444.3h1.3M77.8 440.7h1.3M79.7 447.1h1.3M62.8 444.8h1.3M70.3 445.0h1.3M49.7 509.7h1.3M87.1 458.6h1.3M53.3 447.8h1.3M98.9 450.7h1.3M56.3 451.6h1.3M68.0 441.9h1.3M87.1 527.0h1.3M76.7 472.1h1.3M53.7 443.1h1.3M56.4 450.4h1.3M93.1 440.6h1.3M100.9 504.4h1.3M50.9 442.0h1.3M64.6 450.2h1.3M100.5 494.4h1.3M85.6 444.2h1.3M43.0 506.6h1.3M89.0 437.2h1.3M84.7 443.4h1.3M117.9 499.0h1.3M113.1 502.2h1.3M67.3 438.2h1.3M101.1 506.9h1.3M84.1 443.3h1.3M85.5 441.4h1.3M98.3 461.8h1.3M95.5 447.2h1.3M87.6 444.4h1.3M53.2 464.0h1.3M87.5 447.7h1.3M90.0 506.3h1.3" stroke="#1a5696" stroke-width="1.3"/>
<path d="M65.3 520.7h1.3M57.2 455.3h1.3M92.0 449.1h1.3M102.9 479.4h1.3M104.5 494.9h1.3M74.0 514.3h1.3M44.7 499.7h1.3M104.2 482.8h1.3M43.2 503.9h1.3M85.8 529.5h1.3M105.2 498.6h1.3M98.2 487.6h1.3M75.7 494.9h1.3M52.6 495.0h1.3M92.1 477.7h1.3M111.8 478.3h1.3M68.0 437.8h1.3M74.5 443.7h1.3M42.1 503.3h1.3M47.6 504.6h1.3M80.5 512.1h1.3M32.6 485.2h1.3M57.1 495.8h1.3M37.7 486.6h1.3M60.4 502.6h1.3M84.1 477.6h1.3M78.6 462.6h1.3M44.9 500.4h1.3M99.5 484.6h1.3M50.3 501.5h1.3M104.5 474.5h1.3M102.7 485.3h1.3M102.0 489.1h1.3M103.3 495.3h1.3M78.3 483.8h1.3M107.6 510.7h1.3M47.1 510.4h1.3M104.7 485.7h1.3M30.7 489.9h1.3M53.8 503.2h1.3M100.4 491.3h1.3M51.4 479.0h1.3M94.6 492.1h1.3M91.3 530.1h1.3M77.0 467.7h1.3M102.9 485.0h1.3M118.5 506.0h1.3M38.0 507.0h1.3M54.0 504.9h1.3M65.2 442.8h1.3M98.9 475.6h1.3M46.9 456.4h1.3M105.6 480.4h1.3M52.3 506.9h1.3M38.5 506.6h1.3M49.2 447.5h1.3M98.7 453.4h1.3M120.6 511.1h1.3M109.0 485.9h1.3M101.9 489.3h1.3M102.8 490.3h1.3M102.9 484.4h1.3M51.8 465.0h1.3M121.6 498.4h1.3M54.4 497.3h1.3M107.1 507.9h1.3M30.9 497.8h1.3M38.8 505.6h1.3M95.3 488.8h1.3M47.6 499.2h1.3M101.0 481.8h1.3M106.9 477.9h1.3" stroke="#cc1538" stroke-width="1.3"/>
<path d="M61.7 466.2h1.3M59.8 503.1h1.3M72.0 516.5h1.3M70.7 468.6h1.3M74.8 520.1h1.3M63.3 461.9h1.3M79.2 484.4h1.3M75.4 496.4h1.3M94.5 485.2h1.3M86.9 520.7h1.3M59.1 487.2h1.3M76.5 478.1h1.3M76.4 516.0h1.3M67.7 490.7h1.3M98.1 499.2h1.3M85.8 494.0h1.3M105.6 479.6h1.3M85.5 479.4h1.3M80.9 495.9h1.3M69.5 495.4h1.3M71.3 473.7h1.3M65.7 495.1h1.3M67.1 481.2h1.3M88.0 515.7h1.3M73.2 495.7h1.3M84.7 479.4h1.3M90.1 524.9h1.3M96.5 493.4h1.3M80.9 531.3h1.3M80.0 472.7h1.3M81.6 523.8h1.3M79.3 507.4h1.3M92.2 500.0h1.3M74.6 524.2h1.3M64.7 487.2h1.3M62.2 527.2h1.3M85.0 476.0h1.3M79.9 486.1h1.3M68.0 471.3h1.3M67.3 471.2h1.3M73.2 479.7h1.3M64.9 475.3h1.3M85.5 492.0h1.3M91.6 477.1h1.3M65.4 473.2h1.3M80.1 478.6h1.3M83.9 481.8h1.3M51.5 489.6h1.3M92.6 470.1h1.3M68.6 489.2h1.3M91.8 492.8h1.3M89.3 498.4h1.3M83.5 467.3h1.3M87.6 522.2h1.3M61.5 523.1h1.3M63.6 466.8h1.3M81.0 521.5h1.3M87.8 480.1h1.3M66.0 476.3h1.3M86.3 473.0h1.3M74.8 481.9h1.3M78.8 491.5h1.3M86.4 480.0h1.3M85.7 471.7h1.3M69.9 480.5h1.3M76.9 499.7h1.3M56.7 490.3h1.3M72.3 522.0h1.3M77.3 496.2h1.3M67.6 473.9h1.3M70.2 523.8h1.3M77.0 522.7h1.3M76.2 473.6h1.3M56.8 464.1h1.3M67.4 534.3h1.3M72.0 502.9h1.3M58.8 488.3h1.3M83.6 476.3h1.3M91.3 526.8h1.3M90.6 491.8h1.3M69.2 517.8h1.3M81.6 483.9h1.3M89.3 471.6h1.3M71.3 493.4h1.3M73.7 495.8h1.3M69.2 483.2h1.3M78.2 485.4h1.3M70.9 510.2h1.3M88.2 487.0h1.3M79.1 493.2h1.3M72.4 504.5h1.3M70.2 488.9h1.3M81.0 478.2h1.3M98.1 463.8h1.3M77.5 495.9h1.3M79.9 501.7h1.3M80.0 486.2h1.3M76.3 535.3h1.3M75.3 536.1h1.3M89.0 460.7h1.3M72.1 469.4h1.3M74.8 517.4h1.3M61.1 485.0h1.3M94.7 481.3h1.3M70.4 511.8h1.3M90.2 514.8h1.3M90.0 476.4h1.3M76.9 485.8h1.3M76.4 521.4h1.3M74.9 476.6h1.3M73.5 478.8h1.3M85.6 485.2h1.3M86.2 499.4h1.3M70.1 486.9h1.3M83.4 457.5h1.3M87.0 486.3h1.3M69.9 535.6h1.3M72.7 483.2h1.3M103.6 479.1h1.3M100.2 502.3h1.3M82.0 510.2h1.3M61.0 469.7h1.3M98.8 484.5h1.3M83.6 481.6h1.3M71.5 525.9h1.3M63.6 464.0h1.3M71.5 492.0h1.3M81.8 472.8h1.3M58.8 477.8h1.3M95.4 529.8h1.3M84.1 530.9h1.3M74.0 517.9h1.3M80.1 481.9h1.3M75.3 459.7h1.3M69.2 491.2h1.3M66.4 480.6h1.3M89.6 524.3h1.3M83.7 488.6h1.3M81.4 531.0h1.3M70.6 491.6h1.3M71.8 499.3h1.3M58.9 495.6h1.3M65.7 525.3h1.3M66.2 497.4h1.3M90.9 526.8h1.3M78.3 487.9h1.3M74.9 501.2h1.3M94.4 481.2h1.3M92.9 486.3h1.3M78.2 476.6h1.3M79.7 470.2h1.3M83.7 486.4h1.3M97.3 522.7h1.3M84.8 533.6h1.3M68.3 522.6h1.3M84.6 488.6h1.3M81.8 475.0h1.3" stroke="#38b44c" stroke-width="1.3"/>
<path d="M61.9 510.8h1.3M40.3 458.5h1.3M37.2 458.0h1.3M48.3 461.5h1.3M59.1 475.0h1.3M38.9 463.7h1.3M61.1 446.2h1.3M28.4 460.5h1.3M41.6 496.9h1.3M56.6 509.7h1.3M55.8 467.9h1.3M88.3 489.1h1.3M66.0 528.5h1.3M57.0 483.7h1.3M103.8 450.8h1.3M52.4 465.6h1.3M48.9 475.5h1.3M39.7 473.1h1.3M32.3 463.1h1.3M45.7 466.5h1.3M62.8 523.1h1.3M58.8 520.2h1.3M46.3 462.1h1.3M52.3 467.8h1.3M53.5 497.6h1.3M54.8 462.9h1.3M38.6 469.0h1.3M40.6 458.4h1.3M81.0 451.6h1.3M42.9 475.8h1.3M57.9 474.4h1.3M44.9 475.6h1.3M63.8 458.7h1.3M36.5 455.5h1.3M66.6 506.9h1.3M79.7 533.8h1.3M43.1 467.5h1.3M63.7 518.6h1.3M41.1 462.8h1.3M38.0 462.8h1.3M39.2 457.3h1.3M75.6 444.8h1.3M53.1 464.5h1.3M124.1 503.6h1.3M67.7 514.1h1.3M52.8 472.4h1.3M41.9 472.2h1.3M60.5 529.6h1.3M52.1 504.1h1.3M65.4 509.8h1.3M43.2 463.5h1.3M108.7 483.9h1.3M38.6 466.2h1.3M37.7 459.8h1.3M108.1 477.5h1.3M48.3 462.2h1.3M31.0 468.7h1.3M42.1 476.4h1.3M63.4 470.1h1.3M61.4 485.3h1.3M37.0 468.1h1.3M39.1 466.4h1.3M42.7 463.5h1.3M61.2 509.9h1.3M52.3 472.9h1.3M45.3 469.6h1.3M64.3 523.4h1.3M74.7 524.0h1.3M83.0 449.3h1.3M49.3 468.5h1.3M37.2 466.8h1.3M44.3 468.8h1.3M33.3 469.5h1.3M45.9 476.0h1.3M40.4 509.8h1.3" stroke="#505050" stroke-width="1.3"/>
<path d="M85.9 448.7h1.3M54.5 447.9h1.3M87.9 516.9h1.3M73.7 439.8h1.3M58.6 518.4h1.3M82.8 439.7h1.3M99.5 530.2h1.3M72.7 443.5h1.3M51.6 486.7h1.3M107.3 508.7h1.3M88.0 439.4h1.3M56.4 451.3h1.3M66.3 448.4h1.3M63.4 444.7h1.3M74.8 500.1h1.3M92.3 440.7h1.3M88.5 458.9h1.3M102.7 500.8h1.3M71.5 444.2h1.3M89.3 438.5h1.3M111.8 499.6h1.3M100.0 457.7h1.3M96.3 459.7h1.3M81.3 515.2h1.3M89.2 438.9h1.3M59.4 450.3h1.3M78.6 474.2h1.3M90.3 450.0h1.3M62.3 437.8h1.3M88.3 446.2h1.3M82.3 442.1h1.3M97.2 451.0h1.3M110.1 480.0h1.3M80.9 451.6h1.3M58.5 465.1h1.3M82.0 437.0h1.3M91.4 455.1h1.3M77.9 442.6h1.3M86.4 441.7h1.3M63.5 438.9h1.3M58.5 443.0h1.3M84.4 437.6h1.3M91.0 442.9h1.3M91.2 444.3h1.3M87.1 443.9h1.3M90.1 453.7h1.3M100.7 444.5h1.3M68.0 506.3h1.3M82.6 445.2h1.3M67.8 456.5h1.3M40.6 473.4h1.3M73.2 443.5h1.3M66.2 452.1h1.3M110.6 504.9h1.3M62.8 441.9h1.3M106.3 494.6h1.3M80.3 514.0h1.3M91.2 463.8h1.3M100.8 443.3h1.3M83.8 437.8h1.3M65.2 447.2h1.3M66.1 443.4h1.3M59.5 446.9h1.3M81.5 441.1h1.3M51.7 507.4h1.3M71.6 500.9h1.3M76.4 448.0h1.3M75.6 501.7h1.3M100.6 439.6h1.3M25.8 474.6h1.3M58.5 443.9h1.3M114.8 502.5h1.3M72.9 445.9h1.3M59.4 442.6h1.3M46.9 494.3h1.3M106.0 510.0h1.3M86.3 515.7h1.3M58.9 471.9h1.3M112.9 497.1h1.3M52.0 451.6h1.3M67.0 474.8h1.3M82.9 438.3h1.3M91.6 454.6h1.3M81.5 445.1h1.3M74.6 509.5h1.3M102.7 456.1h1.3M95.2 456.5h1.3M84.0 440.8h1.3M88.5 447.6h1.3M59.6 444.1h1.3M68.2 436.9h1.3M90.4 514.6h1.3M106.2 507.5h1.3M73.3 440.7h1.3M88.3 452.1h1.3M65.6 441.6h1.3M49.0 497.5h1.3M53.4 438.7h1.3M97.1 510.8h1.3" stroke="#1a5696" stroke-width="1.3"/>
<path d="M53.8 506.9h1.3M79.4 502.7h1.3M77.0 534.8h1.3M34.0 489.0h1.3M36.4 490.0h1.3M54.7 497.0h1.3M122.6 507.0h1.3M46.7 499.7h1.3M42.1 505.4h1.3M76.8 470.5h1.3M57.9 490.7h1.3M55.0 499.4h1.3M52.0 502.0h1.3M118.7 488.0h1.3M90.7 514.7h1.3M44.2 502.7h1.3M118.9 505.4h1.3M45.7 498.4h1.3M73.0 493.4h1.3M31.2 493.4h1.3M114.7 499.5h1.3M50.5 506.6h1.3M52.2 503.4h1.3M46.1 498.7h1.3M49.0 487.5h1.3M49.1 477.3h1.3M33.1 493.9h1.3M111.9 498.2h1.3M53.8 504.0h1.3M104.8 495.1h1.3M98.2 493.0h1.3M120.9 506.1h1.3M86.0 524.0h1.3M44.4 463.2h1.3M43.2 500.3h1.3M41.0 508.1h1.3M69.7 534.8h1.3M47.2 504.4h1.3M46.5 498.4h1.3M122.3 506.0h1.3M92.2 530.3h1.3M109.4 481.0h1.3M64.4 437.5h1.3M83.1 512.6h1.3M34.6 491.8h1.3M104.2 492.6h1.3M51.1 503.2h1.3M52.6 504.8h1.3M109.3 487.4h1.3M60.9 472.7h1.3M53.3 502.1h1.3M82.4 492.7h1.3M45.6 499.7h1.3M90.2 530.6h1.3M112.3 485.6h1.3M58.9 505.4h1.3M102.9 480.9h1.3M45.2 504.3h1.3M122.1 510.0h1.3M89.1 468.6h1.3M100.5 484.9h1.3M55.3 504.3h1.3M89.5 499.6h1.3M89.1 452.2h1.3M88.9 445.5h1.3M100.9 482.7h1.3M37.8 501.4h1.3M94.6 454.0h1.3M58.9 442.7h1.3M92.8 454.2h1.3M121.5 512.3h1.3M43.1 497.9h1.3M99.5 491.7h1.3M70.0 485.4h1.3M114.6 505.1h1.3M94.4 494.9h1.3M103.4 484.7h1.3M49.7 501.3h1.3M33.1 485.1h1.3M97.3 535.2h1.3M47.7 501.3h1.3M60.4 507.9h1.3M78.4 482.2h1.3M32.3 492.1h1.3M52.7 499.0h1.3M84.9 536.0h1.3M60.1 491.5h1.3M103.4 492.4h1.3M111.3 509.6h1.3M30.5 474.7h1.3M50.5 496.2h1.3M87.3 477.3h1.3" stroke="#cc1538" stroke-width="1.3"/>
<path d="M97.0 513.6h1.3M68.4 471.1h1.3M62.6 476.3h1.3M83.9 479.0h1.3M65.3 486.3h1.3M80.8 464.8h1.3M85.6 520.4h1.3M92.3 484.0h1.3M79.7 514.5h1.3M91.5 493.4h1.3M94.4 474.7h1.3M62.9 459.3h1.3M103.1 455.4h1.3M80.7 489.7h1.3M90.9 474.0h1.3M68.2 533.2h1.3M61.6 485.0h1.3M56.0 471.8h1.3M65.2 484.0h1.3M82.4 494.0h1.3M76.1 478.3h1.3M79.1 510.7h1.3M82.0 460.6h1.3M84.2 458.5h1.3M74.7 490.3h1.3M82.0 463.4h1.3M94.2 488.8h1.3M85.8 472.3h1.3M80.7 496.8h1.3M86.8 484.3h1.3M68.9 482.8h1.3M91.4 480.9h1.3M81.1 499.1h1.3M84.7 489.9h1.3M65.5 528.3h1.3M83.6 495.1h1.3M49.8 461.7h1.3M68.0 518.9h1.3M76.3 478.1h1.3M83.2 484.9h1.3M94.2 490.6h1.3M75.0 520.9h1.3M72.4 533.8h1.3M65.7 467.5h1.3M60.2 492.8h1.3M94.0 473.6h1.3M96.6 478.8h1.3M65.7 531.2h1.3M71.5 473.3h1.3M88.9 526.2h1.3M91.9 474.3h1.3M80.5 529.8h1.3M80.9 481.3h1.3M93.3 512.9h1.3M82.8 526.3h1.3M74.1 477.6h1.3M84.6 496.9h1.3M97.0 489.3h1.3M81.7 479.5h1.3M91.0 477.8h1.3M61.2 481.0h1.3M74.7 503.6h1.3M73.5 475.2h1.3M96.7 488.6h1.3M72.9 514.2h1.3M74.4 480.2h1.3M70.0 484.2h1.3M93.9 475.2h1.3M91.2 518.5h1.3M87.2 482.3h1.3M77.3 469.2h1.3M67.1 464.1h1.3M98.2 507.8h1.3M78.7 520.3h1.3M77.1 540.7h1.3M84.3 483.8h1.3M94.0 484.3h1.3M76.0 488.1h1.3M99.3 458.5h1.3M78.4 517.9h1.3M76.6 505.2h1.3M87.1 538.8h1.3M69.7 493.9h1.3M87.6 534.4h1.3M74.9 480.8h1.3M85.1 473.2h1.3M91.3 515.2h1.3M87.6 483.6h1.3M96.1 461.8h1.3M76.5 495.8h1.3M81.0 521.7h1.3M68.3 516.3h1.3M71.8 498.1h1.3M82.9 504.2h1.3M96.8 532.1h1.3M70.3 490.9h1.3M69.9 500.1h1.3M87.9 480.1h1.3M74.0 527.4h1.3M75.2 490.8h1.3M82.8 488.0h1.3M85.8 522.2h1.3M87.0 488.6h1.3M81.4 489.7h1.3M92.3 479.8h1.3M66.7 538.0h1.3M82.1 539.0h1.3M83.1 475.8h1.3M80.1 527.1h1.3M76.6 527.2h1.3M88.1 480.3h1.3M84.8 491.3h1.3M64.3 460.8h1.3M91.2 485.4h1.3M83.8 491.3h1.3M64.2 478.4h1.3M75.1 485.9h1.3M61.8 469.5h1.3M82.6 523.3h1.3M106.4 487.2h1.3M64.7 485.3h1.3M79.0 471.5h1.3M67.7 534.9h1.3M83.4 536.5h1.3M66.4 462.8h1.3M92.6 523.4h1.3M90.6 488.9h1.3M61.5 478.4h1.3M71.0 521.8h1.3M78.5 481.5h1.3M84.1 511.3h1.3M96.7 478.1h1.3M94.9 495.4h1.3M98.8 475.7h1.3M78.4 525.6h1.3M84.0 475.1h1.3M68.2 488.2h1.3M96.2 485.5h1.3M77.9 494.6h1.3M82.2 477.3h1.3M67.4 522.5h1.3M78.3 483.0h1.3M70.0 500.1h1.3M63.2 473.5h1.3M59.4 525.2h1.3M76.6 495.8h1.3M114.3 497.0h1.3M68.6 498.3h1.3M98.0 482.2h1.3M93.4 474.2h1.3M79.3 539.4h1.3M69.5 465.1h1.3M73.9 481.0h1.3M57.1 469.8h1.3M93.5 519.0h1.3M83.1 493.3h1.3M87.8 500.7h1.3M104.5 523.0h1.3M65.5 507.6h1.3M92.1 525.1h1.3M61.3 478.2h1.3M78.2 477.8h1.3M82.9 522.1h1.3M67.7 514.4h1.3M87.6 473.6h1.3M53.9 478.2h1.3M80.9 465.1h1.3M93.4 530.1h1.3M79.2 479.5h1.3M88.4 491.9h1.3M79.5 515.2h1.3M90.9 520.1h1.3M88.8 477.8h1.3M68.3 476.3h1.3M75.7 511.4h1.3M71.0 531.1h1.3M88.9 459.3h1.3M73.0 537.6h1.3" stroke="#38b44c" stroke-width="1.3"/>
<path d="M120.7 500.9h1.3M101.2 445.2h1.3M117.6 503.0h1.3M84.1 538.1h1.3M95.4 444.9h1.3M74.8 507.1h1.3M103.8 504.8h1.3M80.4 538.6h1.3M69.6 436.2h1.3M111.2 488.2h1.3M61.3 526.8h1.3M118.6 505.6h1.3M102.1 500.2h1.3M86.5 439.2h1.3M93.6 466.6h1.3M105.3 500.5h1.3M119.8 505.5h1.3M48.5 448.8h1.3M93.4 453.5h1.3M58.9 442.1h1.3M55.6 454.4h1.3M83.1 442.9h1.3M92.7 445.8h1.3M71.5 503.9h1.3M77.7 437.4h1.3M80.6 457.9h1.3M64.0 535.6h1.3M70.1 441.4h1.3M88.2 450.5h1.3M86.8 437.8h1.3M99.7 443.7h1.3M42.6 438.5h1.3M81.5 470.5h1.3M71.1 437.5h1.3M102.8 507.0h1.3M73.7 444.6h1.3M47.8 451.8h1.3M63.4 442.8h1.3M95.0 457.5h1.3M77.0 505.0h1.3M81.4 504.7h1.3M62.1 456.7h1.3M67.0 442.2h1.3M50.3 448.7h1.3M64.3 481.3h1.3M65.9 528.7h1.3M56.8 453.6h1.3M84.5 443.6h1.3M83.2 508.1h1.3M83.4 444.6h1.3M59.3 437.8h1.3M104.3 451.9h1.3M87.8 447.6h1.3M90.1 539.3h1.3M58.7 438.6h1.3M72.5 443.6h1.3M68.2 503.8h1.3M68.4 443.7h1.3M93.4 456.6h1.3M91.5 442.9h1.3M77.9 465.9h1.3M62.8 445.1h1.3M92.5 508.7h1.3M89.1 508.0h1.3M67.8 436.9h1.3M79.1 436.0h1.3M60.5 444.0h1.3M98.4 444.8h1.3M70.7 446.2h1.3M55.6 454.1h1.3M82.2 475.5h1.3M94.1 460.6h1.3M91.6 444.4h1.3M70.3 442.8h1.3M101.7 443.0h1.3M104.1 447.3h1.3M61.1 535.2h1.3M119.1 496.3h1.3M51.7 444.2h1.3M83.2 438.6h1.3M31.6 488.8h1.3M121.5 500.8h1.3M112.6 503.5h1.3M70.4 437.0h1.3M90.5 457.6h1.3M61.8 448.5h1.3M99.4 455.2h1.3M100.1 441.8h1.3M95.5 450.6h1.3M89.9 442.5h1.3M83.7 449.5h1.3M84.2 455.9h1.3M102.5 459.8h1.3M94.1 453.4h1.3" stroke="#1a5696" stroke-width="1.3"/>
<path d="M47.9 502.8h1.3M51.4 501.3h1.3M27.9 489.8h1.3M84.2 443.0h1.3M42.1 500.6h1.3M47.4 497.0h1.3M60.7 502.5h1.3M41.7 500.6h1.3M53.1 505.5h1.3M100.5 480.1h1.3M112.2 505.6h1.3M53.0 496.8h1.3M103.8 492.4h1.3M43.1 498.9h1.3M28.9 460.4h1.3M45.5 503.5h1.3M60.2 440.5h1.3M47.3 506.4h1.3M41.5 463.2h1.3M100.7 517.0h1.3M36.3 495.0h1.3M81.5 450.2h1.3M106.6 501.2h1.3M100.1 482.8h1.3M51.1 500.7h1.3M63.6 463.4h1.3M46.2 507.7h1.3M96.8 493.7h1.3M72.1 470.4h1.3M81.4 515.4h1.3M40.1 499.3h1.3M36.5 502.7h1.3M42.1 500.7h1.3M42.4 500.1h1.3M92.8 488.0h1.3M101.0 488.3h1.3M48.8 497.1h1.3M51.1 498.6h1.3M45.6 501.5h1.3M40.2 502.6h1.3M110.2 481.4h1.3M40.7 502.8h1.3M109.2 511.2h1.3M39.4 503.6h1.3M115.8 506.5h1.3M70.3 461.3h1.3M73.4 497.4h1.3M46.2 498.3h1.3M32.1 484.6h1.3M95.9 453.7h1.3M29.1 474.1h1.3M44.5 492.9h1.3M51.4 472.2h1.3M54.9 438.6h1.3M99.7 484.0h1.3M107.1 483.9h1.3M34.5 481.7h1.3M45.6 501.5h1.3M35.9 494.1h1.3M102.4 490.9h1.3M97.1 532.3h1.3M99.0 488.5h1.3M84.2 528.8h1.3M25.5 485.1h1.3M114.0 506.3h1.3M100.0 484.4h1.3M34.3 496.3h1.3M83.0 534.4h1.3M27.3 486.3h1.3M81.9 495.4h1.3M31.3 499.1h1.3M101.9 491.2h1.3M121.7 495.4h1.3M56.3 508.6h1.3M45.4 497.9h1.3M76.4 531.1h1.3M103.5 489.4h1.3M114.6 504.4h1.3M87.1 488.5h1.3M35.9 482.9h1.3M106.5 509.2h1.3M114.1 501.2h1.3" stroke="#cc1538" stroke-width="1.3"/>
<path d="M91.2 516.5h1.3M43.9 472.2h1.3M39.4 472.4h1.3M58.1 494.4h1.3M42.4 457.1h1.3M59.4 470.0h1.3M28.8 464.4h1.3M83.7 509.6h1.3M43.4 476.6h1.3M40.8 466.3h1.3M60.7 461.9h1.3M74.9 505.4h1.3M53.1 459.7h1.3M60.4 503.2h1.3M44.1 469.7h1.3M64.8 465.9h1.3M69.7 472.8h1.3M31.9 460.4h1.3M41.2 460.4h1.3M38.2 472.1h1.3M32.1 466.5h1.3M28.2 484.7h1.3M32.7 463.4h1.3M35.9 468.6h1.3M59.7 528.2h1.3M41.2 471.5h1.3M99.8 456.0h1.3M66.2 524.1h1.3M56.8 451.3h1.3M47.4 467.7h1.3M70.7 467.5h1.3M65.9 435.8h1.3M45.6 469.5h1.3M56.4 477.8h1.3M50.3 475.4h1.3M51.0 444.8h1.3M48.7 455.3h1.3M62.2 459.3h1.3M43.1 470.9h1.3M37.2 455.7h1.3M41.4 452.7h1.3M59.2 501.8h1.3M78.2 478.6h1.3M44.6 470.4h1.3M56.8 472.9h1.3M65.2 523.2h1.3M60.0 520.3h1.3M35.5 467.4h1.3M53.3 480.7h1.3M44.3 461.1h1.3M58.1 507.5h1.3M41.8 467.5h1.3M62.6 521.3h1.3M61.2 523.6h1.3M42.5 463.5h1.3M39.0 471.2h1.3M56.7 469.3h1.3M49.5 459.4h1.3M110.9 473.1h1.3M54.0 460.7h1.3M63.1 464.1h1.3M50.4 465.0h1.3M49.4 466.2h1.3M47.3 467.0h1.3M61.6 506.1h1.3M44.9 469.9h1.3M53.6 461.0h1.3M60.4 505.4h1.3M34.0 465.3h1.3" stroke="#505050" stroke-width="1.3"/>
<path d="M44.9 507.9h1.3M91.1 436.5h1.3M99.7 518.3h1.3M103.6 494.3h1.3M49.0 508.0h1.3M32.0 501.4h1.3M33.0 473.9h1.3M86.2 465.7h1.3M36.4 483.3h1.3M33.9 492.5h1.3M110.8 512.5h1.3M75.5 471.0h1.3M121.1 493.8h1.3M45.8 499.3h1.3M47.1 499.7h1.3M46.3 498.6h1.3M51.9 459.8h1.3M102.5 488.5h1.3M30.8 488.8h1.3M52.0 496.1h1.3M102.0 486.3h1.3M108.3 501.5h1.3M54.0 508.1h1.3M44.2 501.6h1.3M81.7 475.2h1.3M40.6 484.5h1.3M53.3 456.8h1.3M46.3 501.1h1.3M103.3 489.3h1.3M62.7 474.0h1.3M105.6 476.7h1.3M54.8 499.4h1.3M42.9 498.2h1.3M41.1 504.6h1.3M57.4 462.4h1.3M45.3 498.1h1.3M82.0 526.7h1.3M76.6 532.8h1.3M51.1 501.1h1.3M100.9 490.2h1.3M54.4 493.1h1.3M49.7 496.6h1.3M43.5 505.8h1.3M63.2 490.9h1.3M57.6 477.5h1.3M121.6 509.0h1.3M31.6 492.2h1.3M46.3 500.1h1.3M49.9 495.8h1.3M30.4 487.3h1.3M107.3 508.8h1.3M108.3 493.9h1.3M118.2 503.8h1.3M71.2 447.2h1.3M92.6 536.1h1.3M29.6 491.8h1.3M103.0 487.9h1.3M102.8 493.9h1.3M82.3 441.5h1.3M46.4 497.7h1.3M111.5 508.7h1.3M42.6 507.9h1.3M35.5 492.6h1.3M42.7 502.0h1.3M118.3 508.0h1.3" stroke="#cc1538" stroke-width="1.3"/>
<path d="M89.9 485.6h1.3M80.1 525.9h1.3M75.3 531.4h1.3M65.0 464.8h1.3M86.0 522.7h1.3M70.0 511.9h1.3M70.0 527.3h1.3M94.0 492.7h1.3M99.5 519.7h1.3M70.9 525.5h1.3M85.4 477.6h1.3M94.7 483.5h1.3M74.3 481.9h1.3M77.8 527.0h1.3M81.2 488.5h1.3M88.2 518.2h1.3M77.3 457.9h1.3M86.4 491.9h1.3M64.0 524.0h1.3M57.9 463.2h1.3M53.9 486.3h1.3M90.1 525.9h1.3M73.2 463.0h1.3M75.7 490.6h1.3M81.6 524.6h1.3M104.1 524.3h1.3M85.0 489.5h1.3M72.9 458.6h1.3M75.2 488.9h1.3M81.2 491.3h1.3M78.5 493.4h1.3M69.8 533.4h1.3M83.9 487.8h1.3M68.8 484.7h1.3M70.8 521.9h1.3M53.8 490.9h1.3M68.1 519.3h1.3M93.1 510.3h1.3M83.2 508.7h1.3M74.8 496.5h1.3M75.8 483.6h1.3M75.9 475.0h1.3M90.0 487.5h1.3M103.5 484.7h1.3M67.4 500.0h1.3M74.9 518.2h1.3M75.9 533.3h1.3M82.7 469.5h1.3M77.7 495.9h1.3M82.2 481.3h1.3M92.1 467.9h1.3M84.5 465.2h1.3M67.7 526.8h1.3M75.0 489.1h1.3M72.8 515.8h1.3M98.1 494.9h1.3M73.2 492.7h1.3M68.9 475.2h1.3M71.4 467.2h1.3M73.3 505.8h1.3M77.9 530.6h1.3M83.8 494.3h1.3M98.8 487.5h1.3M83.1 523.5h1.3M88.9 521.0h1.3M71.3 468.2h1.3M94.2 520.5h1.3M71.3 520.4h1.3M94.8 488.6h1.3M103.2 482.0h1.3M96.1 521.0h1.3M66.5 472.4h1.3M67.1 484.1h1.3M60.3 498.4h1.3M66.7 518.7h1.3M74.7 487.0h1.3M70.0 505.8h1.3M44.8 481.9h1.3M74.6 480.2h1.3M109.0 479.8h1.3M88.7 492.4h1.3M68.0 522.2h1.3M69.6 480.2h1.3M68.6 474.9h1.3M82.0 492.5h1.3M74.9 459.6h1.3M86.1 467.3h1.3M83.6 498.3h1.3M92.0 493.4h1.3M86.0 494.2h1.3M60.8 508.3h1.3M88.8 464.2h1.3M87.2 493.3h1.3M79.7 533.6h1.3M60.0 505.6h1.3M84.7 469.6h1.3M55.2 487.1h1.3M96.4 475.4h1.3M98.7 519.3h1.3M83.8 472.6h1.3M70.2 503.6h1.3M84.7 520.3h1.3M62.1 484.7h1.3M66.8 463.5h1.3M57.4 521.8h1.3M56.6 498.9h1.3M73.9 522.4h1.3M62.7 483.4h1.3M83.0 478.6h1.3M81.5 476.5h1.3M99.7 486.2h1.3M82.5 522.6h1.3M78.1 533.1h1.3M89.1 487.8h1.3M80.0 528.1h1.3M85.6 525.3h1.3M50.3 482.7h1.3M83.9 460.6h1.3M93.6 529.0h1.3M86.2 488.7h1.3M78.0 530.1h1.3M103.1 471.0h1.3M89.8 494.7h1.3M96.7 480.2h1.3M86.8 497.0h1.3M91.0 481.5h1.3M74.2 480.1h1.3M85.3 525.5h1.3M61.2 523.9h1.3M79.9 472.1h1.3M71.8 483.8h1.3M77.0 487.4h1.3M57.7 484.0h1.3M69.6 476.0h1.3M89.0 526.3h1.3M65.0 480.1h1.3M82.0 502.2h1.3M58.7 491.8h1.3M103.1 491.4h1.3M86.8 475.4h1.3M81.8 528.2h1.3M80.5 479.7h1.3M66.9 473.7h1.3M68.4 473.4h1.3M68.0 516.8h1.3M97.1 490.0h1.3M91.6 531.0h1.3M80.3 486.9h1.3M75.5 502.4h1.3M73.2 471.6h1.3M54.8 486.8h1.3M85.9 463.4h1.3M100.2 491.6h1.3M74.3 473.6h1.3M79.7 509.2h1.3M82.4 533.8h1.3M59.3 485.2h1.3M84.3 489.1h1.3M83.8 506.4h1.3M88.1 479.9h1.3M95.4 516.7h1.3M65.3 516.7h1.3M77.3 504.0h1.3M70.7 532.7h1.3M86.5 521.9h1.3M70.8 495.1h1.3M69.5 524.0h1.3M66.7 464.9h1.3M74.5 529.7h1.3" stroke="#38b44c" stroke-width="1.3"/>
<path d="M68.4 493.7h1.3M101.4 444.1h1.3M33.7 498.2h1.3M91.4 531.7h1.3M108.0 502.3h1.3M89.8 457.3h1.3M114.0 497.9h1.3M82.1 443.6h1.3M87.0 437.4h1.3M73.6 533.3h1.3M51.9 443.2h1.3M97.6 457.6h1.3M106.0 503.2h1.3M60.3 436.9h1.3M59.8 444.9h1.3M70.0 441.4h1.3M59.9 442.1h1.3M88.4 461.5h1.3M92.4 446.8h1.3M93.3 442.7h1.3M70.7 444.4h1.3M91.1 448.9h1.3M108.3 502.2h1.3M90.4 525.0h1.3M114.9 504.6h1.3M56.7 443.7h1.3M88.0 442.5h1.3M101.2 449.9h1.3M108.1 502.8h1.3M81.6 441.7h1.3M106.4 508.8h1.3M56.9 450.8h1.3M81.1 494.8h1.3M112.4 498.5h1.3M60.0 444.9h1.3M84.3 445.8h1.3M120.1 500.7h1.3M77.2 452.3h1.3M87.5 443.7h1.3M52.6 508.4h1.3M72.9 439.4h1.3M25.6 466.1h1.3M80.1 509.6h1.3M94.5 455.7h1.3M94.9 499.2h1.3M80.5 505.7h1.3M81.0 472.3h1.3M56.2 486.3h1.3M88.3 442.2h1.3M84.9 442.1h1.3M84.4 447.8h1.3M62.6 440.9h1.3M91.1 452.9h1.3M116.7 506.2h1.3M38.9 457.8h1.3M105.1 503.8h1.3M44.3 495.4h1.3M49.8 504.6h1.3M99.1 459.4h1.3M95.0 441.5h1.3M99.8 449.9h1.3M99.9 454.4h1.3M77.6 443.5h1.3M90.4 456.0h1.3M70.3 534.2h1.3M84.1 445.8h1.3M105.7 500.5h1.3M62.6 455.3h1.3M76.6 504.0h1.3M101.6 450.5h1.3M87.5 442.1h1.3M87.7 445.6h1.3M70.7 441.0h1.3M87.0 448.0h1.3M76.2 492.7h1.3M87.7 522.2h1.3M64.2 438.9h1.3M95.2 455.9h1.3M50.9 447.9h1.3M57.1 450.1h1.3M89.5 491.8h1.3M99.8 461.7h1.3M52.9 446.6h1.3M71.3 437.0h1.3M79.0 533.5h1.3M69.3 440.5h1.3M93.1 451.5h1.3M111.5 507.2h1.3M104.2 480.6h1.3M42.7 486.7h1.3M79.4 438.8h1.3M88.7 474.5h1.3M104.0 509.6h1.3M91.7 517.9h1.3M95.1 460.7h1.3M107.1 504.6h1.3M42.4 497.9h1.3M119.5 498.8h1.3M101.3 518.2h1.3M102.3 507.9h1.3M68.5 447.5h1.3M92.7 450.6h1.3M95.5 452.5h1.3" stroke="#1a5696" stroke-width="1.3"/>
<path d="M45.2 457.7h1.3M59.6 527.1h1.3M44.4 453.0h1.3M60.5 524.5h1.3M89.0 539.8h1.3M44.5 456.8h1.3M33.2 466.5h1.3M46.7 481.4h1.3M30.2 460.7h1.3M74.4 509.6h1.3M63.9 466.9h1.3M43.6 481.6h1.3M48.0 461.1h1.3M39.2 462.5h1.3M58.2 473.1h1.3M53.4 458.3h1.3M39.6 469.4h1.3M61.2 526.1h1.3M47.7 457.4h1.3M108.4 481.3h1.3M31.0 483.5h1.3M40.1 461.3h1.3M43.4 470.4h1.3M46.0 463.7h1.3M36.9 464.1h1.3M54.0 477.7h1.3M45.4 465.7h1.3M64.8 524.0h1.3M46.6 449.1h1.3M59.4 468.0h1.3M41.5 463.3h1.3M105.7 468.2h1.3M34.0 463.6h1.3M39.9 452.7h1.3M52.9 472.5h1.3M60.5 527.4h1.3M103.7 455.0h1.3M63.9 528.3h1.3M59.5 485.2h1.3M54.8 476.3h1.3M54.8 497.5h1.3M47.5 473.9h1.3M39.3 475.0h1.3M40.9 465.1h1.3M41.9 479.8h1.3M103.9 455.2h1.3M45.4 465.9h1.3M34.9 467.4h1.3M57.5 478.5h1.3M43.2 459.3h1.3M40.2 464.7h1.3M32.0 462.4h1.3M44.4 466.5h1.3M50.5 460.0h1.3M44.1 461.4h1.3M88.9 530.6h1.3M40.2 468.7h1.3M41.8 452.5h1.3M36.8 467.5h1.3M41.4 461.0h1.3M67.5 466.3h1.3M55.0 459.6h1.3M60.3 506.9h1.3M57.7 463.9h1.3M94.5 534.3h1.3M53.7 458.7h1.3M51.7 476.2h1.3M61.3 476.2h1.3M46.6 467.1h1.3M40.6 485.2h1.3M77.7 490.6h1.3M70.7 441.1h1.3M100.1 513.8h1.3M64.3 513.0h1.3M106.6 455.5h1.3M31.1 486.5h1.3M50.7 465.3h1.3M54.8 470.2h1.3M48.8 464.2h1.3M50.8 457.7h1.3M30.9 460.0h1.3M30.3 469.9h1.3M64.3 525.4h1.3M43.5 468.5h1.3M58.0 467.7h1.3M39.0 462.2h1.3" stroke="#505050" stroke-width="1.3"/>
<path d="M79.3 439.9h1.3M112.6 506.7h1.3M122.7 501.1h1.3M83.5 504.7h1.3M98.8 439.9h1.3M57.7 437.0h1.3M86.9 443.1h1.3M102.9 507.2h1.3M81.2 447.3h1.3M58.0 443.0h1.3M118.0 503.8h1.3M100.8 445.5h1.3M77.4 446.5h1.3M84.4 442.9h1.3M70.0 437.9h1.3M77.4 536.1h1.3M100.0 446.0h1.3M101.4 454.3h1.3M77.3 501.4h1.3M77.7 510.5h1.3M87.7 462.6h1.3M86.0 440.8h1.3M62.7 444.4h1.3M64.3 437.9h1.3M96.7 448.0h1.3M98.2 445.2h1.3M96.1 466.9h1.3M93.2 451.4h1.3M74.3 441.3h1.3M83.9 441.5h1.3M73.8 444.6h1.3M100.2 444.9h1.3M114.6 507.6h1.3M95.4 456.6h1.3M94.8 443.5h1.3M97.7 482.3h1.3M85.1 443.1h1.3M104.0 503.5h1.3M120.0 505.4h1.3M54.4 443.1h1.3M100.0 495.6h1.3M116.9 497.2h1.3M89.0 450.6h1.3M60.4 441.2h1.3M115.7 500.3h1.3M118.8 502.7h1.3M110.9 500.5h1.3M66.5 464.9h1.3M90.1 447.6h1.3M105.6 488.1h1.3M90.4 444.6h1.3M68.3 442.8h1.3M85.8 441.1h1.3M85.2 435.2h1.3M89.3 455.9h1.3M63.4 450.9h1.3M72.0 457.4h1.3M88.7 443.5h1.3M67.6 444.8h1.3M60.4 530.8h1.3M101.0 456.8h1.3M78.1 503.4h1.3M89.6 437.0h1.3M73.7 498.6h1.3M96.3 443.9h1.3M73.1 501.9h1.3M91.4 447.6h1.3M47.7 451.9h1.3M97.1 451.1h1.3M86.6 441.5h1.3M106.5 508.2h1.3M90.3 439.1h1.3M79.8 495.3h1.3M35.1 487.7h1.3M113.9 507.3h1.3M49.7 497.3h1.3M85.1 449.6h1.3M85.2 438.1h1.3M118.9 509.6h1.3M57.3 437.1h1.3M59.2 439.3h1.3M82.7 439.0h1.3M81.5 444.2h1.3M74.5 444.0h1.3M82.4 442.4h1.3M66.3 440.3h1.3M57.3 450.8h1.3M79.4 442.0h1.3M104.6 505.2h1.3M97.1 455.4h1.3M122.2 505.4h1.3M54.6 455.2h1.3M87.8 447.9h1.3M82.7 442.0h1.3M81.0 443.2h1.3M98.2 509.1h1.3M106.6 505.2h1.3M66.2 446.0h1.3M107.4 477.8h1.3M54.6 445.2h1.3M104.7 503.9h1.3M82.5 444.4h1.3M119.6 500.3h1.3M63.0 448.4h1.3M86.8 445.3h1.3M101.7 448.9h1.3" stroke="#1a5696" stroke-width="1.3"/>
<path d="M68.4 465.6h1.3M78.6 520.2h1.3M67.3 472.1h1.3M88.9 478.7h1.3M70.3 483.0h1.3M87.5 475.2h1.3M67.0 462.5h1.3M80.2 481.9h1.3M79.2 472.0h1.3M79.3 483.3h1.3M77.3 488.2h1.3M70.2 484.0h1.3M70.0 494.2h1.3M83.6 477.5h1.3M94.1 471.9h1.3M88.3 524.8h1.3M73.1 525.9h1.3M76.5 531.7h1.3M55.9 466.1h1.3M72.3 481.0h1.3M77.5 520.3h1.3M84.5 475.5h1.3M84.6 512.9h1.3M60.6 482.7h1.3M93.1 506.3h1.3M83.4 470.8h1.3M80.1 471.0h1.3M78.8 479.6h1.3M89.0 524.7h1.3M94.2 489.0h1.3M100.8 482.3h1.3M81.1 464.7h1.3M97.0 530.5h1.3M89.8 480.7h1.3M80.2 522.9h1.3M81.1 512.5h1.3M81.8 477.2h1.3M87.9 473.2h1.3M72.1 464.6h1.3M65.7 476.4h1.3M69.5 492.9h1.3M60.1 459.6h1.3M100.3 474.1h1.3M86.5 488.5h1.3M75.1 483.4h1.3M72.8 513.4h1.3M70.2 487.9h1.3M84.9 521.1h1.3M91.0 522.7h1.3M84.2 496.1h1.3M72.9 536.3h1.3M85.0 483.3h1.3M90.5 481.6h1.3M65.9 470.1h1.3M69.7 527.8h1.3M95.5 497.6h1.3M51.5 476.3h1.3M78.3 484.6h1.3M80.5 483.5h1.3M69.1 497.6h1.3M69.3 482.5h1.3M68.0 481.9h1.3M64.1 486.9h1.3M73.0 516.7h1.3M63.7 482.4h1.3M79.4 526.6h1.3M111.3 466.5h1.3M78.4 492.1h1.3M61.1 489.6h1.3M73.4 495.4h1.3M79.7 484.8h1.3M77.7 465.5h1.3M78.6 528.8h1.3M88.4 519.2h1.3M61.5 487.2h1.3M76.4 482.4h1.3M83.8 482.3h1.3M75.9 476.0h1.3M85.8 456.9h1.3M94.0 527.5h1.3M97.2 486.9h1.3M68.0 488.4h1.3M68.0 486.5h1.3M114.6 494.2h1.3M70.7 473.7h1.3M67.4 486.5h1.3M77.4 483.3h1.3M78.9 510.9h1.3M91.1 478.7h1.3M75.8 488.1h1.3M88.5 472.5h1.3M84.9 491.0h1.3M71.9 525.7h1.3M71.7 492.3h1.3M102.1 473.9h1.3M60.9 488.5h1.3M75.0 510.9h1.3M89.1 486.1h1.3M67.5 540.2h1.3M96.0 462.4h1.3M85.7 485.0h1.3M82.2 477.2h1.3M53.9 464.2h1.3M80.9 500.0h1.3M88.0 485.3h1.3M91.1 492.0h1.3M75.6 523.2h1.3M74.0 460.3h1.3M88.3 476.6h1.3M76.2 506.7h1.3M71.8 491.5h1.3M79.2 461.1h1.3M67.7 484.0h1.3M92.6 510.9h1.3M85.3 489.7h1.3M93.4 490.7h1.3M76.4 522.2h1.3M59.1 498.0h1.3M81.1 487.8h1.3M80.0 533.4h1.3M104.0 482.8h1.3M72.7 513.0h1.3M88.3 482.0h1.3M57.1 469.7h1.3M70.2 525.8h1.3M57.0 467.3h1.3M90.0 530.7h1.3M71.1 472.4h1.3M88.5 479.2h1.3M64.2 528.7h1.3M72.0 461.9h1.3M86.0 467.5h1.3M69.1 479.4h1.3M77.1 473.5h1.3M86.9 487.7h1.3M69.9 483.7h1.3M92.8 520.5h1.3M81.2 485.0h1.3M83.8 538.2h1.3M69.2 470.8h1.3M98.4 497.0h1.3M70.7 478.4h1.3M76.8 524.1h1.3M95.2 485.5h1.3M91.7 501.4h1.3M96.8 468.9h1.3M77.1 479.4h1.3M72.3 521.5h1.3M98.8 509.4h1.3M81.6 518.7h1.3M63.2 482.3h1.3M67.8 524.5h1.3M56.0 483.2h1.3M76.2 475.0h1.3M66.5 465.1h1.3M73.5 530.8h1.3M86.2 471.5h1.3" stroke="#38b44c" stroke-width="1.3"/>
<path d="M103.0 495.7h1.3M101.9 488.5h1.3M105.6 487.9h1.3M83.1 443.4h1.3M100.4 491.6h1.3M106.3 456.7h1.3M37.9 504.3h1.3M40.5 504.4h1.3M104.4 488.0h1.3M100.4 478.1h1.3M103.3 506.0h1.3M105.3 491.2h1.3M108.4 510.6h1.3M93.0 488.7h1.3M46.1 503.2h1.3M35.0 478.5h1.3M110.8 508.9h1.3M102.5 484.9h1.3M47.0 504.6h1.3M48.4 501.5h1.3M65.4 536.6h1.3M49.8 500.7h1.3M57.1 499.3h1.3M95.8 450.0h1.3M98.8 490.2h1.3M42.1 501.6h1.3M100.5 494.2h1.3M101.7 487.1h1.3M46.7 500.8h1.3M53.4 504.7h1.3M107.4 501.0h1.3M38.1 505.8h1.3M73.4 483.8h1.3M51.6 501.2h1.3M98.9 487.0h1.3M33.3 497.6h1.3M123.5 502.6h1.3M40.7 500.9h1.3M104.9 482.8h1.3M64.6 440.5h1.3M119.9 488.7h1.3M97.1 487.6h1.3M95.2 486.0h1.3M105.3 487.6h1.3M56.6 495.4h1.3M51.7 502.8h1.3M112.0 503.9h1.3M103.5 493.5h1.3M104.2 490.3h1.3M44.5 504.0h1.3M98.7 484.2h1.3M81.8 461.1h1.3M35.5 501.8h1.3M28.3 489.7h1.3M55.4 493.0h1.3M35.6 462.1h1.3M42.8 499.4h1.3M114.8 496.2h1.3M105.4 482.5h1.3M97.8 483.6h1.3M96.3 525.4h1.3M45.2 500.2h1.3M105.1 496.7h1.3M34.0 487.8h1.3M76.7 436.7h1.3M60.6 493.6h1.3M82.7 481.9h1.3M37.3 486.2h1.3M51.5 502.6h1.3M68.3 437.7h1.3M59.8 528.4h1.3M32.0 488.9h1.3M78.4 475.9h1.3M108.1 483.6h1.3M96.8 520.7h1.3M101.4 475.4h1.3M62.4 436.3h1.3M117.4 503.6h1.3M108.8 501.0h1.3M101.1 526.3h1.3" stroke="#cc1538" stroke-width="1.3"/>
<path d="M46.3 456.7h1.3M103.0 455.5h1.3M49.4 481.2h1.3M53.7 471.1h1.3M31.2 460.8h1.3M47.9 473.8h1.3M55.0 460.4h1.3M47.9 458.4h1.3M53.7 474.2h1.3M58.2 460.9h1.3M61.7 530.3h1.3M35.6 463.5h1.3M65.2 538.1h1.3M50.2 478.4h1.3M28.0 492.5h1.3M61.8 476.6h1.3M49.9 465.0h1.3M37.1 461.6h1.3M57.8 443.8h1.3M29.7 470.3h1.3M59.9 467.8h1.3M107.3 498.5h1.3M70.8 524.3h1.3M55.2 469.3h1.3M63.8 509.7h1.3M32.9 463.1h1.3M43.5 474.7h1.3M39.2 476.7h1.3M89.8 469.3h1.3M55.7 471.5h1.3M77.0 506.0h1.3M48.4 469.5h1.3M40.0 469.0h1.3M37.2 471.0h1.3M34.6 463.3h1.3M42.5 461.3h1.3M37.7 463.4h1.3M32.7 466.6h1.3M32.9 473.5h1.3M103.4 452.5h1.3M49.2 456.9h1.3M80.3 467.8h1.3M50.1 468.6h1.3M39.5 464.8h1.3M105.3 455.0h1.3M95.1 515.0h1.3M50.8 470.9h1.3M39.7 465.5h1.3M42.9 461.2h1.3M40.9 465.9h1.3M37.1 466.0h1.3M47.6 469.0h1.3M59.7 528.6h1.3M42.3 466.1h1.3M64.5 467.1h1.3M33.6 468.5h1.3M37.4 468.0h1.3M66.3 464.5h1.3M35.9 461.6h1.3M36.5 480.9h1.3M32.9 470.8h1.3M46.0 466.4h1.3M52.0 474.7h1.3M55.6 470.7h1.3M93.7 449.4h1.3M59.5 507.8h1.3M62.0 529.4h1.3M63.1 528.3h1.3M58.9 502.5h1.3M37.9 457.4h1.3M64.4 515.0h1.3M48.5 458.4h1.3M105.3 451.2h1.3M43.2 464.1h1.3M63.8 486.0h1.3M57.5 469.6h1.3M63.1 509.2h1.3M65.7 512.1h1.3M41.3 463.3h1.3M84.0 500.2h1.3" stroke="#505050" stroke-width="1.3"/>
<path d="M64.3 504.7h1.3M29.7 464.5h1.3M31.6 469.7h1.3M57.5 480.3h1.3M106.0 453.3h1.3M59.5 504.9h1.3M53.2 468.1h1.3M37.7 474.2h1.3M48.6 464.6h1.3M42.9 470.4h1.3M45.8 464.3h1.3M47.7 469.9h1.3M64.5 510.7h1.3M41.0 470.8h1.3M60.5 462.3h1.3M52.7 463.0h1.3M40.9 460.8h1.3M47.3 456.4h1.3M43.3 467.5h1.3M47.0 470.9h1.3M59.1 504.5h1.3M64.7 480.5h1.3M35.4 471.2h1.3M45.9 456.4h1.3M101.6 455.7h1.3M58.3 507.7h1.3M107.0 484.5h1.3M66.2 522.9h1.3M49.5 457.8h1.3M63.2 524.7h1.3M49.4 456.8h1.3M58.8 503.7h1.3M108.4 500.0h1.3M29.9 467.4h1.3M60.8 480.8h1.3M44.1 465.5h1.3M37.1 457.6h1.3M66.2 465.3h1.3M101.5 455.5h1.3M35.0 457.8h1.3M65.0 520.2h1.3M70.8 473.9h1.3M56.2 461.4h1.3M43.7 455.6h1.3M59.9 500.3h1.3M56.7 469.7h1.3M49.0 469.5h1.3M56.2 509.6h1.3M68.6 510.9h1.3M106.6 468.6h1.3M36.5 457.1h1.3M60.8 509.4h1.3M48.5 473.9h1.3M97.0 475.8h1.3M56.1 462.4h1.3M42.5 460.0h1.3M51.4 464.4h1.3M37.5 480.1h1.3M35.3 465.0h1.3M45.3 464.0h1.3M65.6 530.2h1.3M105.6 473.0h1.3M54.5 497.2h1.3M45.6 456.6h1.3M73.7 464.1h1.3M49.6 473.9h1.3M37.8 465.9h1.3M41.9 457.2h1.3M48.2 455.2h1.3M90.2 489.6h1.3M52.2 454.9h1.3M55.2 457.6h1.3M35.8 489.0h1.3M64.5 506.0h1.3M47.9 470.0h1.3M41.5 482.1h1.3M104.2 455.7h1.3M104.5 520.2h1.3" stroke="#505050" stroke-width="1.3"/>
<path d="M95.8 446.5h1.3M52.4 449.4h1.3M98.7 493.6h1.3M80.2 532.6h1.3M93.2 461.0h1.3M96.3 454.4h1.3M48.0 444.7h1.3M122.7 498.0h1.3M85.5 438.6h1.3M94.2 439.5h1.3M97.7 471.7h1.3M97.3 450.3h1.3M58.8 448.6h1.3M62.8 452.5h1.3M107.1 507.3h1.3M62.6 444.5h1.3M87.3 445.6h1.3M116.2 491.1h1.3M69.7 438.8h1.3M56.2 456.2h1.3M94.7 513.1h1.3M60.8 447.8h1.3M66.8 441.0h1.3M90.2 518.5h1.3M101.7 502.3h1.3M113.4 499.6h1.3M76.7 442.5h1.3M99.1 453.2h1.3M92.6 453.3h1.3M114.5 498.8h1.3M93.8 443.4h1.3M96.9 447.1h1.3M102.3 503.6h1.3M96.1 451.0h1.3M40.6 489.2h1.3M95.1 443.6h1.3M87.9 436.3h1.3M93.5 439.7h1.3M100.3 449.9h1.3M77.5 437.5h1.3M90.3 446.1h1.3M39.3 506.3h1.3M118.7 494.2h1.3M93.9 458.9h1.3M82.6 476.4h1.3M108.4 508.3h1.3M96.1 447.9h1.3M95.5 446.8h1.3M93.2 440.1h1.3M109.6 505.0h1.3M120.8 504.6h1.3M79.4 526.6h1.3M108.5 499.6h1.3M86.1 439.6h1.3M60.6 441.7h1.3M128.4 501.2h1.3M96.9 453.0h1.3M52.5 441.5h1.3M53.1 452.5h1.3M96.5 503.5h1.3M96.1 446.7h1.3M97.2 494.0h1.3M37.1 481.1h1.3M102.1 446.8h1.3M99.1 501.7h1.3M84.3 444.9h1.3M52.9 440.7h1.3M93.1 449.4h1.3M92.3 488.6h1.3M94.1 449.9h1.3M120.3 502.0h1.3M60.3 518.6h1.3M114.2 506.1h1.3M123.2 496.4h1.3M116.1 506.8h1.3M101.1 483.9h1.3M71.2 461.7h1.3M100.1 457.1h1.3M79.6 505.0h1.3M86.4 507.0h1.3M89.5 448.8h1.3M56.6 440.9h1.3M105.0 507.5h1.3M88.1 442.6h1.3M54.2 491.3h1.3M89.7 451.5h1.3M56.1 443.7h1.3M75.2 443.8h1.3M56.1 451.0h1.3M97.6 456.3h1.3M45.1 481.2h1.3M102.0 445.0h1.3M88.0 441.1h1.3M93.6 450.4h1.3M99.0 457.1h1.3M72.9 508.2h1.3M82.0 441.0h1.3" stroke="#1a5696" stroke-width="1.3"/>
<path d="M73.5 489.4h1.3M65.4 478.4h1.3M82.5 531.0h1.3M77.9 525.4h1.3M67.0 525.7h1.3M68.9 490.9h1.3M76.3 518.1h1.3M76.0 529.1h1.3M88.2 478.8h1.3M95.5 484.1h1.3M79.7 468.9h1.3M75.6 483.5h1.3M62.0 486.1h1.3M68.2 471.1h1.3M70.3 519.1h1.3M80.2 534.0h1.3M95.2 473.2h1.3M77.0 527.7h1.3M74.9 486.4h1.3M92.9 473.9h1.3M75.0 486.2h1.3M82.1 523.0h1.3M91.2 481.1h1.3M75.1 524.9h1.3M65.9 532.2h1.3M105.7 465.7h1.3M77.6 528.4h1.3M90.9 488.9h1.3M69.6 492.2h1.3M89.3 473.8h1.3M84.0 469.5h1.3M93.8 484.1h1.3M56.6 483.7h1.3M66.5 487.8h1.3M84.4 494.0h1.3M66.3 526.0h1.3M69.5 487.0h1.3M87.2 497.9h1.3M96.5 479.2h1.3M90.8 483.6h1.3M72.7 466.9h1.3M87.0 531.7h1.3M77.0 479.5h1.3M77.2 508.5h1.3M92.2 480.3h1.3M87.5 514.9h1.3M95.7 498.8h1.3M66.9 524.7h1.3M58.0 472.0h1.3M68.3 530.1h1.3M67.8 478.5h1.3M77.6 475.3h1.3M70.0 486.7h1.3M68.0 509.9h1.3M88.0 490.7h1.3M85.1 528.8h1.3M74.5 516.5h1.3M95.3 491.3h1.3M80.3 521.6h1.3M103.4 467.4h1.3M58.2 465.1h1.3M64.4 466.3h1.3M74.9 477.7h1.3M82.8 477.6h1.3M76.4 489.9h1.3M72.6 489.6h1.3M92.7 484.6h1.3M92.9 480.3h1.3M75.2 474.2h1.3M87.9 518.2h1.3M78.6 479.0h1.3M91.4 486.6h1.3M83.2 489.5h1.3M61.1 483.5h1.3M75.4 521.0h1.3M83.5 528.2h1.3M80.5 522.9h1.3M89.8 468.0h1.3M76.2 502.2h1.3M81.4 528.7h1.3M60.0 478.5h1.3M71.8 466.0h1.3M73.5 522.3h1.3M81.8 492.3h1.3M61.1 480.4h1.3M69.2 486.5h1.3M76.7 483.7h1.3M58.7 499.2h1.3M81.8 528.3h1.3M88.5 486.8h1.3M81.9 530.8h1.3M85.6 485.1h1.3M78.4 503.6h1.3M93.5 482.0h1.3M79.2 488.2h1.3M85.7 491.3h1.3M102.1 477.1h1.3M82.0 478.2h1.3M85.3 469.4h1.3M95.4 533.7h1.3M74.5 506.6h1.3M90.4 483.4h1.3M84.8 495.0h1.3M65.5 525.6h1.3M67.6 459.6h1.3M68.3 526.5h1.3M79.2 493.3h1.3M97.5 497.4h1.3M97.0 486.4h1.3M66.9 465.7h1.3M75.9 475.7h1.3M75.3 521.4h1.3M86.2 474.2h1.3M83.6 471.1h1.3M70.5 460.1h1.3M102.1 484.0h1.3M80.8 471.4h1.3M90.9 486.6h1.3M72.0 464.3h1.3M66.8 488.0h1.3M74.5 486.4h1.3M82.4 496.3h1.3M88.7 483.3h1.3M83.0 471.8h1.3M73.3 517.6h1.3M62.8 468.5h1.3M78.8 470.8h1.3M90.0 463.5h1.3M84.6 499.1h1.3M62.3 489.1h1.3M61.5 484.9h1.3M88.3 484.3h1.3M62.8 514.7h1.3M74.1 518.8h1.3M86.4 527.1h1.3M54.5 485.4h1.3M88.6 489.2h1.3M106.6 497.3h1.3M78.2 466.1h1.3M88.3 525.2h1.3M64.5 488.7h1.3M85.8 480.4h1.3M61.2 478.4h1.3M62.8 478.7h1.3M55.3 470.4h1.3M74.2 516.6h1.3M98.9 477.4h1.3M83.9 532.4h1.3M92.1 483.2h1.3M90.7 464.1h1.3M87.3 527.6h1.3M91.5 518.5h1.3M83.5 486.7h1.3M67.5 507.4h1.3M72.7 530.1h1.3M73.8 522.0h1.3M91.4 484.3h1.3M73.3 494.4h1.3M56.6 491.4h1.3M89.2 502.7h1.3M62.5 479.7h1.3M64.9 500.2h1.3M64.0 481.9h1.3M82.0 535.4h1.3M81.1 530.3h1.3M83.8 470.9h1.3M96.1 475.6h1.3M93.1 469.8h1.3M83.9 479.4h1.3M69.4 482.7h1.3M100.5 492.3h1.3M74.9 502.1h1.3M73.0 503.4h1.3M89.7 473.1h1.3M109.0 491.6h1.3" stroke="#38b44c" stroke-width="1.3"/>
<path d="M94.2 521.8h1.3M100.2 483.4h1.3M61.9 518.2h1.3M100.1 484.4h1.3M102.6 491.2h1.3M44.1 498.9h1.3M81.7 516.6h1.3M52.6 505.4h1.3M101.5 516.3h1.3M111.1 510.1h1.3M54.1 499.3h1.3M68.4 464.3h1.3M96.0 490.4h1.3M91.2 443.0h1.3M55.4 504.7h1.3M63.7 440.5h1.3M42.0 501.3h1.3M45.9 499.1h1.3M70.2 470.7h1.3M39.7 502.4h1.3M105.0 489.0h1.3M52.1 501.9h1.3M101.4 442.3h1.3M75.7 458.2h1.3M43.1 504.9h1.3M31.8 484.4h1.3M101.8 487.2h1.3M44.1 497.4h1.3M49.4 465.6h1.3M96.9 481.8h1.3M67.3 468.4h1.3M102.6 467.9h1.3M36.5 492.5h1.3M28.7 470.8h1.3M94.7 509.9h1.3M42.9 502.2h1.3M77.5 446.9h1.3M103.0 492.8h1.3M72.0 461.9h1.3M62.9 504.2h1.3M47.9 503.0h1.3M82.8 484.7h1.3M48.5 500.2h1.3M44.5 499.4h1.3M36.2 479.7h1.3M102.2 484.7h1.3M50.7 506.0h1.3M91.5 458.7h1.3M42.9 500.1h1.3M52.4 502.6h1.3M80.6 495.1h1.3M44.1 503.2h1.3M54.2 500.8h1.3M52.2 502.7h1.3M74.5 515.7h1.3M84.0 537.5h1.3M30.8 491.7h1.3M82.9 515.6h1.3M42.3 508.2h1.3M100.6 480.1h1.3M33.6 462.8h1.3M116.0 505.2h1.3M88.5 503.0h1.3M103.6 472.8h1.3M59.7 522.1h1.3M113.8 504.2h1.3M44.2 507.1h1.3M107.0 500.1h1.3M27.7 489.9h1.3M99.4 483.6h1.3M102.5 485.3h1.3M96.4 519.1h1.3M50.2 479.9h1.3" stroke="#cc1538" stroke-width="1.3"/>
<path d="M25.2 536.3 V525.0 M24.5 535.6 H36.3" fill="none" stroke="#111" stroke-width="1.3"/>
<path d="M25.2 520.3 L22.5 525.8 L27.9 525.8 Z M40.9 535.6 L35.6 532.9 L35.6 538.3 Z" fill="#111"/>
<text x="0" y="0" font-size="6.67" fill="#1a1a1a" stroke="#1a1a1a" stroke-width="0.22" textLength="21.18" lengthAdjust="spacingAndGlyphs" transform="translate(20.00 540.86) rotate(-90)">tSNE2</text>
<text x="24.25" y="546.90" font-size="6.67" fill="#1a1a1a" stroke="#1a1a1a" stroke-width="0.22" textLength="20.03" lengthAdjust="spacingAndGlyphs">tSNE1</text>
<text x="16.12" y="573.40" font-size="8.53" fill="#1a1a1a" stroke="#1a1a1a" stroke-width="0.22" textLength="21.49" lengthAdjust="spacingAndGlyphs">Seurat</text>
<text x="15.82" y="582.60" font-size="8.21" fill="#1a1a1a" stroke="#1a1a1a" stroke-width="0.22" textLength="24.72" lengthAdjust="spacingAndGlyphs">cluster:</text>
<circle cx="55.8" cy="575.4" r="2.5" fill="#36b34a"/>
<text x="59.77" y="577.90" font-size="6.67" fill="#1a1a1a" stroke="#1a1a1a" stroke-width="0.22">2</text>
<circle cx="70.9" cy="575.4" r="2.5" fill="#4d4d4d"/>
<text x="74.95" y="577.90" font-size="6.67" fill="#1a1a1a" stroke="#1a1a1a" stroke-width="0.22">3</text>
<circle cx="85.3" cy="575.4" r="2.5" fill="#16508f"/>
<text x="89.45" y="577.90" font-size="6.76" fill="#1a1a1a" stroke="#1a1a1a" stroke-width="0.22">4</text>
<circle cx="100.5" cy="575.4" r="2.5" fill="#cc0f35"/>
<text x="104.53" y="577.90" font-size="6.76" fill="#1a1a1a" stroke="#1a1a1a" stroke-width="0.22">5</text>
<text x="135.31" y="413.70" font-size="11.71" fill="#000" font-weight="bold" textLength="6.74" lengthAdjust="spacingAndGlyphs">F</text>
<defs><path id="tg" d="M36.5 471.2h1.8M61.5 466.2h1.8M96.8 513.6h1.8M44.7 507.9h1.8M79.0 439.9h1.8M64.0 504.7h1.8M58.6 486.5h1.8M59.6 503.1h1.8M120.5 500.9h1.8M90.8 436.5h1.8M112.3 506.7h1.8M95.5 446.5h1.8M98.2 453.4h1.8M71.7 516.5h1.8M47.7 502.8h1.8M89.6 485.6h1.8M68.2 465.6h1.8M73.3 489.4h1.8M64.9 465.6h1.8M70.4 468.6h1.8M101.0 445.2h1.8M79.8 525.9h1.8M78.4 520.2h1.8M94.0 521.8h1.8M77.5 496.4h1.8M74.6 520.1h1.8M51.2 501.3h1.8M99.5 518.3h1.8M102.8 495.7h1.8M52.2 449.4h1.8M58.3 467.3h1.8M63.0 461.9h1.8M27.6 489.8h1.8M68.1 493.7h1.8M67.1 472.1h1.8M98.4 493.6h1.8M79.6 533.7h1.8M61.6 510.8h1.8M84.0 443.0h1.8M45.0 457.7h1.8M122.4 501.1h1.8M99.9 483.4h1.8M100.0 513.8h1.8M40.0 458.5h1.8M68.2 471.1h1.8M101.2 444.1h1.8M88.6 478.7h1.8M65.2 478.4h1.8M65.1 520.7h1.8M78.9 484.4h1.8M62.3 476.3h1.8M33.5 498.2h1.8M46.1 456.7h1.8M82.2 531.0h1.8M90.2 512.4h1.8M75.1 496.4h1.8M91.0 516.5h1.8M75.1 531.4h1.8M102.8 455.5h1.8M77.7 525.4h1.8M90.9 436.8h1.8M85.6 448.7h1.8M83.6 479.0h1.8M103.4 494.3h1.8M70.0 483.0h1.8M66.7 525.7h1.8M60.7 512.0h1.8M53.5 506.9h1.8M65.1 486.3h1.8M64.7 464.8h1.8M83.3 504.7h1.8M61.6 518.2h1.8M56.9 455.3h1.8M94.3 485.2h1.8M41.9 500.6h1.8M48.8 508.0h1.8M49.2 481.2h1.8M79.9 532.6h1.8M73.6 443.5h1.8M54.3 447.9h1.8M117.3 503.0h1.8M31.7 501.4h1.8M53.5 471.1h1.8M93.0 461.0h1.8M65.5 443.2h1.8M86.6 520.7h1.8M47.2 497.0h1.8M85.8 522.7h1.8M87.3 475.2h1.8M99.9 484.4h1.8M83.6 488.9h1.8M37.0 458.0h1.8M83.9 538.1h1.8M69.7 511.9h1.8M66.8 462.5h1.8M96.1 454.4h1.8M91.7 449.1h1.8M58.8 487.2h1.8M80.5 464.8h1.8M69.8 527.3h1.8M98.6 439.9h1.8M29.5 464.5h1.8M84.2 498.3h1.8M76.2 478.1h1.8M85.4 520.4h1.8M59.3 527.1h1.8M57.5 437.0h1.8M31.3 469.7h1.8M46.3 468.9h1.8M87.6 516.9h1.8M43.6 472.2h1.8M91.1 531.7h1.8M30.9 460.8h1.8M68.7 490.9h1.8M94.5 518.2h1.8M48.1 461.5h1.8M92.0 484.0h1.8M44.1 453.0h1.8M47.6 473.8h1.8M57.2 480.3h1.8M79.8 520.4h1.8M79.2 502.7h1.8M79.5 514.5h1.8M60.3 524.5h1.8M80.0 481.9h1.8M47.7 444.7h1.8M93.0 460.8h1.8M58.8 475.0h1.8M95.2 444.9h1.8M93.7 492.7h1.8M54.7 460.4h1.8M102.3 491.2h1.8M102.6 479.4h1.8M76.8 534.8h1.8M91.3 493.4h1.8M99.3 519.7h1.8M78.9 472.0h1.8M122.4 498.0h1.8M62.8 488.1h1.8M76.1 516.0h1.8M94.1 474.7h1.8M70.7 525.5h1.8M47.6 458.4h1.8M76.1 518.1h1.8M62.9 470.7h1.8M67.5 490.7h1.8M62.7 459.3h1.8M88.7 539.8h1.8M79.1 483.3h1.8M75.8 529.1h1.8M88.7 485.3h1.8M97.8 499.2h1.8M102.9 455.4h1.8M85.1 477.6h1.8M77.0 488.2h1.8M85.3 438.6h1.8M101.2 496.7h1.8M85.6 494.0h1.8M39.1 472.4h1.8M107.8 502.3h1.8M53.4 474.2h1.8M93.9 439.5h1.8M73.4 519.5h1.8M105.3 479.6h1.8M80.5 489.7h1.8M94.4 483.5h1.8M101.7 488.5h1.8M87.9 478.8h1.8M85.5 525.0h1.8M33.8 489.0h1.8M74.5 507.1h1.8M74.1 481.9h1.8M69.9 484.0h1.8M95.3 484.1h1.8M100.3 500.8h1.8M73.5 439.8h1.8M103.5 504.8h1.8M77.6 527.0h1.8M86.6 443.1h1.8M105.7 453.3h1.8M63.9 522.4h1.8M58.4 518.4h1.8M90.7 474.0h1.8M32.8 473.9h1.8M105.4 487.9h1.8M79.5 468.9h1.8M82.7 522.3h1.8M85.2 479.4h1.8M68.0 533.2h1.8M81.0 488.5h1.8M102.7 507.2h1.8M75.4 483.5h1.8M104.2 494.9h1.8M80.6 495.9h1.8M80.1 538.6h1.8M44.3 456.8h1.8M82.9 443.4h1.8M97.4 471.7h1.8M63.6 527.5h1.8M69.2 495.4h1.8M61.3 485.0h1.8M89.5 457.3h1.8M57.9 460.9h1.8M43.9 498.9h1.8M91.5 465.3h1.8M82.5 439.7h1.8M55.8 471.8h1.8M113.7 497.9h1.8M69.7 494.2h1.8M59.2 504.9h1.8M97.9 444.9h1.8M99.2 530.2h1.8M64.9 484.0h1.8M88.0 518.2h1.8M81.0 447.3h1.8M53.0 468.1h1.8M72.4 496.9h1.8M71.0 473.7h1.8M82.1 494.0h1.8M77.0 457.9h1.8M83.4 477.5h1.8M81.5 516.6h1.8M74.3 475.7h1.8M36.2 490.0h1.8M75.9 478.3h1.8M86.2 491.9h1.8M93.9 471.9h1.8M97.1 450.3h1.8M65.4 489.4h1.8M72.4 443.5h1.8M69.3 436.2h1.8M81.8 443.6h1.8M57.8 443.0h1.8M61.7 486.1h1.8M76.3 522.1h1.8M51.3 486.7h1.8M57.8 494.4h1.8M86.8 437.4h1.8M88.0 524.8h1.8M68.0 471.1h1.8M87.2 481.9h1.8M65.5 495.1h1.8M78.8 510.7h1.8M73.3 533.3h1.8M100.2 491.6h1.8M58.5 448.6h1.8M94.9 520.6h1.8M38.7 463.7h1.8M111.0 488.2h1.8M51.7 443.2h1.8M117.8 503.8h1.8M70.1 519.1h1.8M73.7 514.3h1.8M54.5 497.0h1.8M60.5 502.5h1.8M32.9 466.5h1.8M100.5 445.5h1.8M52.4 505.4h1.8M56.0 502.1h1.8M60.9 446.2h1.8M41.4 500.6h1.8M63.7 524.0h1.8M72.9 525.9h1.8M62.5 452.5h1.8M89.9 487.8h1.8M66.8 481.2h1.8M52.9 505.5h1.8M97.4 457.6h1.8M77.2 446.5h1.8M37.4 474.2h1.8M60.0 509.7h1.8M87.8 515.7h1.8M81.7 460.6h1.8M105.8 503.2h1.8M76.3 531.7h1.8M106.8 507.3h1.8M82.0 479.8h1.8M73.0 495.7h1.8M42.2 457.1h1.8M57.7 463.2h1.8M55.6 466.1h1.8M79.9 534.0h1.8M64.2 521.6h1.8M122.4 507.0h1.8M83.9 458.5h1.8M60.1 436.9h1.8M84.2 442.9h1.8M94.9 473.2h1.8M44.4 499.7h1.8M84.4 479.4h1.8M74.4 490.3h1.8M86.0 465.7h1.8M69.7 437.9h1.8M48.4 464.6h1.8M93.4 525.9h1.8M89.9 524.9h1.8M61.0 526.8h1.8M53.7 486.3h1.8M106.0 456.7h1.8M76.7 527.7h1.8M103.9 482.8h1.8M28.2 460.5h1.8M100.2 480.1h1.8M59.6 444.9h1.8M72.0 481.0h1.8M42.6 470.4h1.8M42.8 465.3h1.8M96.2 493.4h1.8M81.7 463.4h1.8M69.8 441.4h1.8M37.6 504.3h1.8M74.6 486.4h1.8M75.4 508.5h1.8M107.1 508.7h1.8M118.3 505.6h1.8M89.8 525.9h1.8M77.2 536.1h1.8M101.3 516.3h1.8M63.8 459.3h1.8M80.6 531.3h1.8M59.2 470.0h1.8M46.5 481.4h1.8M99.7 446.0h1.8M110.9 510.1h1.8M62.4 464.3h1.8M79.8 472.7h1.8M112.0 505.6h1.8M72.9 463.0h1.8M40.3 504.4h1.8M53.8 499.3h1.8M61.2 438.7h1.8M81.4 523.8h1.8M52.7 496.8h1.8M36.1 483.3h1.8M101.2 454.3h1.8M45.6 464.3h1.8M66.6 506.2h1.8M41.4 496.9h1.8M103.6 492.4h1.8M59.6 442.1h1.8M61.4 530.3h1.8M68.1 464.3h1.8M40.7 467.2h1.8M79.0 507.4h1.8M101.9 500.2h1.8M33.6 492.5h1.8M104.2 488.0h1.8M62.3 444.5h1.8M79.4 477.1h1.8M56.4 509.7h1.8M93.9 488.8h1.8M75.5 490.6h1.8M77.2 520.3h1.8M95.8 490.4h1.8M89.9 469.4h1.8M46.4 499.7h1.8M85.5 472.3h1.8M30.0 460.7h1.8M84.3 475.5h1.8M92.6 473.9h1.8M76.5 486.9h1.8M87.8 439.4h1.8M42.8 498.9h1.8M81.4 524.6h1.8M100.2 478.1h1.8M91.0 443.0h1.8M89.5 477.2h1.8M55.5 467.9h1.8M28.5 464.4h1.8M110.6 512.5h1.8M77.1 501.4h1.8M87.0 445.6h1.8M58.6 447.4h1.8M41.8 505.4h1.8M86.3 439.2h1.8M74.2 509.6h1.8M84.4 512.9h1.8M74.7 486.2h1.8M75.2 509.2h1.8M76.5 470.5h1.8M80.4 496.8h1.8M75.2 471.0h1.8M60.4 482.7h1.8M47.4 469.9h1.8M80.2 480.4h1.8M57.6 490.7h1.8M83.4 509.6h1.8M63.7 466.9h1.8M103.0 506.0h1.8M116.0 491.1h1.8M43.0 503.9h1.8M91.9 500.0h1.8M93.4 466.6h1.8M43.4 481.6h1.8M35.4 463.5h1.8M81.9 523.0h1.8M87.0 457.8h1.8M88.0 489.1h1.8M28.7 460.4h1.8M120.9 493.8h1.8M65.0 538.1h1.8M90.9 481.1h1.8M79.2 435.9h1.8M74.3 524.2h1.8M86.6 484.3h1.8M103.9 524.3h1.8M92.8 506.3h1.8M69.4 438.8h1.8M85.5 529.5h1.8M64.4 487.2h1.8M45.3 503.5h1.8M84.8 489.5h1.8M49.9 478.4h1.8M64.3 510.7h1.8M40.0 464.7h1.8M62.0 527.2h1.8M59.9 440.5h1.8M72.7 458.6h1.8M83.1 470.8h1.8M74.9 524.9h1.8M92.4 469.9h1.8M56.2 451.3h1.8M43.1 476.6h1.8M47.7 461.1h1.8M27.8 492.5h1.8M40.8 470.8h1.8M75.3 488.8h1.8M66.1 448.4h1.8M47.1 506.4h1.8M45.6 499.3h1.8M79.8 471.0h1.8M60.2 462.3h1.8M105.0 498.6h1.8M65.8 528.5h1.8M105.0 500.5h1.8M75.0 488.9h1.8M78.5 479.6h1.8M55.2 504.7h1.8M39.0 474.5h1.8M54.8 499.4h1.8M68.7 482.8h1.8M38.9 462.5h1.8M88.7 524.7h1.8M63.4 440.5h1.8M63.1 507.7h1.8M84.8 476.0h1.8M91.1 480.9h1.8M81.0 491.3h1.8M77.4 510.5h1.8M41.8 501.3h1.8M50.3 461.5h1.8M79.7 486.1h1.8M40.5 466.3h1.8M78.3 493.4h1.8M87.4 462.6h1.8M45.6 499.1h1.8M111.1 484.8h1.8M67.7 471.3h1.8M119.5 505.5h1.8M69.6 533.4h1.8M93.9 489.0h1.8M52.5 463.0h1.8M98.0 487.6h1.8M67.1 471.2h1.8M80.8 499.1h1.8M83.6 487.8h1.8M85.8 440.8h1.8M65.7 532.2h1.8M63.7 480.2h1.8M73.0 479.7h1.8M41.3 463.2h1.8M58.0 473.1h1.8M100.6 482.3h1.8M55.9 456.2h1.8M89.9 466.9h1.8M64.7 475.3h1.8M60.5 461.9h1.8M46.8 499.7h1.8M62.4 444.4h1.8M40.7 460.8h1.8M63.7 522.4h1.8M51.7 502.0h1.8M100.5 517.0h1.8M88.1 461.5h1.8M61.6 476.6h1.8M105.5 465.7h1.8M75.4 440.8h1.8M118.5 488.0h1.8M74.6 505.4h1.8M92.2 446.8h1.8M49.6 465.0h1.8M77.4 528.4h1.8M87.1 510.7h1.8M63.1 444.7h1.8M84.4 489.9h1.8M68.6 484.7h1.8M80.9 464.7h1.8M70.0 470.7h1.8M106.1 503.1h1.8M90.4 514.7h1.8M48.3 448.8h1.8M93.1 442.7h1.8M105.0 491.2h1.8M94.4 513.1h1.8M88.1 436.9h1.8M44.0 502.7h1.8M65.2 528.3h1.8M46.1 498.6h1.8M64.1 437.9h1.8M90.7 488.9h1.8M75.5 494.9h1.8M74.6 500.1h1.8M83.3 495.1h1.8M53.1 458.3h1.8M108.2 510.6h1.8M39.4 502.4h1.8M68.8 529.9h1.8M85.2 492.0h1.8M49.5 461.7h1.8M70.6 521.9h1.8M96.4 448.0h1.8M69.4 492.2h1.8M52.3 495.0h1.8M92.1 440.7h1.8M36.0 495.0h1.8M70.5 444.4h1.8M96.7 530.5h1.8M89.1 473.8h1.8M63.0 519.8h1.8M118.6 505.4h1.8M93.2 453.5h1.8M51.7 459.8h1.8M89.5 480.7h1.8M83.7 469.5h1.8M33.4 468.8h1.8M91.4 477.1h1.8M67.8 518.9h1.8M90.9 448.9h1.8M79.9 522.9h1.8M93.5 484.1h1.8M65.3 460.7h1.8M45.4 498.4h1.8M76.0 478.1h1.8M102.3 488.5h1.8M98.0 445.2h1.8M47.1 456.4h1.8M58.5 485.3h1.8M88.3 458.9h1.8M82.9 484.9h1.8M108.1 502.2h1.8M36.8 461.6h1.8M56.4 483.7h1.8M101.9 444.7h1.8M65.2 473.2h1.8M81.2 450.2h1.8M53.5 490.9h1.8M80.9 512.5h1.8M66.2 487.8h1.8M30.1 468.9h1.8M56.8 483.7h1.8M52.9 459.7h1.8M67.8 519.3h1.8M95.8 466.9h1.8M84.2 494.0h1.8M83.4 441.5h1.8M79.9 478.6h1.8M106.4 501.2h1.8M39.4 469.4h1.8M81.6 477.2h1.8M66.0 526.0h1.8M44.7 468.4h1.8M72.7 493.4h1.8M94.0 490.6h1.8M90.2 525.0h1.8M92.9 451.4h1.8M69.3 487.0h1.8M67.4 440.4h1.8M31.0 493.4h1.8M74.7 520.9h1.8M92.9 510.3h1.8M87.6 473.2h1.8M43.0 467.5h1.8M25.6 482.0h1.8M83.6 481.8h1.8M99.8 482.8h1.8M114.6 504.6h1.8M71.8 464.6h1.8M46.8 470.9h1.8M92.0 472.8h1.8M102.4 500.8h1.8M60.1 503.2h1.8M61.0 526.1h1.8M65.5 476.4h1.8M87.0 497.9h1.8M102.9 465.6h1.8M114.5 499.5h1.8M72.2 533.8h1.8M30.6 488.8h1.8M92.7 488.7h1.8M104.8 489.0h1.8M33.3 464.9h1.8M50.2 506.6h1.8M65.4 467.5h1.8M56.5 443.7h1.8M69.2 492.9h1.8M58.9 504.5h1.8M82.8 484.0h1.8M103.6 450.8h1.8M60.0 492.8h1.8M87.7 442.5h1.8M59.8 459.6h1.8M96.3 479.2h1.8M86.7 442.1h1.8M71.3 444.2h1.8M50.9 500.7h1.8M82.9 508.7h1.8M100.0 474.1h1.8M60.5 447.8h1.8M93.7 456.9h1.8M52.0 503.4h1.8M58.6 442.1h1.8M47.4 457.4h1.8M57.6 443.8h1.8M64.4 480.5h1.8M78.3 463.5h1.8M51.3 489.6h1.8M63.3 463.4h1.8M74.6 496.5h1.8M74.0 441.3h1.8M51.9 501.9h1.8M83.0 531.6h1.8M52.1 465.6h1.8M46.0 507.7h1.8M75.5 483.6h1.8M29.4 470.3h1.8M66.6 441.0h1.8M63.7 516.0h1.8M92.4 470.1h1.8M93.8 473.6h1.8M101.0 449.9h1.8M83.6 441.5h1.8M90.0 518.5h1.8M61.5 487.8h1.8M68.4 489.2h1.8M55.3 454.4h1.8M108.2 481.3h1.8M73.6 444.6h1.8M101.5 502.3h1.8M91.8 477.7h1.8M91.5 492.8h1.8M82.8 442.9h1.8M107.9 502.8h1.8M86.3 488.5h1.8M101.2 442.3h1.8M87.2 511.2h1.8M89.0 498.4h1.8M43.9 469.7h1.8M75.7 475.0h1.8M59.7 467.8h1.8M90.5 483.6h1.8M78.9 526.2h1.8M83.2 467.3h1.8M92.4 445.8h1.8M89.7 487.5h1.8M45.8 503.2h1.8M75.5 458.2h1.8M111.5 478.3h1.8M45.9 498.7h1.8M96.4 478.8h1.8M81.4 441.7h1.8M74.8 483.4h1.8M72.4 466.9h1.8M67.7 437.8h1.8M89.1 438.5h1.8M96.6 493.7h1.8M30.8 483.5h1.8M100.0 444.9h1.8M86.7 531.7h1.8M74.2 443.7h1.8M111.5 499.6h1.8M71.3 503.9h1.8M103.2 484.7h1.8M72.5 513.4h1.8M76.7 479.5h1.8M120.0 494.7h1.8M48.7 475.5h1.8M65.4 531.2h1.8M67.2 500.0h1.8M34.7 478.5h1.8M113.2 499.6h1.8M70.6 474.5h1.8M87.3 522.2h1.8M77.5 437.4h1.8M51.7 496.1h1.8M70.0 487.9h1.8M76.9 508.5h1.8M80.1 503.9h1.8M39.4 473.1h1.8M71.3 473.3h1.8M39.9 461.3h1.8M84.6 521.1h1.8M76.5 442.5h1.8M41.9 503.3h1.8M61.3 523.1h1.8M88.6 526.2h1.8M106.2 508.8h1.8M110.5 508.9h1.8M98.8 453.2h1.8M80.0 463.5h1.8M63.4 466.8h1.8M91.7 474.3h1.8M43.2 470.4h1.8M90.8 522.7h1.8M35.2 471.2h1.8M54.6 470.9h1.8M32.1 463.1h1.8M80.3 529.8h1.8M56.7 450.8h1.8M102.3 484.9h1.8M42.9 504.9h1.8M95.4 532.8h1.8M99.8 457.7h1.8M71.9 470.4h1.8M74.7 518.2h1.8M84.0 496.1h1.8M31.6 484.4h1.8M108.3 514.4h1.8M80.7 521.5h1.8M80.3 457.9h1.8M75.6 533.3h1.8M72.6 536.3h1.8M91.9 480.3h1.8M47.4 504.6h1.8M96.0 459.7h1.8M80.6 481.3h1.8M82.4 469.5h1.8M114.3 507.6h1.8M87.2 514.9h1.8M65.9 463.8h1.8M81.0 515.2h1.8M93.0 512.9h1.8M80.9 494.8h1.8M84.8 483.3h1.8M95.4 498.8h1.8M108.4 469.6h1.8M87.6 480.1h1.8M81.2 515.4h1.8M45.8 463.7h1.8M46.7 504.6h1.8M45.7 456.4h1.8M80.3 512.1h1.8M65.8 476.3h1.8M63.8 535.6h1.8M77.4 495.9h1.8M90.2 481.6h1.8M92.3 453.3h1.8M32.3 485.2h1.8M89.0 438.9h1.8M39.9 499.3h1.8M112.2 498.5h1.8M65.6 470.1h1.8M66.7 524.7h1.8M56.8 495.8h1.8M86.1 473.0h1.8M69.8 441.4h1.8M82.0 481.3h1.8M69.5 527.8h1.8M101.3 455.7h1.8M37.4 486.6h1.8M48.8 487.5h1.8M64.6 465.9h1.8M59.7 444.9h1.8M107.1 498.5h1.8M57.8 472.0h1.8M91.6 456.1h1.8M45.4 466.5h1.8M82.6 526.3h1.8M91.8 467.9h1.8M95.3 497.6h1.8M101.5 487.2h1.8M53.4 467.6h1.8M48.8 477.3h1.8M36.3 502.7h1.8M84.1 445.8h1.8M51.2 476.3h1.8M114.2 498.8h1.8M42.1 465.7h1.8M32.8 493.9h1.8M88.0 450.5h1.8M101.7 486.3h1.8M48.1 501.5h1.8M43.8 497.4h1.8M60.1 502.6h1.8M74.5 481.9h1.8M86.5 437.8h1.8M119.8 500.7h1.8M78.0 484.6h1.8M68.0 530.1h1.8M83.5 441.0h1.8M78.6 491.5h1.8M99.5 443.7h1.8M84.2 465.2h1.8M65.2 536.6h1.8M93.5 443.4h1.8M85.5 477.7h1.8M62.6 523.1h1.8M73.8 477.6h1.8M67.5 526.8h1.8M80.3 483.5h1.8M96.7 447.1h1.8M79.7 521.1h1.8M86.2 480.0h1.8M41.8 500.7h1.8M108.1 501.5h1.8M95.2 456.6h1.8M49.2 465.6h1.8M32.9 465.2h1.8M85.4 471.7h1.8M42.4 438.5h1.8M76.9 452.3h1.8M68.8 497.6h1.8M96.7 481.8h1.8M86.2 451.2h1.8M69.7 480.5h1.8M84.3 496.9h1.8M74.8 489.1h1.8M94.5 443.5h1.8M67.6 478.5h1.8M83.9 477.6h1.8M59.2 450.3h1.8M69.5 472.8h1.8M72.5 515.8h1.8M70.6 524.3h1.8M67.1 468.4h1.8M119.4 496.4h1.8M111.6 498.2h1.8M31.6 460.4h1.8M53.8 508.1h1.8M54.9 469.3h1.8M58.1 507.7h1.8M53.5 452.5h1.8M53.6 504.0h1.8M96.8 489.3h1.8M36.7 464.1h1.8M63.5 509.7h1.8M102.4 467.9h1.8M71.2 483.9h1.8M58.5 520.2h1.8M81.5 479.5h1.8M53.8 477.7h1.8M32.7 463.1h1.8M102.0 503.6h1.8M78.4 462.6h1.8M76.6 499.7h1.8M90.7 477.8h1.8M45.2 465.7h1.8M69.0 482.5h1.8M77.3 475.3h1.8M58.5 449.6h1.8M104.5 495.1h1.8M42.2 500.1h1.8M87.2 443.7h1.8M67.7 481.9h1.8M69.7 486.7h1.8M48.6 455.4h1.8M56.4 490.3h1.8M92.5 488.0h1.8M64.6 524.0h1.8M63.8 486.9h1.8M95.8 451.0h1.8M44.7 500.4h1.8M46.1 462.1h1.8M81.2 470.5h1.8M97.8 494.9h1.8M72.8 516.7h1.8M106.8 484.5h1.8M76.5 479.7h1.8M72.0 522.0h1.8M70.8 437.5h1.8M72.9 492.7h1.8M43.2 474.7h1.8M67.8 509.9h1.8M77.6 490.4h1.8M77.0 496.2h1.8M40.9 460.4h1.8M68.7 475.2h1.8M63.5 482.4h1.8M87.8 490.7h1.8M99.3 484.6h1.8M67.3 473.9h1.8M102.5 507.0h1.8M71.2 467.2h1.8M49.6 500.7h1.8M84.8 528.8h1.8M89.7 489.7h1.8M70.0 523.8h1.8M60.9 481.0h1.8M44.0 501.6h1.8M39.0 476.7h1.8M74.3 516.5h1.8M50.0 501.5h1.8M98.0 493.0h1.8M38.0 472.1h1.8M46.4 449.1h1.8M79.2 526.6h1.8M40.3 489.2h1.8M104.2 474.5h1.8M78.3 474.2h1.8M100.8 488.3h1.8M52.4 508.4h1.8M89.5 469.3h1.8M95.1 491.3h1.8M114.2 496.5h1.8M52.1 467.8h1.8M74.5 503.6h1.8M59.1 468.0h1.8M111.1 466.5h1.8M66.0 522.9h1.8M102.5 485.3h1.8M53.2 497.6h1.8M31.8 466.5h1.8M73.1 505.8h1.8M78.2 492.1h1.8M80.1 521.6h1.8M91.4 482.6h1.8M76.7 522.7h1.8M73.2 475.2h1.8M77.7 530.6h1.8M56.8 499.3h1.8M49.2 457.8h1.8M44.9 477.1h1.8M76.0 473.6h1.8M96.5 488.6h1.8M72.6 439.4h1.8M97.4 482.3h1.8M94.9 443.6h1.8M28.7 463.0h1.8M56.5 464.1h1.8M72.6 514.2h1.8M83.6 494.3h1.8M84.8 443.1h1.8M103.1 467.4h1.8M49.1 503.2h1.8M67.1 534.3h1.8M28.0 484.7h1.8M98.5 487.5h1.8M103.8 503.5h1.8M87.6 436.3h1.8M86.6 523.3h1.8M71.8 502.9h1.8M74.2 480.2h1.8M41.3 463.3h1.8M55.4 471.5h1.8M57.9 465.1h1.8M90.4 443.6h1.8M120.7 506.1h1.8M69.8 484.2h1.8M25.4 466.1h1.8M76.7 506.0h1.8M36.2 492.5h1.8M83.4 472.8h1.8M54.6 462.9h1.8M48.6 497.1h1.8M79.9 509.6h1.8M95.5 450.0h1.8M64.2 466.3h1.8M94.2 506.7h1.8M38.4 469.0h1.8M73.4 444.6h1.8M82.9 523.5h1.8M119.8 505.4h1.8M74.6 477.7h1.8M81.5 444.9h1.8M90.0 450.0h1.8M93.7 475.2h1.8M81.5 475.2h1.8M48.1 469.5h1.8M63.0 524.7h1.8M75.6 484.4h1.8M62.0 437.8h1.8M90.9 518.5h1.8M94.3 455.7h1.8M98.5 490.2h1.8M28.4 470.8h1.8M58.9 457.5h1.8M58.6 488.3h1.8M50.9 498.6h1.8M88.7 521.0h1.8M60.8 489.6h1.8M94.4 509.9h1.8M88.9 519.7h1.8M83.3 476.3h1.8M32.5 463.4h1.8M71.1 468.2h1.8M73.2 495.4h1.8M93.2 439.7h1.8M101.8 489.1h1.8M91.0 526.8h1.8M86.9 482.3h1.8M105.5 468.2h1.8M54.2 443.1h1.8M49.2 456.8h1.8M56.0 497.8h1.8M85.8 524.0h1.8M47.5 451.8h1.8M93.9 520.5h1.8M79.5 484.8h1.8M82.6 477.6h1.8M94.8 475.5h1.8M40.3 458.4h1.8M35.7 468.6h1.8M33.8 463.6h1.8M99.8 495.6h1.8M76.2 489.9h1.8M40.0 458.9h1.8M80.7 451.6h1.8M59.5 528.2h1.8M71.1 520.4h1.8M116.6 497.2h1.8M42.7 502.2h1.8M70.5 443.3h1.8M88.0 446.2h1.8M40.9 471.5h1.8M94.5 488.6h1.8M39.7 469.0h1.8M58.5 503.7h1.8M48.3 464.9h1.8M44.2 463.2h1.8M77.0 469.2h1.8M40.4 484.5h1.8M41.8 501.6h1.8M72.4 489.6h1.8M74.4 513.0h1.8M90.4 491.8h1.8M66.9 464.1h1.8M94.7 499.2h1.8M36.9 471.0h1.8M92.4 484.6h1.8M94.6 537.0h1.8M82.0 442.1h1.8M45.3 501.5h1.8M102.9 482.0h1.8M100.2 494.2h1.8M77.3 446.9h1.8M79.4 503.0h1.8M42.9 500.3h1.8M98.0 507.8h1.8M95.8 521.0h1.8M77.5 465.5h1.8M92.7 480.3h1.8M90.0 538.9h1.8M40.8 508.1h1.8M78.4 520.3h1.8M66.3 472.4h1.8M34.4 463.3h1.8M74.9 474.2h1.8M42.4 456.1h1.8M96.9 451.0h1.8M76.9 540.7h1.8M80.3 505.7h1.8M78.4 528.8h1.8M108.2 500.0h1.8M96.5 492.8h1.8M69.5 534.8h1.8M63.1 442.8h1.8M39.7 452.7h1.8M88.2 519.2h1.8M87.6 518.2h1.8M94.7 441.6h1.8M47.0 504.4h1.8M84.0 483.8h1.8M66.9 484.1h1.8M42.3 461.3h1.8M29.7 467.4h1.8M103.0 495.3h1.8M46.2 498.4h1.8M93.7 484.3h1.8M52.7 472.5h1.8M88.8 450.6h1.8M100.0 449.9h1.8M78.0 483.8h1.8M122.1 506.0h1.8M99.6 456.0h1.8M80.8 472.3h1.8M60.1 441.2h1.8M102.8 492.8h1.8M107.3 510.7h1.8M109.9 480.0h1.8M75.7 488.1h1.8M60.1 498.4h1.8M115.5 500.3h1.8M71.7 461.9h1.8M93.2 439.0h1.8M92.0 530.3h1.8M65.9 524.1h1.8M53.0 456.8h1.8M61.2 487.2h1.8M78.4 479.0h1.8M83.3 521.9h1.8M69.0 517.8h1.8M99.0 458.5h1.8M66.4 518.7h1.8M76.2 482.4h1.8M91.1 486.6h1.8M66.7 499.1h1.8M80.7 451.6h1.8M56.5 451.3h1.8M55.9 486.3h1.8M83.5 482.3h1.8M82.9 489.5h1.8M113.3 505.6h1.8M81.4 483.9h1.8M78.1 517.9h1.8M74.5 487.0h1.8M75.7 476.0h1.8M60.8 483.5h1.8M78.2 489.8h1.8M89.1 471.6h1.8M40.0 502.6h1.8M69.7 505.8h1.8M85.5 456.9h1.8M75.1 521.0h1.8M46.8 510.4h1.8M42.6 475.8h1.8M94.8 457.5h1.8M46.0 501.1h1.8M101.5 487.1h1.8M83.3 528.2h1.8M104.4 485.7h1.8M57.6 474.4h1.8M76.8 505.0h1.8M88.0 442.2h1.8M93.7 527.5h1.8M80.2 522.9h1.8M87.7 465.1h1.8M44.6 475.6h1.8M76.4 505.2h1.8M60.3 527.4h1.8M96.9 486.9h1.8M89.5 468.0h1.8M30.5 489.9h1.8M109.2 481.0h1.8M110.0 481.4h1.8M103.5 455.0h1.8M118.5 502.7h1.8M76.0 502.2h1.8M81.9 521.0h1.8M58.2 465.1h1.8M81.2 504.7h1.8M44.6 481.9h1.8M37.4 463.4h1.8M81.2 528.7h1.8M53.6 503.2h1.8M71.0 493.4h1.8M86.8 538.8h1.8M63.7 528.3h1.8M46.4 500.8h1.8M60.5 480.8h1.8M74.4 533.7h1.8M73.4 495.8h1.8M47.1 467.7h1.8M59.2 485.2h1.8M53.1 504.7h1.8M59.7 478.5h1.8M64.4 509.9h1.8M68.9 483.2h1.8M61.8 456.7h1.8M74.3 480.2h1.8M67.8 488.4h1.8M71.5 466.0h1.8M100.2 491.3h1.8M77.9 485.4h1.8M70.4 467.5h1.8M84.7 442.1h1.8M110.6 500.5h1.8M62.6 504.2h1.8M50.7 473.7h1.8M70.7 510.2h1.8M69.5 493.9h1.8M84.1 447.8h1.8M107.1 501.0h1.8M77.3 437.5h1.8M55.0 471.2h1.8M87.9 487.0h1.8M87.3 534.4h1.8M108.8 479.8h1.8M66.2 464.9h1.8M47.7 503.0h1.8M51.1 479.0h1.8M64.1 437.5h1.8M40.4 502.8h1.8M88.4 492.4h1.8M67.7 486.5h1.8M73.3 522.3h1.8M88.7 510.7h1.8M78.9 493.2h1.8M66.7 442.2h1.8M54.6 476.3h1.8M89.9 447.6h1.8M43.9 465.5h1.8M81.0 516.1h1.8M81.8 437.0h1.8M74.6 480.8h1.8M67.8 522.2h1.8M37.8 505.8h1.8M81.6 492.3h1.8M57.1 473.7h1.8M91.2 455.1h1.8M50.0 448.7h1.8M69.4 480.2h1.8M32.4 466.6h1.8M90.0 446.1h1.8M83.0 510.4h1.8M72.1 504.5h1.8M109.0 511.2h1.8M54.5 497.5h1.8M73.1 483.8h1.8M60.9 480.4h1.8M51.8 472.1h1.8M82.8 512.6h1.8M65.6 435.8h1.8M62.3 440.9h1.8M114.3 494.2h1.8M68.9 486.5h1.8M62.2 440.7h1.8M77.6 442.6h1.8M84.9 473.2h1.8M68.4 474.9h1.8M70.4 473.7h1.8M76.4 483.7h1.8M101.9 484.4h1.8M70.0 488.9h1.8M45.3 469.5h1.8M90.8 452.9h1.8M32.6 473.5h1.8M82.5 484.7h1.8M94.4 492.1h1.8M86.1 441.7h1.8M91.1 515.2h1.8M103.1 489.3h1.8M103.1 452.5h1.8M36.9 457.6h1.8M87.9 444.4h1.8M80.8 478.2h1.8M64.1 481.3h1.8M47.3 473.9h1.8M51.3 501.2h1.8M39.0 506.3h1.8M53.9 478.2h1.8M63.3 438.9h1.8M87.3 483.6h1.8M62.4 474.0h1.8M49.0 456.9h1.8M118.5 494.2h1.8M97.4 451.1h1.8M58.3 443.0h1.8M56.2 477.8h1.8M81.8 492.5h1.8M105.3 488.1h1.8M66.0 465.3h1.8M91.5 491.1h1.8M84.2 437.6h1.8M95.9 461.8h1.8M105.4 476.7h1.8M67.2 486.5h1.8M48.3 500.2h1.8M75.1 532.1h1.8M97.9 463.8h1.8M76.3 495.8h1.8M74.6 459.6h1.8M90.2 444.6h1.8M93.7 458.9h1.8M94.2 458.6h1.8M90.7 442.9h1.8M39.1 503.6h1.8M39.1 475.0h1.8M77.2 483.3h1.8M44.3 499.4h1.8M79.6 500.0h1.8M77.3 495.9h1.8M80.8 521.7h1.8M116.5 506.2h1.8M78.7 510.9h1.8M58.4 499.2h1.8M86.2 436.6h1.8M79.7 501.7h1.8M50.1 475.4h1.8M38.7 457.8h1.8M98.7 487.0h1.8M81.6 528.3h1.8M94.0 449.5h1.8M34.4 491.8h1.8M68.1 516.3h1.8M85.8 467.3h1.8M68.1 442.8h1.8M36.0 479.7h1.8M56.9 474.3h1.8M79.8 486.2h1.8M65.7 528.7h1.8M83.3 498.3h1.8M33.1 497.6h1.8M88.3 486.8h1.8M87.2 445.1h1.8M76.0 535.3h1.8M71.5 498.1h1.8M40.7 465.1h1.8M80.1 467.8h1.8M101.2 455.5h1.8M88.4 445.6h1.8M63.5 458.7h1.8M82.7 504.2h1.8M54.5 499.4h1.8M90.8 478.7h1.8M82.4 476.4h1.8M72.9 507.4h1.8M75.1 536.1h1.8M56.5 453.6h1.8M104.8 503.8h1.8M75.5 488.1h1.8M101.9 484.7h1.8M91.1 530.1h1.8M104.0 492.6h1.8M96.5 532.1h1.8M44.1 495.4h1.8M88.3 472.5h1.8M34.8 457.8h1.8M85.7 474.3h1.8M36.2 455.5h1.8M50.8 444.8h1.8M49.5 504.6h1.8M123.3 502.6h1.8M50.5 506.0h1.8M48.9 467.1h1.8M50.8 503.2h1.8M84.3 443.6h1.8M91.8 493.4h1.8M85.5 441.1h1.8M108.2 508.3h1.8M76.8 533.1h1.8M66.4 506.9h1.8M48.5 455.3h1.8M42.7 498.2h1.8M84.7 491.0h1.8M64.7 520.2h1.8M103.3 447.9h1.8M90.9 444.3h1.8M70.1 490.9h1.8M85.8 494.2h1.8M71.6 525.7h1.8M81.6 530.8h1.8M76.8 467.7h1.8M88.7 460.7h1.8M115.5 506.5h1.8M98.8 459.4h1.8M40.5 500.9h1.8M85.3 485.1h1.8M57.4 443.9h1.8M52.4 504.8h1.8M82.9 508.1h1.8M94.7 441.5h1.8M49.8 468.6h1.8M70.5 473.9h1.8M106.6 476.6h1.8M71.8 469.4h1.8M69.7 500.1h1.8M60.6 508.3h1.8M104.7 482.8h1.8M78.1 503.6h1.8M64.8 486.2h1.8M86.9 443.9h1.8M70.0 461.3h1.8M40.9 504.6h1.8M85.0 435.2h1.8M91.2 458.7h1.8M92.7 443.9h1.8M74.6 517.4h1.8M87.7 480.1h1.8M99.5 449.9h1.8M71.4 492.3h1.8M55.9 461.4h1.8M88.2 445.8h1.8M89.9 453.7h1.8M73.7 527.4h1.8M57.1 462.4h1.8M101.9 473.9h1.8M95.8 447.9h1.8M73.2 489.2h1.8M79.5 533.8h1.8M61.9 459.3h1.8M41.6 479.8h1.8M60.7 488.5h1.8M95.2 446.8h1.8M87.2 479.4h1.8M109.0 487.4h1.8M73.2 497.4h1.8M99.7 454.4h1.8M74.8 510.9h1.8M42.6 500.1h1.8M51.2 475.1h1.8M42.9 467.5h1.8M45.9 498.3h1.8M77.3 443.5h1.8M89.0 455.9h1.8M43.4 455.6h1.8M74.2 536.0h1.8M100.5 444.5h1.8M83.1 444.6h1.8M90.1 456.0h1.8M63.1 450.9h1.8M92.9 440.1h1.8M93.4 491.9h1.8M60.9 485.0h1.8M59.1 437.8h1.8M70.1 534.2h1.8M64.4 440.5h1.8M109.4 505.0h1.8M80.0 487.0h1.8M63.5 518.6h1.8M42.8 470.9h1.8M103.7 455.2h1.8M39.2 464.8h1.8M120.6 504.6h1.8M84.9 489.8h1.8M60.6 472.7h1.8M75.0 490.8h1.8M88.6 464.2h1.8M88.8 486.1h1.8M79.1 526.6h1.8M89.5 501.2h1.8M40.9 462.8h1.8M82.6 488.0h1.8M45.0 498.1h1.8M71.8 457.4h1.8M93.3 482.0h1.8M94.8 492.8h1.8M37.7 462.8h1.8M85.5 522.2h1.8M87.0 493.3h1.8M67.2 540.2h1.8M108.3 499.6h1.8M38.2 458.0h1.8M67.8 506.3h1.8M36.9 455.7h1.8M79.5 533.6h1.8M95.8 462.4h1.8M52.1 502.6h1.8M65.3 440.9h1.8M94.5 481.3h1.8M41.1 452.7h1.8M81.7 526.7h1.8M85.5 485.0h1.8M79.0 488.2h1.8M89.8 519.2h1.8M70.1 511.8h1.8M59.0 501.8h1.8M59.8 505.6h1.8M119.7 488.7h1.8M85.8 439.6h1.8M76.2 525.5h1.8M90.0 514.8h1.8M31.9 484.6h1.8M45.2 465.9h1.8M88.4 443.5h1.8M85.5 491.3h1.8M96.2 448.3h1.8M53.1 502.1h1.8M86.7 488.6h1.8M34.7 467.4h1.8M105.1 455.0h1.8M101.9 477.1h1.8M82.1 521.5h1.8M38.9 457.3h1.8M95.7 453.7h1.8M83.9 445.8h1.8M67.4 444.8h1.8M60.3 441.7h1.8M85.3 467.4h1.8M89.7 476.4h1.8M104.1 451.9h1.8M105.4 500.5h1.8M60.1 530.8h1.8M81.7 478.2h1.8M102.7 485.0h1.8M82.4 445.2h1.8M77.9 478.6h1.8M76.4 532.8h1.8M96.9 487.6h1.8M85.0 469.4h1.8M60.2 521.9h1.8M75.3 444.8h1.8M81.2 489.7h1.8M50.9 501.1h1.8M100.8 456.8h1.8M59.7 500.3h1.8M55.6 447.2h1.8M52.8 464.5h1.8M92.0 479.8h1.8M57.3 478.5h1.8M94.9 515.0h1.8M95.1 533.7h1.8M43.9 492.6h1.8M82.2 492.7h1.8M28.9 474.1h1.8M84.5 469.6h1.8M81.9 477.2h1.8M74.2 506.6h1.8M95.0 506.2h1.8M76.7 485.8h1.8M66.4 538.0h1.8M62.4 455.3h1.8M53.6 464.2h1.8M90.2 483.4h1.8M67.1 484.5h1.8M67.5 456.5h1.8M87.6 447.6h1.8M43.0 459.3h1.8M77.9 503.4h1.8M56.4 469.7h1.8M71.1 475.1h1.8M123.9 503.6h1.8M89.9 539.3h1.8M76.3 504.0h1.8M50.5 470.9h1.8M128.1 501.2h1.8M99.3 462.6h1.8M76.2 521.4h1.8M44.3 470.4h1.8M101.3 450.5h1.8M94.9 486.0h1.8M84.6 495.0h1.8M87.9 490.7h1.8M74.6 476.6h1.8M81.8 539.0h1.8M55.0 487.1h1.8M105.1 487.6h1.8M96.6 453.0h1.8M77.3 521.9h1.8M73.2 478.8h1.8M58.4 438.6h1.8M96.2 475.4h1.8M56.4 495.4h1.8M52.3 441.5h1.8M118.3 506.0h1.8M85.4 485.2h1.8M82.9 475.8h1.8M98.4 519.3h1.8M80.6 500.0h1.8M65.2 525.6h1.8M75.9 490.2h1.8M86.0 499.4h1.8M72.2 443.6h1.8M87.2 442.1h1.8M39.5 465.5h1.8M67.4 459.6h1.8M37.8 507.0h1.8M69.8 486.9h1.8M67.9 503.8h1.8M83.5 472.6h1.8M51.4 502.8h1.8M68.1 526.5h1.8M85.3 467.4h1.8M83.2 457.5h1.8M79.8 527.1h1.8M87.5 445.6h1.8M87.7 485.3h1.8M79.0 493.3h1.8M91.8 511.9h1.8M45.3 499.7h1.8M44.2 492.9h1.8M70.5 441.0h1.8M42.7 461.2h1.8M48.7 469.5h1.8M80.4 491.3h1.8M86.7 486.3h1.8M56.6 472.9h1.8M39.9 464.7h1.8M89.3 437.0h1.8M56.0 509.6h1.8M106.4 475.3h1.8M90.0 530.6h1.8M76.3 527.2h1.8M100.6 490.2h1.8M90.9 492.0h1.8M80.4 495.1h1.8M102.0 513.3h1.8M40.4 473.4h1.8M68.1 443.7h1.8M69.9 503.6h1.8M75.4 523.2h1.8M97.3 497.4h1.8M53.8 504.9h1.8M67.4 514.1h1.8M51.1 472.2h1.8M86.8 448.0h1.8M73.4 498.6h1.8M96.8 486.4h1.8M39.0 465.7h1.8M69.7 535.6h1.8M87.9 480.3h1.8M76.0 492.7h1.8M40.7 465.9h1.8M52.8 452.5h1.8M103.8 486.0h1.8M72.9 443.5h1.8M65.0 523.2h1.8M84.5 520.3h1.8M73.8 460.3h1.8M96.2 503.5h1.8M51.3 457.5h1.8M72.5 483.2h1.8M59.8 520.3h1.8M61.9 484.7h1.8M36.9 466.0h1.8M66.7 465.7h1.8M32.0 469.0h1.8M103.4 479.1h1.8M54.6 438.6h1.8M66.6 463.5h1.8M96.1 443.9h1.8M43.9 503.2h1.8M64.9 442.8h1.8M52.5 472.4h1.8M93.2 456.6h1.8M54.1 493.1h1.8M72.9 501.9h1.8M95.8 446.7h1.8M98.6 475.6h1.8M41.7 472.2h1.8M99.5 484.0h1.8M31.8 462.4h1.8M111.8 503.9h1.8M75.7 475.7h1.8M93.0 460.5h1.8M112.1 485.6h1.8M35.3 467.4h1.8M44.1 466.5h1.8M88.1 476.6h1.8M53.9 500.8h1.8M96.2 444.3h1.8M66.0 452.1h1.8M106.9 483.9h1.8M50.3 460.0h1.8M76.0 506.7h1.8M68.4 510.9h1.8M76.0 493.5h1.8M60.3 529.6h1.8M34.3 481.7h1.8M43.9 461.4h1.8M71.6 491.5h1.8M106.4 468.6h1.8M83.8 495.6h1.8M110.4 504.9h1.8M91.3 442.9h1.8M87.5 522.2h1.8M78.9 461.1h1.8M36.3 457.1h1.8M57.9 459.5h1.8M51.8 504.1h1.8M53.0 480.7h1.8M88.6 530.6h1.8M67.4 484.0h1.8M75.0 521.4h1.8M85.0 490.1h1.8M65.2 509.8h1.8M84.6 491.3h1.8M57.2 521.8h1.8M91.2 447.6h1.8M60.6 509.4h1.8M102.0 510.4h1.8M58.7 505.4h1.8M64.1 460.8h1.8M39.9 468.7h1.8M92.4 510.9h1.8M97.0 494.0h1.8M77.6 440.7h1.8M99.9 502.3h1.8M91.0 485.4h1.8M56.4 498.9h1.8M85.1 489.7h1.8M36.9 481.1h1.8M71.6 531.0h1.8M102.6 480.9h1.8M83.5 491.3h1.8M73.7 522.4h1.8M93.2 490.7h1.8M85.9 474.2h1.8M92.5 456.0h1.8M43.0 463.5h1.8M45.4 501.5h1.8M49.4 496.6h1.8M47.4 469.0h1.8M101.9 446.8h1.8M68.3 484.9h1.8M45.0 504.3h1.8M63.9 478.4h1.8M41.5 452.5h1.8M47.5 451.9h1.8M98.9 501.7h1.8M92.8 468.9h1.8M62.5 441.9h1.8M74.8 485.9h1.8M63.9 438.9h1.8M76.1 522.2h1.8M52.0 502.7h1.8M79.4 447.1h1.8M121.9 510.0h1.8M77.6 465.9h1.8M94.9 455.9h1.8M58.9 498.0h1.8M83.4 471.1h1.8M46.6 456.4h1.8M88.9 468.6h1.8M44.1 461.1h1.8M36.6 467.5h1.8M103.2 493.5h1.8M84.1 444.9h1.8M78.4 513.9h1.8M106.0 494.6h1.8M35.6 494.1h1.8M50.7 447.9h1.8M80.8 487.8h1.8M48.3 473.9h1.8M74.5 497.3h1.8M80.1 514.0h1.8M61.6 469.5h1.8M62.5 483.4h1.8M79.7 533.4h1.8M70.2 460.1h1.8M56.2 456.1h1.8M100.3 484.9h1.8M102.2 490.9h1.8M43.3 505.8h1.8M103.9 490.3h1.8M74.3 515.7h1.8M62.6 444.8h1.8M55.1 504.3h1.8M57.8 507.5h1.8M41.1 461.0h1.8M44.3 504.0h1.8M101.9 484.0h1.8M83.3 528.5h1.8M89.3 499.6h1.8M82.4 523.3h1.8M82.7 478.6h1.8M96.8 451.1h1.8M52.6 440.7h1.8M101.2 481.1h1.8M108.4 483.9h1.8M106.2 487.2h1.8M67.3 466.3h1.8M98.5 484.2h1.8M92.8 449.4h1.8M70.0 445.0h1.8M88.8 452.2h1.8M96.8 532.3h1.8M81.2 476.5h1.8M86.3 441.5h1.8M83.8 537.5h1.8M46.0 464.7h1.8M88.6 445.5h1.8M64.5 485.3h1.8M63.0 490.9h1.8M106.3 508.2h1.8M80.5 471.4h1.8M66.8 463.7h1.8M38.4 466.2h1.8M78.8 471.5h1.8M56.8 450.1h1.8M103.8 482.8h1.8M92.0 488.6h1.8M62.8 523.5h1.8M100.7 482.7h1.8M62.6 445.1h1.8M54.7 459.6h1.8M72.5 513.0h1.8M96.8 475.8h1.8M76.2 491.7h1.8M90.9 463.8h1.8M67.4 534.9h1.8M99.4 486.2h1.8M59.5 528.6h1.8M55.9 462.4h1.8M35.8 456.0h1.8M37.6 501.4h1.8M98.7 488.5h1.8M89.3 491.8h1.8M42.0 466.1h1.8M90.6 486.6h1.8M105.7 453.1h1.8M100.6 443.3h1.8M83.2 536.5h1.8M82.3 522.6h1.8M90.0 439.1h1.8M30.6 491.7h1.8M49.5 509.7h1.8M83.6 437.8h1.8M66.2 462.8h1.8M60.1 506.9h1.8M79.6 495.3h1.8M71.8 464.3h1.8M55.4 463.1h1.8M65.0 447.2h1.8M41.6 467.5h1.8M77.9 533.1h1.8M81.6 461.1h1.8M66.6 488.0h1.8M97.8 514.6h1.8M37.4 459.8h1.8M92.3 523.4h1.8M57.4 477.5h1.8M35.2 501.8h1.8M82.7 515.6h1.8M91.7 489.9h1.8M65.9 443.4h1.8M83.9 528.8h1.8M57.5 463.9h1.8M34.9 487.7h1.8M42.0 508.2h1.8M81.4 486.7h1.8M81.7 510.2h1.8M92.2 508.7h1.8M94.2 534.3h1.8M88.1 482.0h1.8M74.3 486.4h1.8M86.9 458.6h1.8M59.2 446.9h1.8M88.8 508.0h1.8M99.5 461.7h1.8M56.9 469.7h1.8M82.1 496.3h1.8M87.0 520.3h1.8M81.2 441.1h1.8M67.5 436.9h1.8M53.4 458.7h1.8M113.7 507.3h1.8M88.4 483.3h1.8M53.1 447.8h1.8M60.7 469.7h1.8M78.8 436.0h1.8M88.8 487.8h1.8M28.1 489.7h1.8M42.3 460.0h1.8M82.1 518.5h1.8M94.4 454.0h1.8M62.3 521.3h1.8M79.7 528.1h1.8M49.4 497.3h1.8M82.7 471.8h1.8M93.9 477.3h1.8M98.5 484.5h1.8M90.3 488.9h1.8M52.6 446.6h1.8M84.8 449.6h1.8M100.3 480.1h1.8M105.4 480.4h1.8M51.5 507.4h1.8M60.3 444.0h1.8M71.1 437.0h1.8M70.0 525.8h1.8M51.1 464.4h1.8M88.5 498.3h1.8M71.4 500.9h1.8M61.2 478.4h1.8M85.4 525.3h1.8M85.0 438.1h1.8M73.0 517.6h1.8M52.1 506.9h1.8M107.9 477.5h1.8M70.7 521.8h1.8M50.1 482.7h1.8M64.3 467.1h1.8M37.2 480.1h1.8M98.6 450.7h1.8M76.1 448.0h1.8M98.2 444.8h1.8M51.5 476.2h1.8M56.7 467.3h1.8M33.4 462.8h1.8M84.6 469.2h1.8M58.7 442.7h1.8M78.3 481.5h1.8M83.7 460.6h1.8M33.4 468.5h1.8M62.5 468.5h1.8M76.0 468.4h1.8M75.4 501.7h1.8M83.9 511.3h1.8M78.7 533.5h1.8M118.7 509.6h1.8M115.7 505.2h1.8M97.6 456.6h1.8M83.3 481.6h1.8M70.5 446.2h1.8M93.4 529.0h1.8M55.1 493.0h1.8M78.5 470.8h1.8M38.2 506.6h1.8M92.5 454.2h1.8M96.5 478.1h1.8M69.0 440.5h1.8M37.1 468.0h1.8M93.9 449.9h1.8M61.6 515.4h1.8M100.4 439.6h1.8M55.4 454.1h1.8M121.4 509.0h1.8M57.0 437.1h1.8M120.1 502.0h1.8M65.6 468.6h1.8M48.1 462.2h1.8M94.7 495.4h1.8M92.8 451.5h1.8M58.9 439.3h1.8M89.7 463.5h1.8M85.2 500.8h1.8M25.6 474.6h1.8M98.5 475.7h1.8M61.1 476.2h1.8M35.3 462.1h1.8M35.0 465.0h1.8M85.6 482.7h1.8M71.2 525.9h1.8M78.2 525.6h1.8M111.3 507.2h1.8M89.7 530.7h1.8M84.4 499.1h1.8M72.6 467.0h1.8M58.3 443.9h1.8M83.7 475.1h1.8M86.0 488.7h1.8M66.0 464.5h1.8M62.0 489.1h1.8M91.5 512.4h1.8M63.3 464.0h1.8M68.0 488.2h1.8M31.4 492.2h1.8M82.4 439.0h1.8M45.0 464.0h1.8M57.3 504.2h1.8M121.2 512.3h1.8M60.9 523.6h1.8M103.9 480.6h1.8M42.5 499.4h1.8M61.3 484.9h1.8M56.0 451.6h1.8M71.2 492.0h1.8M42.3 463.5h1.8M46.0 500.1h1.8M114.5 496.2h1.8M88.1 484.3h1.8M75.3 536.0h1.8M81.5 472.8h1.8M25.3 485.1h1.8M77.8 530.1h1.8M70.8 472.4h1.8M62.5 514.7h1.8M79.8 527.6h1.8M58.5 477.8h1.8M95.9 485.5h1.8M49.6 495.8h1.8M105.2 482.5h1.8M73.8 518.8h1.8M67.7 441.9h1.8M30.8 468.7h1.8M77.7 494.6h1.8M102.8 471.0h1.8M35.6 461.6h1.8M60.1 518.6h1.8M49.0 447.5h1.8M42.8 497.9h1.8M38.7 471.2h1.8M42.5 486.7h1.8M88.3 479.2h1.8M114.0 506.1h1.8M66.0 478.3h1.8M99.2 491.7h1.8M81.9 477.3h1.8M79.2 438.8h1.8M64.0 528.7h1.8M86.2 527.1h1.8M86.8 527.0h1.8M114.6 502.5h1.8M113.8 506.3h1.8M88.4 474.5h1.8M81.2 444.2h1.8M54.2 485.4h1.8M91.9 475.6h1.8M41.8 476.4h1.8M67.1 522.5h1.8M89.6 494.7h1.8M71.7 461.9h1.8M123.0 496.4h1.8M59.1 466.4h1.8M72.6 445.9h1.8M82.0 475.5h1.8M96.5 480.2h1.8M97.5 483.6h1.8M88.3 489.2h1.8M65.1 489.8h1.8M69.7 485.4h1.8M78.1 483.0h1.8M86.5 497.0h1.8M96.0 525.4h1.8M65.3 530.2h1.8M76.5 472.1h1.8M95.1 529.8h1.8M93.9 460.6h1.8M103.8 509.6h1.8M44.9 500.2h1.8M106.4 497.3h1.8M53.4 443.1h1.8M63.2 470.1h1.8M99.8 484.4h1.8M30.2 487.3h1.8M104.8 496.7h1.8M115.9 506.8h1.8M62.9 507.6h1.8M83.9 530.9h1.8M91.4 444.4h1.8M90.8 481.5h1.8M36.2 480.9h1.8M78.0 466.1h1.8M93.1 524.6h1.8M61.2 485.3h1.8M70.1 442.8h1.8M107.1 508.8h1.8M85.8 467.5h1.8M105.3 473.0h1.8M98.4 453.4h1.8M73.8 517.9h1.8M69.8 500.1h1.8M74.0 480.1h1.8M68.9 479.4h1.8M88.1 525.2h1.8M80.9 532.2h1.8M79.9 481.9h1.8M101.4 443.0h1.8M46.4 467.1h1.8M74.3 444.0h1.8M64.3 488.7h1.8M120.4 511.1h1.8M59.1 442.6h1.8M103.8 447.3h1.8M85.0 525.5h1.8M76.8 473.5h1.8M54.3 497.2h1.8M73.8 526.2h1.8M46.6 494.3h1.8M56.5 469.3h1.8M61.0 523.9h1.8M82.1 442.4h1.8M85.5 480.4h1.8M56.2 450.4h1.8M114.3 505.1h1.8M34.0 496.3h1.8M79.7 472.1h1.8M33.8 487.8h1.8M60.9 478.4h1.8M89.8 527.3h1.8M105.8 510.0h1.8M60.9 535.2h1.8M71.5 483.8h1.8M32.7 470.8h1.8M62.5 478.7h1.8M75.5 488.6h1.8M36.7 468.1h1.8M118.8 496.3h1.8M76.8 487.4h1.8M45.7 466.4h1.8M55.1 470.4h1.8M67.0 479.3h1.8M38.9 466.4h1.8M62.9 473.5h1.8M40.4 485.2h1.8M66.0 440.3h1.8M74.0 516.6h1.8M96.3 488.5h1.8M75.0 459.7h1.8M59.2 525.2h1.8M57.5 484.0h1.8M51.8 474.7h1.8M98.7 477.4h1.8M47.7 463.4h1.8M86.1 515.7h1.8M49.3 459.4h1.8M69.3 476.0h1.8M76.5 436.7h1.8M83.6 532.4h1.8M92.1 517.5h1.8M42.5 463.5h1.8M76.3 495.8h1.8M77.5 490.6h1.8M86.7 487.7h1.8M45.4 456.6h1.8M92.9 440.6h1.8M61.0 509.9h1.8M82.8 534.4h1.8M108.1 493.9h1.8M69.7 483.7h1.8M88.3 503.0h1.8M78.9 485.9h1.8M58.7 471.9h1.8M114.1 497.0h1.8M117.9 503.8h1.8M55.3 470.7h1.8M100.9 483.9h1.8M63.6 466.3h1.8M112.7 497.1h1.8M27.0 486.3h1.8M70.5 441.1h1.8M92.6 520.5h1.8M91.8 483.2h1.8M68.1 473.1h1.8M94.2 494.9h1.8M51.5 444.2h1.8M88.7 526.3h1.8M60.3 493.6h1.8M71.0 461.7h1.8M71.9 467.6h1.8M68.9 491.2h1.8M68.3 498.3h1.8M64.8 480.1h1.8M57.1 450.8h1.8M90.5 464.1h1.8M108.8 485.9h1.8M51.8 451.6h1.8M97.7 482.2h1.8M81.7 502.2h1.8M93.5 449.4h1.8M99.8 457.1h1.8M101.7 489.3h1.8M103.1 484.7h1.8M110.6 473.1h1.8M58.4 491.8h1.8M59.2 507.8h1.8M79.4 505.0h1.8M106.8 457.0h1.8M49.5 501.3h1.8M93.1 474.2h1.8M70.9 447.2h1.8M81.0 485.0h1.8M73.4 464.1h1.8M100.6 504.4h1.8M66.7 474.8h1.8M79.1 539.4h1.8M102.8 491.4h1.8M79.2 442.0h1.8M87.1 527.6h1.8M50.7 442.0h1.8M66.2 480.6h1.8M69.3 465.1h1.8M91.5 517.9h1.8M104.4 505.2h1.8M86.1 507.0h1.8M64.4 450.2h1.8M82.7 438.3h1.8M82.9 438.6h1.8M86.5 475.4h1.8M83.6 538.2h1.8M91.3 518.5h1.8M100.3 494.4h1.8M89.3 524.3h1.8M31.4 488.8h1.8M81.5 528.2h1.8M96.9 455.4h1.8M103.3 472.8h1.8M102.6 490.3h1.8M32.9 485.1h1.8M73.7 481.0h1.8M80.3 479.7h1.8M121.9 505.4h1.8M49.4 473.9h1.8M102.0 452.2h1.8M52.0 472.9h1.8M56.9 469.8h1.8M99.9 513.8h1.8M82.4 481.9h1.8M83.2 486.7h1.8M85.3 444.2h1.8M83.5 488.6h1.8M81.6 495.4h1.8M66.7 473.7h1.8M68.9 470.8h1.8M67.2 507.4h1.8M42.8 506.6h1.8M45.1 469.6h1.8M31.0 499.1h1.8M68.2 473.4h1.8M98.1 497.0h1.8M89.2 448.8h1.8M102.7 484.4h1.8M81.2 531.0h1.8M93.3 519.0h1.8M92.3 536.1h1.8M70.4 478.4h1.8M37.6 465.9h1.8M51.5 465.0h1.8M70.3 491.6h1.8M82.9 493.3h1.8M67.7 516.8h1.8M54.3 455.2h1.8M41.7 457.2h1.8M89.2 481.8h1.8M64.1 523.4h1.8M87.6 500.7h1.8M96.9 490.0h1.8M76.5 524.1h1.8M72.5 530.1h1.8M76.0 470.8h1.8M71.5 499.3h1.8M104.2 523.0h1.8M29.3 491.8h1.8M87.5 447.9h1.8M56.3 440.9h1.8M88.8 437.2h1.8M58.6 495.6h1.8M53.7 460.7h1.8M64.0 513.0h1.8M37.1 486.2h1.8M104.7 507.5h1.8M47.7 461.9h1.8M91.4 454.6h1.8M121.2 500.8h1.8M91.3 531.0h1.8M51.2 502.6h1.8M59.5 522.1h1.8M46.6 461.1h1.8M97.0 535.2h1.8M62.8 464.1h1.8M102.8 487.9h1.8M82.5 442.0h1.8M73.6 522.0h1.8M94.0 529.1h1.8M65.4 525.3h1.8M101.7 491.2h1.8M80.1 486.9h1.8M80.8 443.2h1.8M113.5 504.2h1.8M84.4 443.4h1.8M81.3 445.1h1.8M50.2 465.0h1.8M75.3 502.4h1.8M68.1 437.7h1.8M87.8 442.6h1.8M117.6 499.0h1.8M66.0 497.4h1.8M49.2 466.2h1.8M94.9 460.7h1.8M61.7 529.4h1.8M53.9 491.3h1.8M88.5 529.4h1.8M90.7 526.8h1.8M121.5 495.4h1.8M106.4 455.5h1.8M95.0 485.5h1.8M48.0 455.2h1.8M52.7 471.2h1.8M74.3 509.5h1.8M56.0 508.6h1.8M72.9 471.6h1.8M62.8 528.3h1.8M91.1 484.3h1.8M100.6 463.9h1.8M102.5 456.1h1.8M45.1 497.9h1.8M30.9 486.5h1.8M58.6 502.5h1.8M89.5 451.5h1.8M112.9 502.2h1.8M74.4 524.0h1.8M76.2 531.1h1.8M50.5 465.3h1.8M37.7 457.4h1.8M43.9 507.1h1.8M84.0 521.7h1.8M78.0 487.9h1.8M112.4 503.5h1.8M102.5 493.9h1.8M91.4 501.4h1.8M106.7 500.1h1.8M121.4 498.4h1.8M95.0 456.5h1.8M65.2 507.6h1.8M82.1 441.5h1.8M96.6 468.9h1.8M55.8 443.7h1.8M54.1 497.3h1.8M47.4 501.3h1.8M91.9 525.1h1.8M54.6 486.8h1.8M64.1 515.0h1.8M90.0 489.6h1.8M67.1 438.2h1.8M82.7 449.3h1.8M47.0 467.0h1.8M106.9 504.6h1.8M98.0 509.1h1.8M51.9 454.9h1.8M106.9 507.9h1.8M74.7 501.2h1.8M103.2 489.4h1.8M85.7 463.4h1.8M106.3 505.2h1.8M27.5 489.9h1.8M30.7 497.8h1.8M83.7 440.8h1.8M61.1 478.2h1.8M100.0 491.6h1.8M48.2 458.4h1.8M54.9 457.6h1.8M91.4 484.5h1.8M60.1 507.9h1.8M77.9 477.8h1.8M74.1 473.6h1.8M105.1 451.2h1.8M73.1 494.4h1.8M38.6 505.6h1.8M78.1 482.2h1.8M114.3 504.4h1.8M42.2 497.9h1.8M65.9 446.0h1.8M99.1 483.6h1.8M100.9 506.9h1.8M88.2 447.6h1.8M70.1 437.0h1.8M54.6 470.2h1.8M76.8 479.4h1.8M56.4 491.4h1.8M95.0 488.8h1.8M49.1 468.5h1.8M82.7 522.1h1.8M48.6 464.2h1.8M59.6 528.4h1.8M102.2 485.3h1.8M40.4 458.9h1.8M94.1 481.2h1.8M61.3 506.1h1.8M79.4 509.2h1.8M72.1 521.5h1.8M74.9 443.8h1.8M85.6 475.3h1.8M32.1 492.1h1.8M67.4 514.4h1.8M46.1 497.7h1.8M31.8 488.9h1.8M89.0 502.7h1.8M83.9 443.3h1.8M59.3 444.1h1.8M86.9 488.5h1.8M50.5 457.7h1.8M98.6 509.4h1.8M96.1 519.1h1.8M51.9 468.3h1.8M68.0 436.9h1.8M90.2 457.6h1.8M30.6 460.0h1.8M78.1 475.9h1.8M62.2 479.7h1.8M85.3 441.4h1.8M36.9 466.8h1.8M87.3 473.6h1.8M111.3 508.7h1.8M81.4 518.7h1.8M55.8 451.0h1.8M74.5 477.4h1.8M52.5 499.0h1.8M61.5 448.5h1.8M82.2 533.8h1.8M62.9 482.3h1.8M35.5 489.0h1.8M69.1 488.2h1.8M44.0 468.8h1.8M44.6 469.9h1.8M42.3 507.9h1.8M67.5 524.5h1.8M64.7 500.2h1.8M61.2 506.4h1.8M90.2 514.6h1.8M53.6 478.2h1.8M59.0 485.2h1.8M107.2 477.8h1.8M97.4 456.3h1.8M98.1 461.8h1.8M106.0 507.5h1.8M99.2 455.2h1.8M119.2 498.8h1.8M54.4 445.2h1.8M64.2 506.0h1.8M47.4 499.2h1.8M92.6 486.3h1.8M35.7 482.9h1.8M84.0 489.1h1.8M55.8 483.2h1.8M63.7 481.9h1.8M100.8 481.8h1.8M78.0 476.6h1.8M99.8 441.8h1.8M83.6 506.4h1.8M75.9 475.0h1.8M81.8 535.4h1.8M95.3 447.2h1.8M33.1 469.5h1.8M80.6 465.1h1.8M87.8 479.9h1.8M42.9 464.1h1.8M44.8 481.2h1.8M83.6 460.2h1.8M45.7 476.0h1.8M93.1 530.1h1.8M95.1 516.7h1.8M104.5 503.9h1.8M47.7 470.0h1.8M73.8 475.8h1.8M79.5 470.2h1.8M106.2 509.2h1.8M30.1 469.9h1.8M63.5 486.0h1.8M80.9 530.3h1.8M95.1 468.7h1.8M73.0 440.7h1.8M79.0 479.5h1.8M65.1 516.7h1.8M82.2 444.4h1.8M41.2 482.1h1.8M87.3 444.4h1.8M88.0 452.1h1.8M53.4 461.0h1.8M77.0 504.0h1.8M57.3 469.6h1.8M101.8 445.0h1.8M53.0 464.0h1.8M84.6 536.0h1.8M88.2 491.9h1.8M70.5 532.7h1.8M119.4 500.3h1.8M87.8 441.1h1.8M77.5 487.1h1.8M59.8 491.5h1.8M95.2 450.6h1.8M101.1 518.2h1.8M66.2 465.1h1.8M83.6 470.9h1.8M59.7 463.7h1.8M83.4 486.4h1.8M60.2 505.4h1.8M35.2 492.6h1.8M107.8 483.6h1.8M95.9 475.6h1.8M66.6 472.8h1.8M103.1 492.4h1.8M79.3 515.2h1.8M64.1 525.4h1.8M73.2 530.8h1.8M92.9 469.8h1.8M92.8 527.8h1.8M65.4 441.6h1.8M90.7 520.1h1.8M102.1 507.9h1.8M96.6 520.7h1.8M83.6 479.4h1.8M69.5 529.2h1.8M48.8 497.5h1.8M88.6 477.8h1.8M86.3 521.9h1.8M62.7 448.4h1.8M69.2 482.7h1.8M94.2 481.3h1.8M111.0 509.6h1.8M68.0 476.3h1.8M70.6 495.1h1.8M101.2 475.4h1.8M100.3 492.3h1.8M87.2 447.7h1.8M53.1 438.7h1.8M75.5 511.4h1.8M68.3 447.5h1.8M62.2 436.3h1.8M93.4 450.4h1.8M67.8 483.4h1.8M97.0 522.7h1.8M89.7 442.5h1.8M42.4 502.0h1.8M62.8 509.2h1.8M98.8 457.1h1.8M96.2 466.0h1.8M84.6 533.6h1.8M70.8 531.1h1.8M118.0 508.0h1.8M117.1 503.6h1.8M104.0 455.7h1.8M44.4 470.6h1.8M68.1 522.6h1.8M33.8 465.3h1.8M92.5 450.6h1.8M86.5 445.3h1.8M74.7 502.1h1.8M65.1 519.0h1.8M30.3 474.7h1.8M88.6 459.3h1.8M43.3 468.5h1.8M65.4 512.1h1.8M50.0 479.9h1.8M72.8 487.6h1.8M50.3 496.2h1.8M83.4 449.5h1.8M57.7 467.7h1.8M101.4 448.9h1.8M104.2 520.2h1.8M62.4 527.5h1.8M40.2 509.8h1.8M83.9 455.9h1.8M69.2 524.0h1.8M41.1 463.3h1.8M72.6 508.2h1.8M92.0 479.0h1.8M87.1 477.3h1.8M72.7 537.6h1.8M95.2 452.5h1.8M83.8 500.2h1.8M72.8 503.4h1.8M43.1 462.2h1.8M84.4 488.6h1.8M102.3 459.8h1.8M38.7 462.2h1.8M108.5 501.0h1.8M81.7 441.0h1.8M106.6 477.9h1.8M96.9 510.8h1.8M113.8 501.2h1.8M66.4 464.9h1.8M85.9 471.5h1.8M89.4 473.1h1.8M89.8 506.3h1.8M81.5 475.0h1.8M93.9 453.4h1.8M74.3 529.7h1.8M100.8 526.3h1.8M108.8 491.6h1.8M83.6 477.1h1.8" stroke="#c0c0c0" stroke-width="1.5"/></defs>
<text x="191.93" y="434.40" font-size="8.48" fill="#1a1a1a" stroke="#1a1a1a" stroke-width="0.22" textLength="19.87" lengthAdjust="spacingAndGlyphs">Ezh2</text>
<g transform="translate(159.64 195.33) scale(0.562)"><use href="#tg"/><path d="M96.7 513.6h2M58.5 486.5h2M71.6 516.5h2M79.7 525.9h2M78.3 520.2h2M93.9 521.8h2M74.5 520.1h2M99.4 518.3h2M90.1 512.4h2M75.0 531.4h2M77.6 525.4h2M66.6 525.7h2M79.8 532.6h2M86.5 520.7h2M85.7 522.7h2M69.6 511.9h2M80.4 464.8h2M69.7 527.3h2M85.3 520.4h2M59.2 527.1h2M94.4 518.2h2M79.7 520.4h2M79.4 514.5h2M60.2 524.5h2M99.2 519.7h2M76.0 516.0h2M70.6 525.5h2M76.0 518.1h2M88.6 539.8h2M75.7 529.1h2M73.3 519.5h2M85.4 525.0h2M82.6 522.3h2M67.9 533.2h2M69.1 495.4h2M99.1 530.2h2M72.3 496.9h2M81.4 516.6h2M76.2 522.1h2M87.9 524.8h2M94.8 520.6h2M70.0 519.1h2M73.6 514.3h2M72.8 525.9h2M37.3 474.2h2M76.2 531.7h2M64.1 521.6h2M93.3 525.9h2M89.8 524.9h2M89.7 525.9h2M80.5 531.3h2M81.3 523.8h2M59.5 442.1h2M78.9 507.4h2M77.1 520.3h2M81.3 524.6h2M110.5 512.5h2M84.3 512.9h2M81.8 523.0h2M103.8 524.3h2M85.4 529.5h2M49.8 478.4h2M61.9 527.2h2M74.8 524.9h2M79.7 471.0h2M65.7 528.5h2M88.6 524.7h2M69.5 533.4h2M65.6 532.2h2M100.4 517.0h2M77.3 528.4h2M65.1 528.3h2M68.7 529.9h2M70.5 521.9h2M96.6 530.5h2M62.9 519.8h2M67.7 518.9h2M79.8 522.9h2M80.8 512.5h2M65.9 526.0h2M92.8 510.3h2M60.9 526.1h2M72.1 533.8h2M82.8 508.7h2M82.9 531.6h2M87.1 511.2h2M45.7 503.2h2M81.3 441.7h2M86.6 531.7h2M74.1 443.7h2M72.4 513.4h2M65.3 531.2h2M67.1 500.0h2M87.2 522.2h2M76.8 508.5h2M84.5 521.1h2M61.2 523.1h2M79.9 463.5h2M90.7 522.7h2M80.2 529.8h2M95.3 532.8h2M74.6 518.2h2M83.9 496.1h2M80.6 521.5h2M75.5 533.3h2M72.5 536.3h2M87.1 514.9h2M92.9 512.9h2M95.3 498.8h2M81.1 515.4h2M65.5 470.1h2M66.6 524.7h2M82.5 526.3h2M67.9 530.1h2M67.4 526.8h2M72.4 515.8h2M77.2 475.3h2M64.5 524.0h2M71.9 522.0h2M63.4 482.4h2M84.7 528.8h2M79.1 526.6h2M74.4 503.6h2M73.0 505.8h2M76.6 522.7h2M72.5 514.2h2M86.5 523.3h2M88.6 521.0h2M32.4 463.4h2M90.9 526.8h2M93.8 520.5h2M71.0 520.4h2M94.5 537.0h2M79.3 503.0h2M97.9 507.8h2M95.7 521.0h2M89.9 538.9h2M76.8 540.7h2M88.1 519.2h2M87.5 518.2h2M65.8 524.1h2M83.2 521.9h2M68.9 517.8h2M66.3 518.7h2M78.0 517.9h2M69.6 505.8h2M85.4 456.9h2M83.2 528.2h2M87.9 442.2h2M93.6 527.5h2M80.1 522.9h2M60.2 527.4h2M75.9 502.2h2M81.8 521.0h2M81.1 528.7h2M86.7 538.8h2M63.6 528.3h2M68.8 483.2h2M70.6 510.2h2M87.2 534.4h2M74.5 480.8h2M67.7 522.2h2M108.9 511.2h2M82.7 512.6h2M68.8 486.5h2M84.8 473.2h2M81.5 528.3h2M75.9 535.3h2M82.6 504.2h2M96.4 532.1h2M76.7 533.1h2M71.5 525.7h2M81.5 530.8h2M74.5 517.4h2M73.6 527.4h2M74.1 536.0h2M63.4 518.6h2M85.4 522.2h2M67.1 540.2h2M89.7 519.2h2M70.0 511.8h2M89.9 514.8h2M101.8 477.1h2M60.0 530.8h2M76.3 532.8h2M94.8 515.0h2M95.0 533.7h2M66.3 538.0h2M89.8 539.3h2M76.1 521.4h2M81.7 539.0h2M77.2 521.9h2M98.3 519.3h2M65.1 525.6h2M68.0 526.5h2M79.7 527.1h2M89.9 530.6h2M69.8 503.6h2M67.3 514.1h2M69.6 535.6h2M84.4 520.3h2M31.7 462.4h2M60.2 529.6h2M88.5 530.6h2M74.9 521.4h2M57.1 521.8h2M85.0 489.7h2M76.0 522.2h2M78.3 513.9h2M79.6 533.4h2M74.2 515.7h2M83.2 528.5h2M82.3 523.3h2M45.9 464.7h2M62.7 523.5h2M72.4 513.0h2M67.3 534.9h2M59.4 528.6h2M83.1 536.5h2M82.2 522.6h2M66.1 462.8h2M77.8 533.1h2M97.7 514.6h2M92.2 523.4h2M94.1 534.3h2M86.9 520.3h2M82.0 518.5h2M93.8 477.3h2M69.9 525.8h2M85.3 525.3h2M72.9 517.6h2M70.6 521.8h2M83.8 511.3h2M78.6 533.5h2M93.3 529.0h2M71.1 525.9h2M89.6 530.7h2M91.4 512.4h2M60.8 523.6h2M75.2 536.0h2M62.4 514.7h2M79.7 527.6h2M73.7 518.8h2M63.9 528.7h2M86.1 527.1h2M86.7 527.0h2M67.0 522.5h2M95.9 525.4h2M44.8 500.2h2M83.8 530.9h2M73.7 517.9h2M80.8 532.2h2M84.9 525.5h2M73.7 526.2h2M60.9 523.9h2M89.7 527.3h2M60.8 535.2h2M59.1 525.2h2M92.0 517.5h2M92.5 520.5h2M88.6 526.3h2M57.0 450.8h2M83.5 538.2h2M91.2 518.5h2M89.2 524.3h2M81.4 528.2h2M81.1 531.0h2M93.2 519.0h2M67.6 516.8h2M76.4 524.1h2M72.4 530.1h2M104.1 523.0h2M91.2 531.0h2M96.9 535.2h2M65.3 525.3h2M88.4 529.4h2M90.6 526.8h2M74.3 524.0h2M76.1 531.1h2M37.6 457.4h2M83.9 521.7h2M91.8 525.1h2M74.6 501.2h2M82.6 522.1h2M59.5 528.4h2M72.0 521.5h2M67.3 514.4h2M96.0 519.1h2M81.3 518.7h2M82.1 533.8h2M67.4 524.5h2M81.7 535.4h2M93.0 530.1h2M95.0 516.7h2M73.7 475.8h2M80.8 530.3h2M72.9 440.7h2M65.0 516.7h2M70.4 532.7h2M64.0 525.4h2M92.7 527.8h2M90.6 520.1h2M69.4 529.2h2M86.2 521.9h2M75.4 511.4h2M84.5 533.6h2M70.7 531.1h2M68.0 522.6h2M62.3 527.5h2M69.1 524.0h2M83.7 500.2h2M74.2 529.7h2M100.7 526.3h2" stroke="#2261a0" stroke-width="1.6"/></g>
<text x="260.86" y="434.40" font-size="8.82" fill="#1a1a1a" stroke="#1a1a1a" stroke-width="0.22" textLength="24.73" lengthAdjust="spacingAndGlyphs">Suz12</text>
<g transform="translate(231.64 195.33) scale(0.562)"><use href="#tg"/><path d="M61.4 466.2h2M96.7 513.6h2M59.5 503.1h2M89.5 485.6h2M64.8 465.6h2M74.5 520.1h2M79.5 533.7h2M82.1 531.0h2M90.1 512.4h2M75.0 531.4h2M77.6 525.4h2M66.6 525.7h2M60.6 512.0h2M64.6 464.8h2M61.5 518.2h2M86.5 520.7h2M69.7 527.3h2M85.3 520.4h2M59.2 527.1h2M94.4 518.2h2M79.7 520.4h2M79.4 514.5h2M76.7 534.8h2M99.2 519.7h2M76.0 516.0h2M70.6 525.5h2M76.0 518.1h2M88.6 539.8h2M75.7 529.1h2M73.3 519.5h2M85.4 525.0h2M69.8 484.0h2M77.5 527.0h2M82.6 522.3h2M67.9 533.2h2M80.0 538.6h2M63.5 527.5h2M91.4 465.3h2M87.9 518.2h2M75.8 478.3h2M93.8 471.9h2M76.2 522.1h2M87.9 524.8h2M67.9 471.1h2M94.8 520.6h2M70.0 519.1h2M63.6 524.0h2M72.8 525.9h2M87.7 515.7h2M76.2 531.7h2M79.8 534.0h2M64.1 521.6h2M89.8 524.9h2M60.9 526.8h2M75.3 508.5h2M89.7 525.9h2M80.5 531.3h2M81.3 523.8h2M66.5 506.2h2M78.9 507.4h2M77.1 520.3h2M81.3 524.6h2M84.3 512.9h2M75.1 509.2h2M81.8 523.0h2M74.2 524.2h2M103.8 524.3h2M92.7 506.3h2M61.9 527.2h2M74.8 524.9h2M88.6 524.7h2M50.2 461.5h2M69.5 533.4h2M65.6 532.2h2M100.4 517.0h2M77.3 528.4h2M87.0 510.7h2M94.3 513.1h2M65.1 528.3h2M68.7 529.9h2M70.5 521.9h2M62.9 519.8h2M67.7 518.9h2M79.8 522.9h2M65.1 473.2h2M80.8 512.5h2M67.7 519.3h2M90.1 525.0h2M69.2 487.0h2M74.6 520.9h2M72.1 533.8h2M89.9 518.5h2M78.8 526.2h2M86.6 531.7h2M65.3 531.2h2M84.5 521.1h2M61.2 523.1h2M90.7 522.7h2M35.1 471.2h2M80.2 529.8h2M95.3 532.8h2M74.6 518.2h2M108.2 514.4h2M80.6 521.5h2M75.5 533.3h2M72.5 536.3h2M81.1 515.4h2M66.6 524.7h2M69.4 527.8h2M84.0 445.8h2M67.9 530.1h2M67.4 526.8h2M79.6 521.1h2M72.4 515.8h2M58.4 520.2h2M72.7 516.7h2M71.9 522.0h2M84.7 528.8h2M69.9 523.8h2M74.2 516.5h2M79.1 526.6h2M80.0 521.6h2M76.6 522.7h2M77.6 530.6h2M72.5 514.2h2M49.0 503.2h2M86.5 523.3h2M94.1 506.7h2M82.8 523.5h2M62.9 524.7h2M90.8 518.5h2M88.8 519.7h2M90.9 526.8h2M93.8 520.5h2M74.3 513.0h2M94.5 537.0h2M97.9 507.8h2M95.7 521.0h2M89.9 538.9h2M78.3 520.3h2M76.8 540.7h2M78.3 528.8h2M88.1 519.2h2M87.5 518.2h2M91.9 530.3h2M83.2 521.9h2M68.9 517.8h2M66.3 518.7h2M82.8 489.5h2M78.0 517.9h2M69.6 505.8h2M75.0 521.0h2M83.2 528.2h2M93.6 527.5h2M80.1 522.9h2M75.9 502.2h2M81.1 528.7h2M86.7 538.8h2M63.6 528.3h2M74.3 533.7h2M73.2 522.3h2M80.9 516.1h2M67.7 522.2h2M108.9 511.2h2M82.7 512.6h2M91.0 515.2h2M64.0 481.3h2M75.0 532.1h2M79.5 500.0h2M78.6 510.9h2M81.5 528.3h2M68.0 516.3h2M75.9 535.3h2M72.8 507.4h2M75.0 536.1h2M96.4 532.1h2M76.7 533.1h2M64.6 520.2h2M71.5 525.7h2M81.5 530.8h2M74.5 517.4h2M73.6 527.4h2M79.4 533.8h2M74.1 536.0h2M84.8 489.8h2M79.0 526.6h2M89.4 501.2h2M85.4 522.2h2M67.1 540.2h2M79.4 533.6h2M59.7 505.6h2M76.1 525.5h2M89.9 514.8h2M86.6 488.6h2M82.0 521.5h2M60.0 530.8h2M60.1 521.9h2M66.3 538.0h2M76.1 521.4h2M81.7 539.0h2M77.2 521.9h2M85.3 485.2h2M98.3 519.3h2M65.1 525.6h2M68.0 526.5h2M79.7 527.1h2M76.2 527.2h2M75.3 523.2h2M67.3 514.1h2M69.6 535.6h2M103.7 486.0h2M84.4 520.3h2M31.7 462.4h2M60.2 529.6h2M87.4 522.2h2M88.5 530.6h2M74.9 521.4h2M57.1 521.8h2M71.5 531.0h2M76.0 522.2h2M83.3 471.1h2M78.3 513.9h2M79.6 533.4h2M70.1 460.1h2M83.2 528.5h2M96.7 532.3h2M67.3 534.9h2M59.4 528.6h2M83.1 536.5h2M82.2 522.6h2M77.8 533.1h2M92.2 523.4h2M83.8 528.8h2M86.9 520.3h2M82.0 518.5h2M79.6 528.1h2M69.9 525.8h2M70.6 521.8h2M83.8 511.3h2M98.4 475.7h2M71.1 525.9h2M78.1 525.6h2M89.6 530.7h2M91.4 512.4h2M63.2 464.0h2M121.1 512.3h2M77.7 530.1h2M62.4 514.7h2M79.7 527.6h2M95.8 485.5h2M73.7 518.8h2M63.9 528.7h2M86.1 527.1h2M86.7 527.0h2M67.0 522.5h2M95.9 525.4h2M65.2 530.2h2M95.0 529.8h2M93.0 524.6h2M80.8 532.2h2M79.8 481.9h2M84.9 525.5h2M73.7 526.2h2M89.7 527.3h2M60.8 535.2h2M73.9 516.6h2M59.1 525.2h2M83.5 532.4h2M92.0 517.5h2M92.5 520.5h2M88.6 526.3h2M79.0 539.4h2M87.0 527.6h2M91.2 518.5h2M89.2 524.3h2M81.4 528.2h2M81.1 531.0h2M93.2 519.0h2M76.4 524.1h2M104.1 523.0h2M63.9 513.0h2M91.2 531.0h2M59.4 522.1h2M93.9 529.1h2M65.3 525.3h2M75.2 502.4h2M61.6 529.4h2M88.4 529.4h2M90.6 526.8h2M72.8 471.6h2M62.7 528.3h2M74.3 524.0h2M82.6 522.1h2M59.5 528.4h2M88.9 502.7h2M98.5 509.4h2M81.3 518.7h2M82.1 533.8h2M67.4 524.5h2M81.7 535.4h2M44.7 481.2h2M93.0 530.1h2M95.0 516.7h2M80.8 530.3h2M65.0 516.7h2M76.9 504.0h2M84.5 536.0h2M95.8 475.6h2M79.2 515.2h2M73.1 530.8h2M90.6 520.1h2M96.5 520.7h2M69.4 529.2h2M75.4 511.4h2M89.6 442.5h2M84.5 533.6h2M70.7 531.1h2M68.0 522.6h2M65.0 519.0h2M62.3 527.5h2M69.1 524.0h2M74.2 529.7h2" stroke="#2261a0" stroke-width="1.6"/></g>
<text x="337.51" y="434.60" font-size="8.48" fill="#1a1a1a" stroke="#1a1a1a" stroke-width="0.22" textLength="32.88" lengthAdjust="spacingAndGlyphs">Bhlhe40</text>
<g transform="translate(313.64 196.33) scale(0.562)"><use href="#tg"/><path d="M61.4 466.2h2M68.1 465.6h2M64.8 465.6h2M70.3 468.6h2M46.0 456.7h2M56.8 455.3h2M31.6 501.4h2M36.9 458.0h2M66.7 462.5h2M29.4 464.5h2M46.2 468.9h2M43.5 472.2h2M30.8 460.8h2M80.4 489.7h2M103.4 504.8h2M58.3 518.4h2M32.7 473.9h2M102.6 507.2h2M44.2 456.8h2M57.8 460.9h2M55.7 471.8h2M70.9 473.7h2M86.7 437.4h2M117.7 503.8h2M63.6 524.0h2M97.3 457.6h2M42.1 457.1h2M57.6 463.2h2M55.5 466.1h2M60.0 436.9h2M69.6 437.9h2M28.1 460.5h2M63.7 459.3h2M59.1 470.0h2M72.8 463.0h2M52.6 496.8h2M95.7 490.4h2M28.6 460.4h2M69.3 438.8h2M47.6 461.1h2M40.7 470.8h2M79.7 471.0h2M60.1 462.3h2M38.8 462.5h2M63.3 440.5h2M40.4 466.3h2M67.6 471.3h2M52.4 463.0h2M67.0 471.2h2M85.7 440.8h2M41.2 463.2h2M60.4 461.9h2M88.0 461.5h2M69.9 470.7h2M68.7 529.9h2M51.6 459.8h2M65.2 460.7h2M47.0 456.4h2M65.1 473.2h2M30.0 468.9h2M52.8 459.7h2M67.3 440.4h2M114.5 504.6h2M46.7 470.9h2M33.2 464.9h2M65.3 467.5h2M59.7 459.6h2M52.0 465.6h2M29.3 470.3h2M92.3 470.1h2M81.3 441.7h2M72.3 466.9h2M89.0 438.5h2M39.3 473.1h2M39.8 461.3h2M45.6 456.4h2M112.1 498.5h2M65.5 470.1h2M57.7 472.0h2M45.3 466.5h2M53.3 467.6h2M84.1 465.2h2M49.1 465.6h2M76.8 452.3h2M59.1 450.3h2M31.5 460.4h2M36.6 464.1h2M87.1 443.7h2M46.0 462.1h2M67.2 473.9h2M71.1 467.2h2M59.0 468.0h2M49.1 457.8h2M56.4 464.1h2M41.2 463.3h2M55.3 471.5h2M25.3 466.1h2M54.5 462.9h2M38.3 469.0h2M94.2 455.7h2M28.3 470.8h2M58.8 457.5h2M47.4 451.8h2M40.2 458.4h2M35.6 468.6h2M33.7 463.6h2M87.9 446.2h2M39.6 469.0h2M48.2 464.9h2M66.8 464.1h2M81.9 442.1h2M66.2 472.4h2M34.3 463.3h2M42.3 456.1h2M76.8 540.7h2M29.6 467.4h2M71.6 461.9h2M89.0 471.6h2M87.6 465.1h2M89.4 468.0h2M58.1 465.1h2M47.0 467.7h2M61.7 456.7h2M70.3 467.5h2M84.6 442.1h2M54.9 471.2h2M57.0 473.7h2M54.4 497.5h2M51.7 472.1h2M70.3 473.7h2M45.2 469.5h2M32.5 473.5h2M58.2 443.0h2M65.9 465.3h2M97.8 463.8h2M58.3 499.2h2M38.6 457.8h2M40.6 465.1h2M63.4 458.7h2M56.4 453.6h2M34.7 457.8h2M48.8 467.1h2M85.4 441.1h2M48.4 455.3h2M57.3 443.9h2M49.7 468.6h2M70.4 473.9h2M91.1 458.7h2M42.7 470.9h2M39.1 464.8h2M60.5 472.7h2M40.8 462.8h2M38.1 458.0h2M36.8 455.7h2M85.7 439.6h2M45.1 465.9h2M62.3 455.3h2M53.5 464.2h2M67.4 456.5h2M56.3 469.7h2M50.4 470.9h2M44.2 470.4h2M105.0 487.6h2M72.1 443.6h2M39.4 465.5h2M67.3 459.6h2M85.2 467.4h2M101.9 513.3h2M51.0 472.2h2M40.6 465.9h2M51.2 457.5h2M31.9 469.0h2M41.6 472.2h2M43.8 461.4h2M36.2 457.1h2M64.0 460.8h2M39.8 468.7h2M92.4 456.0h2M42.9 463.5h2M47.3 469.0h2M63.8 438.9h2M79.3 447.1h2M121.8 510.0h2M83.3 471.1h2M46.5 456.4h2M44.0 461.1h2M56.1 456.1h2M66.7 463.7h2M38.3 466.2h2M54.6 459.6h2M55.8 462.4h2M60.0 506.9h2M41.5 467.5h2M65.8 443.4h2M57.4 463.9h2M56.6 467.3h2M84.5 469.2h2M62.4 468.5h2M78.4 470.8h2M37.0 468.0h2M55.3 454.1h2M65.5 468.6h2M48.0 462.2h2M35.2 462.1h2M34.9 465.0h2M72.5 467.0h2M65.9 464.5h2M31.3 492.2h2M82.3 439.0h2M44.9 464.0h2M70.7 472.4h2M30.7 468.7h2M35.5 461.6h2M38.6 471.2h2M63.1 470.1h2M90.7 481.5h2M46.3 467.1h2M32.6 470.8h2M36.6 468.1h2M47.6 463.4h2M45.3 456.6h2M58.6 471.9h2M55.2 470.7h2M90.4 464.1h2M69.2 465.1h2M64.3 450.2h2M51.9 472.9h2M85.2 444.2h2M68.8 470.8h2M45.0 469.6h2M68.1 473.4h2M37.5 465.9h2M51.4 465.0h2M54.2 455.2h2M41.6 457.2h2M47.6 461.9h2M50.1 465.0h2M87.7 442.6h2M47.9 455.2h2M50.4 465.3h2M96.5 468.9h2M89.9 489.6h2M46.9 467.0h2M73.0 494.4h2M49.0 468.5h2M48.5 464.2h2M67.3 514.4h2M51.8 468.3h2M36.8 466.8h2M67.4 524.5h2M98.0 461.8h2M54.3 445.2h2M33.0 469.5h2M42.8 464.1h2M30.0 469.9h2M80.8 530.3h2M53.3 461.0h2M57.2 469.6h2M52.9 464.0h2M66.5 472.8h2M103.0 492.4h2M87.1 447.7h2M44.3 470.6h2M33.7 465.3h2M88.5 459.3h2M43.2 468.5h2M40.1 509.8h2M41.0 463.3h2M43.0 462.2h2M38.6 462.2h2M66.3 464.9h2" stroke="#2261a0" stroke-width="1.6"/></g>
<text x="408.60" y="434.50" font-size="8.34" fill="#1a1a1a" stroke="#1a1a1a" stroke-width="0.22" textLength="23.83" lengthAdjust="spacingAndGlyphs">Nfkb2</text>
<g transform="translate(380.14 196.33) scale(0.562)"><use href="#tg"/><path d="M36.4 471.2h2M61.4 466.2h2M44.6 507.9h2M62.9 461.9h2M67.0 472.1h2M44.9 457.7h2M68.1 471.1h2M46.0 456.7h2M64.6 464.8h2M56.8 455.3h2M53.4 471.1h2M92.9 461.0h2M85.7 522.7h2M29.4 464.5h2M46.2 468.9h2M30.8 460.8h2M48.0 461.5h2M47.6 444.7h2M92.9 460.8h2M54.6 460.4h2M47.5 458.4h2M62.8 470.7h2M39.0 472.4h2M44.2 456.8h2M57.8 460.9h2M91.4 465.3h2M80.9 447.3h2M52.9 468.1h2M70.9 473.7h2M69.2 436.2h2M58.4 448.6h2M32.8 466.5h2M42.1 457.1h2M44.3 499.7h2M85.9 465.7h2M42.5 470.4h2M89.7 525.9h2M63.7 459.3h2M62.3 464.3h2M72.8 463.0h2M89.8 469.4h2M29.9 460.7h2M55.4 467.9h2M28.4 464.4h2M58.5 447.4h2M47.3 469.9h2M93.3 466.6h2M72.6 458.6h2M56.1 451.3h2M47.6 461.1h2M38.8 462.5h2M50.2 461.5h2M40.4 466.3h2M52.4 463.0h2M67.0 471.2h2M41.2 463.2h2M55.8 456.2h2M89.8 466.9h2M60.4 461.9h2M40.6 460.8h2M69.9 470.7h2M53.0 458.3h2M49.4 461.7h2M70.4 444.4h2M51.6 459.8h2M83.6 469.5h2M33.3 468.8h2M79.8 522.9h2M47.0 456.4h2M36.7 461.6h2M65.1 473.2h2M30.0 468.9h2M39.3 469.4h2M44.6 468.4h2M42.9 467.5h2M71.7 464.6h2M46.7 470.9h2M91.9 472.8h2M33.2 464.9h2M65.3 467.5h2M82.7 484.0h2M59.7 459.6h2M93.6 456.9h2M63.2 463.4h2M43.8 469.7h2M59.6 467.8h2M81.3 441.7h2M39.3 473.1h2M39.8 461.3h2M63.3 466.8h2M43.1 470.4h2M71.8 470.4h2M91.8 480.3h2M47.3 504.6h2M65.8 463.8h2M45.7 463.7h2M45.6 456.4h2M65.5 470.1h2M64.5 465.9h2M53.3 467.6h2M114.1 498.8h2M42.0 465.7h2M84.1 465.2h2M65.1 536.6h2M67.4 526.8h2M86.1 451.2h2M69.4 472.8h2M67.0 468.4h2M31.5 460.4h2M102.3 467.9h2M32.6 463.1h2M45.1 465.7h2M70.7 437.5h2M37.9 472.1h2M89.4 469.3h2M52.0 467.8h2M59.0 468.0h2M41.2 463.3h2M55.3 471.5h2M54.5 462.9h2M38.3 469.0h2M28.3 470.8h2M32.4 463.4h2M71.0 468.2h2M101.7 489.1h2M54.1 443.1h2M35.6 468.6h2M33.7 463.6h2M39.9 458.9h2M80.6 451.6h2M44.1 463.2h2M36.8 471.0h2M66.2 472.4h2M71.6 461.9h2M52.9 456.8h2M74.4 487.0h2M39.9 502.6h2M58.1 465.1h2M61.7 456.7h2M71.4 466.0h2M100.1 491.3h2M110.5 500.5h2M62.5 504.2h2M50.6 473.7h2M43.8 465.5h2M51.7 472.1h2M62.1 440.7h2M84.8 473.2h2M32.5 473.5h2M36.8 457.6h2M47.2 473.9h2M48.9 456.9h2M65.9 465.3h2M95.8 461.8h2M74.5 459.6h2M94.1 458.6h2M90.6 442.9h2M40.6 465.1h2M36.1 455.5h2M48.8 467.1h2M48.4 455.3h2M115.4 506.5h2M49.7 468.6h2M71.7 469.4h2M69.9 461.3h2M55.8 461.4h2M61.8 459.3h2M42.8 467.5h2M43.3 455.6h2M39.1 464.8h2M71.7 457.4h2M38.1 458.0h2M36.8 455.7h2M95.7 462.4h2M58.9 501.8h2M45.1 465.9h2M38.8 457.3h2M60.0 530.8h2M84.9 469.4h2M52.7 464.5h2M67.4 456.5h2M50.4 470.9h2M44.2 470.4h2M105.0 487.6h2M56.3 495.4h2M85.3 485.2h2M39.4 465.5h2M67.3 459.6h2M83.1 457.5h2M42.6 461.2h2M48.6 469.5h2M80.3 495.1h2M51.0 472.2h2M38.9 465.7h2M40.6 465.9h2M52.4 472.4h2M41.6 472.2h2M31.7 462.4h2M43.8 461.4h2M71.5 491.5h2M57.8 459.5h2M64.0 460.8h2M39.8 468.7h2M42.9 463.5h2M47.4 451.9h2M83.3 471.1h2M44.0 461.1h2M36.5 467.5h2M48.2 473.9h2M56.1 456.1h2M41.0 461.0h2M86.2 441.5h2M45.9 464.7h2M66.7 463.7h2M38.3 466.2h2M90.8 463.8h2M35.7 456.0h2M83.5 437.8h2M66.1 462.8h2M41.5 467.5h2M37.3 459.8h2M67.4 436.9h2M53.3 458.7h2M60.6 469.7h2M42.2 460.0h2M84.9 438.1h2M76.0 448.0h2M56.6 467.3h2M62.4 468.5h2M118.6 509.6h2M70.4 446.2h2M68.9 440.5h2M37.0 468.0h2M55.3 454.1h2M48.0 462.2h2M58.8 439.3h2M89.6 463.5h2M65.9 464.5h2M44.9 464.0h2M42.2 463.5h2M70.7 472.4h2M58.4 477.8h2M35.5 461.6h2M38.6 471.2h2M81.1 444.2h2M71.6 461.9h2M85.7 467.5h2M46.3 467.1h2M45.6 466.4h2M55.0 470.4h2M62.8 473.5h2M57.4 484.0h2M47.6 463.4h2M49.2 459.4h2M45.3 456.6h2M55.2 470.7h2M63.5 466.3h2M68.0 473.1h2M70.9 461.7h2M71.8 467.6h2M57.0 450.8h2M64.3 450.2h2M82.8 438.6h2M96.8 455.4h2M51.9 472.9h2M56.8 469.8h2M37.5 465.9h2M53.6 460.7h2M47.6 461.9h2M91.3 454.6h2M47.9 455.2h2M52.6 471.2h2M72.8 471.6h2M50.4 465.3h2M37.6 457.4h2M94.9 456.5h2M54.0 497.3h2M51.8 454.9h2M85.6 463.4h2M48.1 458.4h2M54.8 457.6h2M54.5 470.2h2M49.0 468.5h2M48.5 464.2h2M51.8 468.3h2M30.5 460.0h2M85.2 441.4h2M43.9 468.8h2M44.5 469.9h2M98.0 461.8h2M33.0 469.5h2M42.8 464.1h2M79.4 470.2h2M30.0 469.9h2M95.0 468.7h2M57.2 469.6h2M52.9 464.0h2M66.5 472.8h2M65.3 441.6h2M86.2 521.9h2M62.6 448.4h2M69.1 482.7h2M44.3 470.6h2M83.3 449.5h2M57.6 467.7h2M41.0 463.3h2M43.0 462.2h2M66.3 464.9h2M108.7 491.6h2" stroke="#2261a0" stroke-width="1.6"/></g>
<text x="475.33" y="434.50" font-size="8.37" fill="#1a1a1a" stroke="#1a1a1a" stroke-width="0.22" textLength="15.61" lengthAdjust="spacingAndGlyphs">Batf</text>
<g transform="translate(442.64 196.33) scale(0.562)"><use href="#tg"/><path d="M36.4 471.2h2M61.4 466.2h2M112.2 506.7h2M64.8 465.6h2M70.3 468.6h2M99.4 518.3h2M52.1 449.4h2M62.9 461.9h2M67.0 472.1h2M44.9 457.7h2M68.1 471.1h2M62.2 476.3h2M33.4 498.2h2M53.4 506.9h2M64.6 464.8h2M83.2 504.7h2M56.8 455.3h2M49.1 481.2h2M53.4 471.1h2M86.5 520.7h2M36.9 458.0h2M96.0 454.4h2M29.4 464.5h2M46.2 468.9h2M43.5 472.2h2M30.8 460.8h2M48.0 461.5h2M58.7 475.0h2M47.5 458.4h2M62.8 470.7h2M67.4 490.7h2M76.9 488.2h2M39.0 472.4h2M53.3 474.2h2M87.8 478.8h2M67.9 533.2h2M57.8 460.9h2M76.9 457.9h2M61.6 486.1h2M86.7 437.4h2M87.1 481.9h2M38.6 463.7h2M73.6 514.3h2M32.8 466.5h2M66.7 481.2h2M37.3 474.2h2M42.1 457.1h2M55.5 466.1h2M48.3 464.6h2M77.1 536.1h2M101.2 516.3h2M63.7 459.3h2M110.8 510.1h2M40.2 504.4h2M53.7 499.3h2M52.6 496.8h2M36.0 483.3h2M41.3 496.9h2M61.3 530.3h2M33.5 492.5h2M77.1 520.3h2M46.3 499.7h2M55.4 467.9h2M28.4 464.4h2M47.3 469.9h2M35.3 463.5h2M28.6 460.4h2M103.8 524.3h2M72.6 458.6h2M43.0 476.6h2M47.6 461.1h2M40.7 470.8h2M45.5 499.3h2M38.9 474.5h2M54.7 499.4h2M50.2 461.5h2M67.6 471.3h2M119.4 505.5h2M69.5 533.4h2M52.4 463.0h2M67.0 471.2h2M41.2 463.2h2M55.8 456.2h2M40.6 460.8h2M49.4 461.7h2M89.0 473.8h2M33.3 468.8h2M47.0 456.4h2M36.7 461.6h2M65.1 473.2h2M39.3 469.4h2M30.9 493.4h2M99.7 482.8h2M71.7 464.6h2M46.7 470.9h2M65.4 476.4h2M92.6 488.7h2M33.2 464.9h2M99.9 474.1h2M58.5 442.1h2M63.2 463.4h2M59.6 467.8h2M45.8 498.7h2M96.3 478.8h2M96.5 493.7h2M39.3 473.1h2M39.8 461.3h2M43.1 470.4h2M90.7 522.7h2M32.0 463.1h2M71.8 470.4h2M65.8 463.8h2M92.9 512.9h2M65.7 476.3h2M57.7 472.0h2M45.3 466.5h2M48.7 477.3h2M87.9 450.5h2M43.7 497.4h2M86.4 437.8h2M67.4 526.8h2M96.6 447.1h2M85.3 471.7h2M86.1 451.2h2M69.4 472.8h2M54.8 469.3h2M36.6 464.1h2M53.7 477.7h2M32.6 463.1h2M48.5 455.4h2M71.9 522.0h2M67.2 473.9h2M71.1 467.2h2M40.2 489.2h2M52.0 467.8h2M65.9 522.9h2M31.7 466.5h2M73.1 475.2h2M49.1 457.8h2M44.8 477.1h2M75.9 473.6h2M72.5 439.4h2M94.8 443.6h2M28.6 463.0h2M74.1 480.2h2M41.2 463.3h2M69.7 484.2h2M25.3 466.1h2M54.5 462.9h2M74.5 477.7h2M48.0 469.5h2M75.5 484.4h2M28.3 470.8h2M58.8 457.5h2M32.4 463.4h2M49.1 456.8h2M40.2 458.4h2M94.4 488.6h2M48.2 464.9h2M44.1 463.2h2M66.8 464.1h2M95.7 521.0h2M66.2 472.4h2M34.3 463.3h2M74.8 474.2h2M42.2 461.3h2M93.6 484.3h2M52.6 472.5h2M115.4 500.3h2M52.9 456.8h2M56.4 451.3h2M55.8 486.3h2M78.0 517.9h2M42.5 475.8h2M57.5 474.4h2M46.3 500.8h2M47.0 467.7h2M61.7 456.7h2M71.4 466.0h2M70.3 467.5h2M108.7 479.8h2M51.0 479.0h2M78.8 493.2h2M54.5 476.3h2M43.8 465.5h2M57.0 473.7h2M32.3 466.6h2M108.9 511.2h2M68.3 474.9h2M70.3 473.7h2M91.0 515.2h2M51.2 501.2h2M62.3 474.0h2M44.2 499.4h2M40.6 465.1h2M80.0 467.8h2M63.4 458.7h2M54.4 499.4h2M56.4 453.6h2M34.7 457.8h2M36.1 455.5h2M48.4 455.3h2M42.6 498.2h2M76.7 467.7h2M94.6 441.5h2M70.4 473.9h2M69.9 461.3h2M101.8 473.9h2M61.8 459.3h2M41.5 479.8h2M60.6 488.5h2M51.1 475.1h2M43.3 455.6h2M42.7 470.9h2M39.1 464.8h2M60.5 472.7h2M79.0 526.6h2M44.9 498.1h2M85.4 522.2h2M36.8 455.7h2M34.6 467.4h2M82.0 521.5h2M75.2 444.8h2M52.7 464.5h2M28.8 474.1h2M42.9 459.3h2M56.3 469.7h2M71.0 475.1h2M50.4 470.9h2M87.8 490.7h2M67.3 459.6h2M83.4 472.6h2M44.1 492.9h2M42.6 461.2h2M48.6 469.5h2M56.5 472.9h2M89.9 530.6h2M38.9 465.7h2M51.2 457.5h2M66.6 465.7h2M66.5 463.5h2M52.4 472.4h2M98.5 475.6h2M75.6 475.7h2M35.2 467.4h2M44.0 466.5h2M91.2 442.9h2M36.2 457.1h2M58.6 505.4h2M64.0 460.8h2M56.3 498.9h2M46.5 456.4h2M36.5 467.5h2M103.1 493.5h2M48.2 473.9h2M61.5 469.5h2M70.1 460.1h2M41.0 461.0h2M67.2 466.3h2M45.9 464.7h2M88.5 445.5h2M66.7 463.7h2M38.3 466.2h2M54.6 459.6h2M35.7 456.0h2M66.1 462.8h2M55.3 463.1h2M37.3 459.8h2M91.6 489.9h2M57.4 463.9h2M86.9 520.3h2M81.1 441.1h2M60.6 469.7h2M42.2 460.0h2M49.3 497.3h2M82.6 471.8h2M51.0 464.4h2M33.3 462.8h2M118.6 509.6h2M97.5 456.6h2M37.0 468.0h2M48.0 462.2h2M25.5 474.6h2M44.9 464.0h2M42.4 499.4h2M114.4 496.2h2M70.7 472.4h2M35.5 461.6h2M60.0 518.6h2M38.6 471.2h2M42.4 486.7h2M65.9 478.3h2M99.1 491.7h2M41.7 476.4h2M59.0 466.4h2M65.0 489.8h2M95.9 525.4h2M65.2 530.2h2M44.8 500.2h2M106.3 497.3h2M53.3 443.1h2M30.1 487.3h2M93.0 524.6h2M98.3 453.4h2M76.7 473.5h2M56.4 469.3h2M33.7 487.8h2M105.7 510.0h2M71.4 483.8h2M32.6 470.8h2M36.6 468.1h2M45.6 466.4h2M62.8 473.5h2M40.3 485.2h2M69.2 476.0h2M83.5 532.4h2M42.4 463.5h2M45.3 456.6h2M55.2 470.7h2M68.0 473.1h2M51.4 444.2h2M70.9 461.7h2M71.8 467.6h2M66.6 474.8h2M86.4 475.4h2M73.6 481.0h2M49.3 473.9h2M56.8 469.8h2M83.4 488.6h2M66.6 473.7h2M45.0 469.6h2M37.5 465.9h2M51.4 465.0h2M54.2 455.2h2M75.9 470.8h2M71.4 499.3h2M58.5 495.6h2M53.6 460.7h2M96.9 535.2h2M50.1 465.0h2M68.0 437.7h2M49.1 466.2h2M53.8 491.3h2M106.3 455.5h2M47.9 455.2h2M52.6 471.2h2M37.6 457.4h2M43.8 507.1h2M46.9 467.0h2M48.1 458.4h2M74.0 473.6h2M49.0 468.5h2M48.5 464.2h2M74.4 477.4h2M52.4 499.0h2M58.9 485.2h2M47.3 499.2h2M93.0 530.1h2M53.3 461.0h2M57.2 469.6h2M52.9 464.0h2M66.1 465.1h2M66.5 472.8h2M67.9 476.3h2M68.2 447.5h2M30.2 474.7h2M43.2 468.5h2M50.2 496.2h2M43.0 462.2h2M66.3 464.9h2" stroke="#2261a0" stroke-width="1.6"/></g>
<text x="157.70" y="530.10" font-size="8.67" fill="#1a1a1a" stroke="#1a1a1a" stroke-width="0.22" textLength="24.34" lengthAdjust="spacingAndGlyphs">Gata3</text>
<g transform="translate(128.14 290.03) scale(0.562)"><use href="#tg"/><path d="M78.9 439.9h2M95.4 446.5h2M100.9 445.2h2M83.9 443.0h2M101.1 444.1h2M73.5 443.5h2M91.6 449.1h2M95.1 444.9h2M85.2 438.6h2M93.8 439.5h2M73.4 439.8h2M82.8 443.4h2M89.4 457.3h2M97.8 444.9h2M80.9 447.3h2M69.2 436.2h2M81.7 443.6h2M58.4 448.6h2M100.4 445.5h2M97.3 457.6h2M77.1 446.5h2M84.1 442.9h2M69.6 437.9h2M69.7 441.4h2M99.6 446.0h2M61.1 438.7h2M66.5 506.2h2M59.5 442.1h2M62.2 444.5h2M86.9 445.6h2M41.7 505.4h2M86.2 439.2h2M87.9 489.1h2M79.1 435.9h2M85.7 440.8h2M100.4 517.0h2M75.3 440.8h2M92.1 446.8h2M93.0 442.7h2M88.0 436.9h2M64.0 437.9h2M96.3 448.0h2M90.8 448.9h2M97.9 445.2h2M88.2 458.9h2M81.1 450.2h2M83.3 441.5h2M67.3 440.4h2M56.4 443.7h2M103.5 450.8h2M87.6 442.5h2M86.6 442.1h2M100.9 449.9h2M73.5 444.6h2M82.7 442.9h2M101.1 442.3h2M92.3 445.8h2M81.3 441.7h2M89.0 438.5h2M74.1 443.7h2M77.4 437.4h2M80.0 503.9h2M88.9 438.9h2M84.0 445.8h2M87.9 450.5h2M86.4 437.8h2M83.4 441.0h2M99.4 443.7h2M93.4 443.4h2M96.6 447.1h2M86.1 480.0h2M95.1 456.6h2M42.3 438.5h2M58.4 449.6h2M87.1 443.7h2M99.2 484.6h2M65.9 522.9h2M94.8 443.6h2M84.7 443.1h2M87.5 436.3h2M90.3 443.6h2M95.4 450.0h2M73.3 444.6h2M81.4 444.9h2M61.9 437.8h2M28.3 470.8h2M93.1 439.7h2M70.4 443.3h2M87.9 446.2h2M77.2 446.9h2M96.8 451.0h2M94.6 441.6h2M88.7 450.6h2M99.9 449.9h2M99.5 456.0h2M60.0 441.2h2M93.1 439.0h2M85.4 456.9h2M46.7 510.4h2M87.9 442.2h2M109.9 481.4h2M84.6 442.1h2M84.0 447.8h2M77.2 437.5h2M89.8 447.6h2M81.7 437.0h2M89.9 446.1h2M62.2 440.9h2M62.1 440.7h2M77.5 442.6h2M86.0 441.7h2M87.8 444.4h2M97.3 451.1h2M65.9 465.3h2M90.1 444.6h2M90.6 442.9h2M86.1 436.6h2M93.9 449.5h2M87.1 445.1h2M101.1 455.5h2M88.3 445.6h2M84.2 443.6h2M85.4 441.1h2M90.8 444.3h2M94.6 441.5h2M86.8 443.9h2M91.1 458.7h2M99.4 449.9h2M95.7 447.9h2M95.1 446.8h2M77.2 443.5h2M100.4 444.5h2M90.0 456.0h2M92.8 440.1h2M37.6 462.8h2M85.7 439.6h2M88.3 443.5h2M95.6 453.7h2M83.8 445.8h2M104.0 451.9h2M82.3 445.2h2M75.2 444.8h2M100.7 456.8h2M87.5 447.6h2M101.2 450.5h2M96.5 453.0h2M87.1 442.1h2M87.4 445.6h2M70.4 441.0h2M89.2 437.0h2M68.0 443.7h2M86.7 448.0h2M103.7 486.0h2M95.7 446.7h2M96.1 444.3h2M91.2 442.9h2M91.1 447.6h2M77.5 440.7h2M101.8 446.8h2M62.4 441.9h2M84.0 444.9h2M78.3 513.9h2M105.9 494.6h2M50.6 447.9h2M56.1 456.1h2M52.5 440.7h2M92.7 449.4h2M81.1 476.5h2M88.5 445.5h2M56.7 450.1h2M105.6 453.1h2M78.7 436.0h2M76.0 448.0h2M98.1 444.8h2M97.5 456.6h2M92.4 454.2h2M93.8 449.9h2M100.3 439.6h2M92.7 451.5h2M31.3 492.2h2M82.3 439.0h2M79.1 438.8h2M81.1 444.2h2M41.7 476.4h2M76.4 472.1h2M91.3 444.4h2M101.3 443.0h2M103.7 447.3h2M82.0 442.4h2M76.4 436.7h2M92.8 440.6h2M60.9 509.9h2M93.4 449.4h2M79.1 442.0h2M82.6 438.3h2M82.8 438.6h2M85.2 444.2h2M89.1 448.8h2M87.4 447.9h2M56.2 440.9h2M88.7 437.2h2M82.4 442.0h2M80.7 443.2h2M84.3 443.4h2M81.2 445.1h2M87.7 442.6h2M52.6 471.2h2M89.4 451.5h2M94.9 456.5h2M82.0 441.5h2M83.6 440.8h2M88.1 447.6h2M70.0 437.0h2M83.8 443.3h2M85.2 441.4h2M99.1 455.2h2M99.7 441.8h2M95.2 447.2h2M82.1 444.4h2M87.2 444.4h2M101.7 445.0h2M87.7 441.1h2M95.1 450.6h2M87.1 447.7h2M93.3 450.4h2M89.6 442.5h2M92.4 450.6h2M86.4 445.3h2M83.3 449.5h2M101.3 448.9h2M95.1 452.5h2M81.6 441.0h2" stroke="#2261a0" stroke-width="1.6"/></g>
<text x="228.33" y="530.10" font-size="8.37" fill="#1a1a1a" stroke="#1a1a1a" stroke-width="0.22" textLength="15.61" lengthAdjust="spacingAndGlyphs">Atf3</text>
<g transform="translate(194.64 290.03) scale(0.562)"><use href="#tg"/><path d="M78.9 439.9h2M90.7 436.5h2M95.4 446.5h2M100.9 445.2h2M83.9 443.0h2M101.1 444.1h2M90.8 436.8h2M85.5 448.7h2M73.5 443.5h2M91.6 449.1h2M94.4 518.2h2M47.6 444.7h2M95.1 444.9h2M67.4 490.7h2M88.6 539.8h2M85.2 438.6h2M93.8 439.5h2M73.4 439.8h2M86.5 443.1h2M105.6 453.3h2M58.3 518.4h2M82.8 443.4h2M89.4 457.3h2M97.8 444.9h2M80.9 447.3h2M97.0 450.3h2M81.7 443.6h2M100.4 445.5h2M84.1 442.9h2M69.7 441.4h2M99.6 446.0h2M92.5 473.9h2M87.7 439.4h2M90.9 443.0h2M86.9 445.6h2M86.2 439.2h2M79.1 435.9h2M66.0 448.4h2M85.7 440.8h2M75.3 440.8h2M92.1 446.8h2M93.0 442.7h2M88.0 436.9h2M96.3 448.0h2M92.0 440.7h2M90.8 448.9h2M97.9 445.2h2M101.8 444.7h2M81.1 450.2h2M83.3 441.5h2M92.8 451.4h2M56.4 443.7h2M103.5 450.8h2M86.6 442.1h2M73.9 441.3h2M100.9 449.9h2M83.5 441.5h2M73.5 444.6h2M82.7 442.9h2M101.1 442.3h2M92.3 445.8h2M81.3 441.7h2M74.1 443.7h2M77.4 437.4h2M76.4 442.5h2M98.7 453.2h2M88.9 438.9h2M84.0 445.8h2M87.9 450.5h2M83.4 441.0h2M99.4 443.7h2M93.4 443.4h2M95.1 456.6h2M87.1 443.7h2M106.7 484.5h2M94.8 443.6h2M84.7 443.1h2M87.5 436.3h2M90.3 443.6h2M95.4 450.0h2M73.3 444.6h2M81.4 444.9h2M89.9 450.0h2M93.1 439.7h2M54.1 443.1h2M70.4 443.3h2M87.9 446.2h2M81.9 442.1h2M77.2 446.9h2M96.8 451.0h2M108.1 500.0h2M63.0 442.8h2M94.6 441.6h2M93.6 484.3h2M88.7 450.6h2M99.9 449.9h2M93.1 439.0h2M69.6 505.8h2M85.4 456.9h2M87.9 442.2h2M84.6 442.1h2M84.0 447.8h2M77.2 437.5h2M64.0 437.5h2M81.7 437.0h2M89.9 446.1h2M77.5 442.6h2M86.0 441.7h2M84.1 437.6h2M90.1 444.6h2M94.1 458.6h2M86.1 436.6h2M93.9 449.5h2M87.1 445.1h2M101.1 455.5h2M88.3 445.6h2M50.7 444.8h2M84.2 443.6h2M85.4 441.1h2M103.2 447.9h2M90.8 444.3h2M94.6 441.5h2M70.4 473.9h2M86.8 443.9h2M99.4 449.9h2M60.6 488.5h2M95.1 446.8h2M100.4 444.5h2M83.0 444.6h2M92.8 440.1h2M85.7 439.6h2M89.9 514.8h2M88.3 443.5h2M96.1 448.3h2M105.0 455.0h2M95.6 453.7h2M83.8 445.8h2M75.2 444.8h2M50.8 501.1h2M100.7 456.8h2M55.5 447.2h2M87.5 447.6h2M101.2 450.5h2M87.1 442.1h2M87.4 445.6h2M89.2 437.0h2M86.7 448.0h2M96.0 443.9h2M95.7 446.7h2M91.2 442.9h2M101.8 446.8h2M84.0 444.9h2M62.5 444.8h2M52.5 440.7h2M92.7 449.4h2M88.5 445.5h2M66.7 463.7h2M62.5 445.1h2M105.6 453.1h2M100.5 443.3h2M89.9 439.1h2M83.5 437.8h2M81.1 441.1h2M42.2 460.0h2M84.7 449.6h2M84.9 438.1h2M52.0 506.9h2M98.5 450.7h2M76.0 448.0h2M98.1 444.8h2M93.3 529.0h2M93.8 449.9h2M100.3 439.6h2M98.4 475.7h2M58.2 443.9h2M67.9 488.2h2M82.3 439.0h2M48.9 447.5h2M113.9 506.1h2M79.1 438.8h2M81.1 444.2h2M91.3 444.4h2M98.3 453.4h2M79.8 481.9h2M101.3 443.0h2M74.2 444.0h2M103.7 447.3h2M82.0 442.4h2M76.4 436.7h2M92.8 440.6h2M93.4 449.4h2M79.1 442.0h2M82.6 438.3h2M82.8 438.6h2M85.2 444.2h2M89.1 448.8h2M87.4 447.9h2M88.7 437.2h2M91.3 454.6h2M82.4 442.0h2M84.3 443.4h2M81.2 445.1h2M89.4 451.5h2M76.1 531.1h2M82.0 441.5h2M82.6 449.3h2M83.6 440.8h2M88.1 447.6h2M67.9 436.9h2M85.2 441.4h2M99.1 455.2h2M99.7 441.8h2M95.2 447.2h2M82.1 444.4h2M87.2 444.4h2M87.9 452.1h2M101.7 445.0h2M87.7 441.1h2M95.1 450.6h2M66.1 465.1h2M62.6 448.4h2M93.3 450.4h2M98.7 457.1h2M92.4 450.6h2M86.4 445.3h2M83.3 449.5h2M95.1 452.5h2M81.6 441.0h2" stroke="#2261a0" stroke-width="1.6"/></g>
<text x="288.43" y="530.10" font-size="8.67" fill="#1a1a1a" stroke="#1a1a1a" stroke-width="0.22" textLength="25.09" lengthAdjust="spacingAndGlyphs">Runx3</text>
<g transform="translate(261.14 290.03) scale(0.562)"><use href="#tg"/><path d="M78.9 439.9h2M90.7 436.5h2M112.2 506.7h2M95.4 446.5h2M83.9 443.0h2M101.1 444.1h2M102.7 455.5h2M85.5 448.7h2M103.3 494.3h2M73.5 443.5h2M96.0 454.4h2M92.9 460.8h2M95.1 444.9h2M53.3 474.2h2M93.8 439.5h2M73.4 439.8h2M82.8 443.4h2M89.4 457.3h2M82.4 439.7h2M113.6 497.9h2M97.8 444.9h2M97.0 450.3h2M86.7 437.4h2M73.2 533.3h2M58.4 448.6h2M62.4 452.5h2M77.1 446.5h2M106.7 507.3h2M42.5 470.4h2M89.7 525.9h2M59.1 470.0h2M99.6 446.0h2M101.1 454.3h2M62.2 444.5h2M86.9 445.6h2M86.2 439.2h2M115.9 491.1h2M120.8 493.8h2M79.1 435.9h2M104.9 500.5h2M85.7 440.8h2M88.0 461.5h2M75.3 440.8h2M106.0 503.1h2M108.1 510.6h2M67.7 518.9h2M90.8 448.9h2M101.8 444.7h2M83.3 441.5h2M92.8 451.4h2M91.9 472.8h2M58.8 504.5h2M103.5 450.8h2M87.6 442.5h2M93.6 456.9h2M73.9 441.3h2M100.9 449.9h2M83.5 441.5h2M68.3 489.2h2M73.5 444.6h2M82.7 442.9h2M101.1 442.3h2M45.7 503.2h2M67.6 437.8h2M89.0 438.5h2M96.5 493.7h2M30.7 483.5h2M99.9 444.9h2M74.1 443.7h2M110.4 508.9h2M98.7 453.2h2M91.6 474.3h2M99.7 457.7h2M114.2 507.6h2M107.0 498.5h2M84.0 445.8h2M87.9 450.5h2M86.4 437.8h2M83.4 441.0h2M96.6 447.1h2M94.4 443.5h2M90.6 477.8h2M87.1 443.7h2M95.7 451.0h2M44.6 500.4h2M106.7 484.5h2M99.2 484.6h2M77.6 530.6h2M56.7 499.3h2M94.8 443.6h2M90.3 443.6h2M89.9 450.0h2M61.9 437.8h2M86.8 482.3h2M39.9 458.9h2M70.4 443.3h2M87.9 446.2h2M81.9 442.1h2M96.8 451.0h2M94.6 441.6h2M88.7 450.6h2M99.9 449.9h2M122.0 506.0h2M99.5 456.0h2M60.0 441.2h2M107.2 510.7h2M98.9 458.5h2M80.6 451.6h2M84.6 442.1h2M84.0 447.8h2M77.2 437.5h2M66.6 442.2h2M81.7 437.0h2M89.9 446.1h2M86.0 441.7h2M103.0 452.5h2M87.8 444.4h2M53.8 478.2h2M118.4 494.2h2M97.3 451.1h2M90.1 444.6h2M90.6 442.9h2M93.9 449.5h2M87.1 445.1h2M71.4 498.1h2M88.3 445.6h2M91.0 530.1h2M103.9 492.6h2M84.2 443.6h2M85.4 441.1h2M103.2 447.9h2M90.8 444.3h2M94.6 441.5h2M86.8 443.9h2M84.9 435.2h2M92.6 443.9h2M99.4 449.9h2M88.1 445.8h2M95.1 446.8h2M77.2 443.5h2M100.4 444.5h2M83.0 444.6h2M92.8 440.1h2M109.3 505.0h2M89.7 519.2h2M85.2 467.4h2M104.0 451.9h2M82.3 445.2h2M60.1 521.9h2M75.2 444.8h2M100.7 456.8h2M66.3 538.0h2M87.5 447.6h2M123.8 503.6h2M76.2 504.0h2M128.0 501.2h2M80.5 500.0h2M87.4 445.6h2M89.2 437.0h2M86.7 448.0h2M92.9 460.5h2M96.1 444.3h2M91.2 442.9h2M101.8 446.8h2M79.3 447.1h2M121.8 510.0h2M46.5 456.4h2M103.1 493.5h2M101.1 481.1h2M88.5 445.5h2M62.5 445.1h2M54.6 459.6h2M100.5 443.3h2M83.5 437.8h2M60.6 469.7h2M49.3 497.3h2M84.9 438.1h2M76.0 448.0h2M70.4 446.2h2M56.9 437.1h2M58.8 439.3h2M63.2 464.0h2M82.3 439.0h2M121.1 512.3h2M79.1 438.8h2M81.1 444.2h2M91.8 475.6h2M93.8 460.6h2M99.7 484.4h2M85.7 467.5h2M101.3 443.0h2M82.0 442.4h2M118.7 496.3h2M65.9 440.3h2M76.4 436.7h2M70.4 441.1h2M92.5 520.5h2M97.6 482.2h2M49.4 501.3h2M82.6 438.3h2M89.1 448.8h2M46.5 461.1h2M82.4 442.0h2M73.5 522.0h2M80.7 443.2h2M117.5 499.0h2M102.4 456.1h2M89.4 451.5h2M76.1 531.1h2M94.9 456.5h2M82.0 441.5h2M82.6 449.3h2M83.6 440.8h2M77.8 477.8h2M105.0 451.2h2M88.1 447.6h2M59.5 528.4h2M74.8 443.8h2M90.1 457.6h2M82.1 444.4h2M101.7 445.0h2M52.9 464.0h2M95.1 450.6h2M83.3 486.4h2M65.3 441.6h2M110.9 509.6h2M87.1 447.7h2M93.3 450.4h2M89.6 442.5h2M92.4 450.6h2M86.4 445.3h2M83.3 449.5h2M101.3 448.9h2M69.1 524.0h2M87.0 477.3h2M81.6 441.0h2" stroke="#2261a0" stroke-width="1.6"/></g>
<text x="381.35" y="529.90" font-size="8.65" fill="#1a1a1a" stroke="#1a1a1a" stroke-width="0.22" textLength="26.50" lengthAdjust="spacingAndGlyphs">Eomes</text>
<g transform="translate(354.44 290.33) scale(0.562)"><use href="#tg"/><path d="M47.6 502.8h2M51.1 501.3h2M99.9 513.8h2M39.9 458.5h2M33.4 498.2h2M46.0 456.7h2M82.1 531.0h2M53.4 506.9h2M41.8 500.6h2M47.1 497.0h2M36.9 458.0h2M29.4 464.5h2M31.2 469.7h2M91.0 531.7h2M48.0 461.5h2M39.0 472.4h2M107.7 502.3h2M32.7 473.9h2M79.4 468.9h2M82.6 522.3h2M75.3 483.5h2M43.8 498.9h2M69.6 494.2h2M38.6 463.7h2M51.6 443.2h2M54.4 497.0h2M52.3 505.4h2M55.9 502.1h2M41.3 500.6h2M52.8 505.5h2M59.9 509.7h2M44.3 499.7h2M28.1 460.5h2M37.5 504.3h2M80.5 531.3h2M40.2 504.4h2M53.7 499.3h2M41.3 496.9h2M33.5 492.5h2M46.3 499.7h2M29.9 460.7h2M42.7 498.9h2M42.9 503.9h2M91.8 500.0h2M45.2 503.5h2M39.9 464.7h2M47.0 506.4h2M45.5 499.3h2M55.1 504.7h2M38.9 474.5h2M54.7 499.4h2M91.0 480.9h2M41.7 501.3h2M45.5 499.1h2M46.7 499.7h2M40.6 460.8h2M51.6 502.0h2M43.9 502.7h2M46.0 498.6h2M83.2 495.1h2M39.3 502.4h2M52.2 495.0h2M35.9 495.0h2M33.3 468.8h2M108.0 502.2h2M101.8 444.7h2M44.6 468.4h2M33.2 464.9h2M50.1 506.6h2M51.8 501.9h2M29.3 470.3h2M45.7 503.2h2M45.8 498.7h2M89.0 438.5h2M39.3 473.1h2M91.6 474.3h2M42.8 504.9h2M47.3 504.6h2M46.6 504.6h2M39.8 499.3h2M56.7 495.8h2M101.2 455.7h2M37.3 486.6h2M45.3 466.5h2M36.2 502.7h2M43.7 497.4h2M79.6 521.1h2M41.7 500.7h2M32.8 465.2h2M31.5 460.4h2M53.5 504.0h2M36.6 464.1h2M42.1 500.1h2M44.6 500.4h2M97.7 494.9h2M43.1 474.7h2M49.5 500.7h2M43.9 501.6h2M49.9 501.5h2M53.1 497.6h2M31.7 466.5h2M56.7 499.3h2M44.8 477.1h2M28.6 463.0h2M84.7 443.1h2M25.3 466.1h2M48.5 497.1h2M38.3 469.0h2M94.2 455.7h2M50.8 498.6h2M55.9 497.8h2M33.7 463.6h2M39.9 458.9h2M42.6 502.2h2M40.8 471.5h2M44.1 463.2h2M41.7 501.6h2M74.3 513.0h2M36.8 471.0h2M45.2 501.5h2M42.8 500.3h2M40.7 508.1h2M34.3 463.3h2M42.2 461.3h2M46.1 498.4h2M39.9 502.6h2M45.9 501.1h2M44.5 481.9h2M37.3 463.4h2M53.5 503.2h2M46.3 500.8h2M53.0 504.7h2M68.8 483.2h2M47.6 503.0h2M37.7 505.8h2M54.4 497.5h2M32.5 473.5h2M86.0 441.7h2M58.2 443.0h2M65.9 465.3h2M48.2 500.2h2M39.0 503.6h2M39.0 475.0h2M44.2 499.4h2M38.6 457.8h2M35.9 479.7h2M82.6 504.2h2M54.4 499.4h2M44.0 495.4h2M49.4 504.6h2M50.4 506.0h2M50.7 503.2h2M42.6 498.2h2M40.4 500.9h2M52.3 504.8h2M40.8 504.6h2M71.3 492.3h2M42.5 500.1h2M45.8 498.3h2M42.7 470.9h2M39.1 464.8h2M44.9 498.1h2M52.0 502.6h2M96.1 448.3h2M53.0 502.1h2M81.1 489.7h2M50.8 501.1h2M43.8 492.6h2M99.2 462.6h2M56.3 495.4h2M65.1 525.6h2M69.7 486.9h2M51.3 502.8h2M45.2 499.7h2M53.7 504.9h2M38.9 465.7h2M40.6 465.9h2M64.9 523.2h2M51.2 457.5h2M43.8 503.2h2M112.0 485.6h2M53.8 500.8h2M50.2 460.0h2M43.8 461.4h2M51.7 504.1h2M52.9 480.7h2M36.8 481.1h2M45.3 501.5h2M44.9 504.3h2M51.9 502.7h2M35.5 494.1h2M50.6 447.9h2M43.2 505.8h2M55.0 504.3h2M41.0 461.0h2M44.2 504.0h2M100.6 482.7h2M37.5 501.4h2M41.9 466.1h2M83.1 536.5h2M30.5 491.7h2M37.3 459.8h2M35.1 501.8h2M34.8 487.7h2M28.0 489.7h2M52.0 506.9h2M37.1 480.1h2M33.3 462.8h2M33.3 468.5h2M70.4 446.2h2M38.1 506.6h2M37.0 468.0h2M35.2 462.1h2M31.3 492.2h2M44.9 464.0h2M42.4 499.4h2M42.2 463.5h2M25.2 485.1h2M79.7 527.6h2M49.5 495.8h2M30.7 468.7h2M42.7 497.9h2M42.4 486.7h2M81.8 477.3h2M44.8 500.2h2M36.1 480.9h2M54.2 497.2h2M46.5 494.3h2M82.0 442.4h2M33.9 496.3h2M33.7 487.8h2M105.7 510.0h2M36.6 468.1h2M38.8 466.4h2M26.9 486.3h2M57.0 450.8h2M51.7 451.6h2M49.4 501.3h2M79.0 539.4h2M32.8 485.1h2M42.7 506.6h2M45.0 469.6h2M29.2 491.8h2M37.0 486.2h2M45.0 497.9h2M30.8 486.5h2M54.0 497.3h2M47.3 501.3h2M46.9 467.0h2M38.5 505.6h2M42.1 497.9h2M99.0 483.6h2M46.0 497.7h2M62.1 479.7h2M36.8 466.8h2M52.4 499.0h2M35.4 489.0h2M43.9 468.8h2M58.9 485.2h2M47.3 499.2h2M30.0 469.9h2M72.9 440.7h2M53.3 461.0h2M107.7 483.6h2M42.3 502.0h2M70.7 531.1h2M33.7 465.3h2M30.2 474.7h2M43.2 468.5h2M50.2 496.2h2M41.0 463.3h2M43.0 462.2h2" stroke="#2261a0" stroke-width="1.6"/></g>
<text x="470.06" y="529.90" font-size="8.53" fill="#1a1a1a" stroke="#1a1a1a" stroke-width="0.22" textLength="20.30" lengthAdjust="spacingAndGlyphs">Stat1</text>
<g transform="translate(437.14 290.33) scale(0.562)"><use href="#tg"/><path d="M36.4 471.2h2M47.6 502.8h2M51.1 501.3h2M58.2 467.3h2M27.5 489.8h2M39.9 458.5h2M33.4 498.2h2M77.6 525.4h2M53.4 506.9h2M41.8 500.6h2M67.4 490.7h2M39.0 472.4h2M93.8 439.5h2M85.4 525.0h2M69.8 484.0h2M77.5 527.0h2M43.8 498.9h2M38.6 463.7h2M51.6 443.2h2M54.4 497.0h2M52.3 505.4h2M55.9 502.1h2M41.3 500.6h2M44.3 499.7h2M28.1 460.5h2M42.5 470.4h2M37.5 504.3h2M118.2 505.6h2M40.2 504.4h2M53.7 499.3h2M52.6 496.8h2M45.5 464.3h2M41.3 496.9h2M95.7 490.4h2M89.8 469.4h2M46.3 499.7h2M29.9 460.7h2M42.7 498.9h2M100.1 478.1h2M55.4 467.9h2M42.9 503.9h2M43.3 481.6h2M45.2 503.5h2M39.9 464.7h2M47.6 461.1h2M55.1 504.7h2M38.9 474.5h2M54.7 499.4h2M41.7 501.3h2M40.4 466.3h2M45.5 499.1h2M93.8 489.0h2M41.2 463.2h2M46.7 499.7h2M62.3 444.4h2M51.6 502.0h2M43.9 502.7h2M46.0 498.6h2M52.2 495.0h2M35.9 495.0h2M51.6 459.8h2M33.3 468.8h2M36.7 461.6h2M30.0 468.9h2M39.3 469.4h2M30.9 493.4h2M42.9 467.5h2M25.5 482.0h2M30.5 488.8h2M33.2 464.9h2M50.1 506.6h2M50.8 500.7h2M51.9 503.4h2M51.8 501.9h2M43.8 469.7h2M45.7 503.2h2M45.8 498.7h2M96.3 478.8h2M89.0 438.5h2M30.7 483.5h2M51.6 496.1h2M41.8 503.3h2M43.1 470.4h2M35.1 471.2h2M32.0 463.1h2M42.8 504.9h2M47.3 504.6h2M46.6 504.6h2M32.2 485.2h2M39.8 499.3h2M56.7 495.8h2M91.7 467.9h2M36.2 502.7h2M51.1 476.3h2M42.0 465.7h2M32.7 493.9h2M48.0 501.5h2M43.7 497.4h2M41.7 500.7h2M53.5 504.0h2M36.6 464.1h2M42.1 500.1h2M44.6 500.4h2M46.0 462.1h2M43.1 474.7h2M49.5 500.7h2M43.9 501.6h2M49.9 501.5h2M37.9 472.1h2M40.2 489.2h2M53.1 497.6h2M31.7 466.5h2M56.7 499.3h2M44.8 477.1h2M28.6 463.0h2M49.0 503.2h2M27.9 484.7h2M41.2 463.3h2M25.3 466.1h2M28.3 470.8h2M50.8 498.6h2M55.9 497.8h2M85.7 524.0h2M33.7 463.6h2M39.9 458.9h2M39.6 469.0h2M44.1 463.2h2M40.3 484.5h2M41.7 501.6h2M45.2 501.5h2M42.8 500.3h2M42.2 461.3h2M46.1 498.4h2M93.6 484.3h2M39.9 502.6h2M45.9 501.1h2M57.5 474.4h2M30.4 489.9h2M81.8 521.0h2M44.5 481.9h2M53.5 503.2h2M46.3 500.8h2M53.0 504.7h2M54.9 471.2h2M47.6 503.0h2M40.3 502.8h2M43.8 465.5h2M37.7 505.8h2M54.4 497.5h2M32.5 473.5h2M51.2 501.2h2M105.2 488.1h2M48.2 500.2h2M39.0 503.6h2M39.0 475.0h2M44.2 499.4h2M34.3 491.8h2M75.9 535.3h2M40.6 465.1h2M54.4 499.4h2M56.4 453.6h2M44.0 495.4h2M50.7 444.8h2M49.4 504.6h2M50.7 503.2h2M42.6 498.2h2M52.3 504.8h2M49.7 468.6h2M40.8 504.6h2M91.1 458.7h2M73.1 489.2h2M41.5 479.8h2M42.5 500.1h2M42.8 467.5h2M45.8 498.3h2M42.7 470.9h2M39.1 464.8h2M44.9 498.1h2M52.0 502.6h2M31.8 484.6h2M53.0 502.1h2M50.8 501.1h2M43.8 492.6h2M28.8 474.1h2M56.3 495.4h2M51.3 502.8h2M45.2 499.7h2M44.1 492.9h2M68.0 443.7h2M53.7 504.9h2M73.3 498.6h2M36.8 466.0h2M43.8 503.2h2M31.7 462.4h2M35.2 467.4h2M53.8 500.8h2M34.2 481.7h2M43.8 461.4h2M83.7 495.6h2M51.7 504.1h2M101.9 510.4h2M42.9 463.5h2M45.3 501.5h2M44.9 504.3h2M41.4 452.5h2M51.9 502.7h2M35.5 494.1h2M55.0 504.3h2M44.2 504.0h2M101.1 481.1h2M98.4 484.2h2M86.2 441.5h2M59.4 528.6h2M35.7 456.0h2M37.5 501.4h2M35.1 501.8h2M83.8 528.8h2M34.8 487.7h2M81.6 510.2h2M53.0 447.8h2M60.6 469.7h2M28.0 489.7h2M42.2 460.0h2M49.3 497.3h2M100.2 480.1h2M33.3 468.5h2M38.1 506.6h2M89.6 463.5h2M35.2 462.1h2M31.3 492.2h2M42.4 499.4h2M45.9 500.1h2M49.5 495.8h2M30.7 468.7h2M77.6 494.6h2M35.5 461.6h2M42.7 497.9h2M88.3 474.5h2M63.1 470.1h2M88.0 525.2h2M76.7 473.5h2M54.2 497.2h2M46.5 494.3h2M56.1 450.4h2M33.9 496.3h2M32.6 470.8h2M36.6 468.1h2M55.2 470.7h2M26.9 486.3h2M49.4 501.3h2M100.2 494.4h2M31.3 488.8h2M32.8 485.1h2M73.6 481.0h2M42.7 506.6h2M37.5 465.9h2M91.3 454.6h2M51.1 502.6h2M102.7 487.9h2M53.8 491.3h2M88.4 529.4h2M45.0 497.9h2M30.8 486.5h2M82.0 441.5h2M54.0 497.3h2M47.3 501.3h2M106.8 507.9h2M27.4 489.9h2M38.5 505.6h2M42.1 497.9h2M32.0 492.1h2M46.0 497.7h2M31.7 488.9h2M30.5 460.0h2M52.4 499.0h2M35.4 489.0h2M43.9 468.8h2M47.3 499.2h2M33.0 469.5h2M42.8 464.1h2M45.6 476.0h2M41.1 482.1h2M53.3 461.0h2M83.5 479.4h2M69.4 529.2h2M48.7 497.5h2M42.3 502.0h2M70.7 531.1h2M44.3 470.6h2M30.2 474.7h2M50.2 496.2h2M69.1 524.0h2M43.0 462.2h2M38.6 462.2h2" stroke="#2261a0" stroke-width="1.6"/></g>
<text x="221.40" y="421.00" font-size="8.76" fill="#1a1a1a" stroke="#1a1a1a" stroke-width="0.22" textLength="35.81" lengthAdjust="spacingAndGlyphs">Cluster 2</text>
<text x="401.20" y="421.00" font-size="9.03" fill="#1a1a1a" stroke="#1a1a1a" stroke-width="0.22" textLength="36.25" lengthAdjust="spacingAndGlyphs">Cluster 3</text>
<text x="218.09" y="518.50" font-size="8.90" fill="#1a1a1a" stroke="#1a1a1a" stroke-width="0.22" textLength="36.52" lengthAdjust="spacingAndGlyphs">Cluster 4</text>
<text x="423.10" y="518.40" font-size="8.62" fill="#1a1a1a" stroke="#1a1a1a" stroke-width="0.22" textLength="35.62" lengthAdjust="spacingAndGlyphs">Cluster 5</text>
<line x1="312.20" y1="432.70" x2="312.20" y2="499.80" stroke="#111" stroke-width="1.1"/>
<line x1="338.90" y1="530.50" x2="338.90" y2="596.50" stroke="#111" stroke-width="1.1"/>
<rect x="0.5" y="0.5" width="519" height="602" fill="none" stroke="#000" stroke-width="1.2"/>
</svg>
</body></html>
